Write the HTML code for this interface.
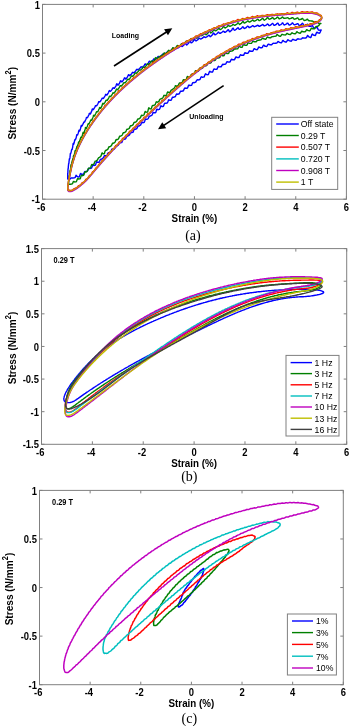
<!DOCTYPE html>
<html><head><meta charset="utf-8"><style>
html,body{margin:0;padding:0;background:#fff;width:350px;height:726px;overflow:hidden}
svg{display:block;filter:blur(0.35px)}
text{font-family:"Liberation Sans", sans-serif;fill:#000}
.tk{font-size:9.4px;font-weight:bold}
.lb{font-size:9.8px;font-weight:bold}
.lg{font-size:8.7px}
.an{font-size:7px;font-weight:bold}
.an2{font-size:7.4px;font-weight:bold}
.cap{font-family:"Liberation Serif", serif;font-size:14px}
</style></head><body>
<svg width="350" height="726" viewBox="0 0 350 726">
<rect width="350" height="726" fill="#fff"/>
<g stroke="#808080" stroke-width="1" fill="none">
<line x1="42.50" y1="199.20" x2="42.50" y2="196.20" />
<line x1="42.50" y1="4.40" x2="42.50" y2="7.40" />
<line x1="93.15" y1="199.20" x2="93.15" y2="196.20" />
<line x1="93.15" y1="4.40" x2="93.15" y2="7.40" />
<line x1="143.80" y1="199.20" x2="143.80" y2="196.20" />
<line x1="143.80" y1="4.40" x2="143.80" y2="7.40" />
<line x1="194.45" y1="199.20" x2="194.45" y2="196.20" />
<line x1="194.45" y1="4.40" x2="194.45" y2="7.40" />
<line x1="245.10" y1="199.20" x2="245.10" y2="196.20" />
<line x1="245.10" y1="4.40" x2="245.10" y2="7.40" />
<line x1="295.75" y1="199.20" x2="295.75" y2="196.20" />
<line x1="295.75" y1="4.40" x2="295.75" y2="7.40" />
<line x1="346.40" y1="199.20" x2="346.40" y2="196.20" />
<line x1="346.40" y1="4.40" x2="346.40" y2="7.40" />
<line x1="42.50" y1="199.20" x2="45.50" y2="199.20" />
<line x1="346.40" y1="199.20" x2="343.40" y2="199.20" />
<line x1="42.50" y1="150.50" x2="45.50" y2="150.50" />
<line x1="346.40" y1="150.50" x2="343.40" y2="150.50" />
<line x1="42.50" y1="101.80" x2="45.50" y2="101.80" />
<line x1="346.40" y1="101.80" x2="343.40" y2="101.80" />
<line x1="42.50" y1="53.10" x2="45.50" y2="53.10" />
<line x1="346.40" y1="53.10" x2="343.40" y2="53.10" />
<line x1="42.50" y1="4.40" x2="45.50" y2="4.40" />
<line x1="346.40" y1="4.40" x2="343.40" y2="4.40" />
<rect x="42.50" y="4.40" width="303.90" height="194.80" fill="none" />
<line x1="41.50" y1="444.30" x2="41.50" y2="441.30" />
<line x1="41.50" y1="248.60" x2="41.50" y2="251.60" />
<line x1="92.37" y1="444.30" x2="92.37" y2="441.30" />
<line x1="92.37" y1="248.60" x2="92.37" y2="251.60" />
<line x1="143.23" y1="444.30" x2="143.23" y2="441.30" />
<line x1="143.23" y1="248.60" x2="143.23" y2="251.60" />
<line x1="194.10" y1="444.30" x2="194.10" y2="441.30" />
<line x1="194.10" y1="248.60" x2="194.10" y2="251.60" />
<line x1="244.97" y1="444.30" x2="244.97" y2="441.30" />
<line x1="244.97" y1="248.60" x2="244.97" y2="251.60" />
<line x1="295.83" y1="444.30" x2="295.83" y2="441.30" />
<line x1="295.83" y1="248.60" x2="295.83" y2="251.60" />
<line x1="346.70" y1="444.30" x2="346.70" y2="441.30" />
<line x1="346.70" y1="248.60" x2="346.70" y2="251.60" />
<line x1="41.50" y1="444.30" x2="44.50" y2="444.30" />
<line x1="346.70" y1="444.30" x2="343.70" y2="444.30" />
<line x1="41.50" y1="411.68" x2="44.50" y2="411.68" />
<line x1="346.70" y1="411.68" x2="343.70" y2="411.68" />
<line x1="41.50" y1="379.07" x2="44.50" y2="379.07" />
<line x1="346.70" y1="379.07" x2="343.70" y2="379.07" />
<line x1="41.50" y1="346.45" x2="44.50" y2="346.45" />
<line x1="346.70" y1="346.45" x2="343.70" y2="346.45" />
<line x1="41.50" y1="313.83" x2="44.50" y2="313.83" />
<line x1="346.70" y1="313.83" x2="343.70" y2="313.83" />
<line x1="41.50" y1="281.22" x2="44.50" y2="281.22" />
<line x1="346.70" y1="281.22" x2="343.70" y2="281.22" />
<line x1="41.50" y1="248.60" x2="44.50" y2="248.60" />
<line x1="346.70" y1="248.60" x2="343.70" y2="248.60" />
<rect x="41.50" y="248.60" width="305.20" height="195.70" fill="none" />
<line x1="39.50" y1="684.70" x2="39.50" y2="681.70" />
<line x1="39.50" y1="490.40" x2="39.50" y2="493.40" />
<line x1="90.13" y1="684.70" x2="90.13" y2="681.70" />
<line x1="90.13" y1="490.40" x2="90.13" y2="493.40" />
<line x1="140.77" y1="684.70" x2="140.77" y2="681.70" />
<line x1="140.77" y1="490.40" x2="140.77" y2="493.40" />
<line x1="191.40" y1="684.70" x2="191.40" y2="681.70" />
<line x1="191.40" y1="490.40" x2="191.40" y2="493.40" />
<line x1="242.03" y1="684.70" x2="242.03" y2="681.70" />
<line x1="242.03" y1="490.40" x2="242.03" y2="493.40" />
<line x1="292.67" y1="684.70" x2="292.67" y2="681.70" />
<line x1="292.67" y1="490.40" x2="292.67" y2="493.40" />
<line x1="343.30" y1="684.70" x2="343.30" y2="681.70" />
<line x1="343.30" y1="490.40" x2="343.30" y2="493.40" />
<line x1="39.50" y1="684.70" x2="42.50" y2="684.70" />
<line x1="343.30" y1="684.70" x2="340.30" y2="684.70" />
<line x1="39.50" y1="636.12" x2="42.50" y2="636.12" />
<line x1="343.30" y1="636.12" x2="340.30" y2="636.12" />
<line x1="39.50" y1="587.55" x2="42.50" y2="587.55" />
<line x1="343.30" y1="587.55" x2="340.30" y2="587.55" />
<line x1="39.50" y1="538.98" x2="42.50" y2="538.98" />
<line x1="343.30" y1="538.98" x2="340.30" y2="538.98" />
<line x1="39.50" y1="490.40" x2="42.50" y2="490.40" />
<line x1="343.30" y1="490.40" x2="340.30" y2="490.40" />
<rect x="39.50" y="490.40" width="303.80" height="194.30" fill="none" />
</g>
<polyline points="67.7,178.8 67.7,179.1 67.7,178.4 67.7,177.4 67.7,176.5 67.7,175.5 67.7,173.9 67.8,172.9 67.8,173.2 67.8,173.7 67.8,173.4 67.9,172.6 67.9,171.9 67.9,171.2 68.0,170.3 68.0,169.2 68.1,168.6 68.1,168.6 68.2,168.7 68.2,168.3 68.3,167.5 68.3,166.8 68.4,166.1 68.5,165.2 68.6,164.1 68.6,163.6 68.7,163.6 68.8,163.6 68.9,163.1 69.0,162.4 69.0,161.7 69.1,161.1 69.2,160.3 69.3,159.4 69.4,158.8 69.5,158.7 69.6,159.1 69.7,158.8 69.9,157.9 70.0,157.1 70.1,156.3 70.2,155.2 70.3,154.0 70.5,153.3 70.6,153.6 70.7,153.6 70.8,153.1 71.0,152.5 71.1,152.0 71.3,151.4 71.4,150.8 71.5,150.2 71.7,149.6 71.9,149.2 72.0,149.4 72.2,149.5 72.3,148.7 72.5,147.8 72.7,147.0 72.8,146.0 73.0,144.6 73.2,143.5 73.3,143.7 73.5,144.3 73.7,144.2 73.9,143.6 74.1,142.9 74.3,142.3 74.4,141.6 74.6,140.7 74.8,139.9 75.0,139.5 75.2,139.6 75.4,139.8 75.6,139.4 75.8,138.6 76.1,137.9 76.3,137.2 76.5,136.2 76.7,135.1 76.9,134.6 77.1,134.9 77.4,135.1 77.6,134.9 77.8,134.2 78.1,133.5 78.3,132.9 78.5,132.0 78.8,131.0 79.0,130.3 79.2,130.3 79.5,130.8 79.7,131.0 80.0,130.3 80.2,129.4 80.5,128.7 80.7,127.8 81.0,126.5 81.3,125.5 81.5,125.4 81.8,126.2 82.1,125.8 82.3,125.3 82.6,124.8 82.9,124.2 83.2,123.7 83.4,123.1 83.7,122.5 84.0,122.1 84.3,121.8 84.6,122.0 84.8,121.6 85.1,120.9 85.4,120.3 85.7,119.7 86.0,118.9 86.3,117.9 86.6,117.4 86.9,117.5 87.2,117.7 87.5,117.6 87.8,117.0 88.1,116.3 88.5,115.7 88.8,115.0 89.1,114.1 89.4,113.4 89.7,113.3 90.0,113.8 90.4,114.0 90.7,113.4 91.0,112.6 91.3,111.9 91.7,111.1 92.0,109.9 92.3,108.9 92.7,108.9 93.0,109.7 93.4,109.5 93.7,109.1 94.0,108.5 94.4,107.9 94.7,107.4 95.1,106.6 95.4,105.9 95.8,105.6 96.1,105.7 96.5,105.9 96.8,105.6 97.2,104.9 97.6,104.3 97.9,103.7 98.3,102.8 98.6,101.9 99.0,101.6 99.4,101.9 99.7,102.0 100.1,101.7 100.5,101.1 100.9,100.5 101.2,100.0 101.6,99.3 102.0,98.5 102.4,98.1 102.7,98.2 103.1,98.5 103.5,98.4 103.9,97.7 104.3,97.1 104.7,96.5 105.1,95.7 105.5,94.7 105.8,94.3 106.2,94.6 106.6,95.1 107.0,95.0 107.4,94.3 107.8,93.6 108.2,93.1 108.6,92.2 109.0,91.1 109.4,90.6 109.8,91.0 110.3,91.3 110.7,91.1 111.1,90.6 111.5,90.1 111.9,89.6 112.3,89.0 112.7,88.2 113.1,87.8 113.6,87.9 114.0,88.4 114.4,88.4 114.8,87.7 115.2,87.0 115.7,86.4 116.1,85.4 116.5,84.3 116.9,83.8 117.4,84.4 117.8,85.1 118.2,85.1 118.7,84.4 119.1,83.7 119.5,83.2 119.9,82.2 120.4,81.1 120.8,80.7 121.3,81.3 121.7,81.9 122.1,81.8 122.6,81.1 123.0,80.5 123.5,80.0 123.9,79.1 124.3,78.1 124.8,77.8 125.2,78.3 125.7,79.0 126.1,78.8 126.6,78.1 127.0,77.5 127.5,76.9 127.9,76.0 128.4,74.9 128.8,74.7 129.3,75.4 129.7,75.7 130.2,75.4 130.6,74.8 131.1,74.4 131.6,73.9 132.0,73.2 132.5,72.5 132.9,72.3 133.4,72.6 133.9,72.9 134.3,72.6 134.8,72.0 135.2,71.5 135.7,71.0 136.2,70.2 136.6,69.4 137.1,69.3 137.6,69.8 138.0,69.9 138.5,69.6 139.0,69.1 139.4,68.7 139.9,68.2 140.4,67.5 140.9,66.9 141.3,66.8 141.8,67.1 142.3,67.4 142.7,67.0 143.2,66.4 143.7,66.0 144.2,65.5 144.6,64.7 145.1,64.0 145.6,64.0 146.1,64.5 146.5,64.9 147.0,64.6 147.5,63.9 148.0,63.4 148.5,62.8 148.9,61.9 149.4,61.1 149.9,61.3 150.4,61.9 150.9,62.0 151.3,61.7 151.8,61.2 152.3,60.8 152.8,60.3 153.3,59.6 153.7,59.0 154.2,59.0 154.7,59.4 155.2,59.6 155.7,59.3 156.2,58.8 156.6,58.4 157.1,57.9 157.6,57.1 158.1,56.5 158.6,56.5 159.1,57.0 159.5,57.2 160.0,56.8 160.5,56.4 161.0,56.0 161.5,55.5 162.0,54.9 162.5,54.3 163.0,54.2 163.4,54.6 163.9,54.8 164.4,54.5 164.9,54.1 165.4,53.7 165.9,53.3 166.4,52.7 166.9,52.1 167.4,52.0 167.8,52.3 168.3,52.6 168.8,52.4 169.3,51.9 169.8,51.5 170.3,51.1 170.8,50.5 171.3,49.9 171.8,49.7 172.3,50.0 172.8,50.5 173.3,50.4 173.8,49.9 174.3,49.5 174.8,49.1 175.2,48.4 175.7,47.6 176.2,47.4 176.7,47.8 177.2,48.2 177.7,48.1 178.2,47.7 178.7,47.4 179.2,47.0 179.7,46.6 180.2,46.0 180.7,45.7 181.2,45.8 181.7,46.3 182.2,46.5 182.7,46.1 183.2,45.6 183.7,45.2 184.2,44.7 184.7,43.8 185.2,43.3 185.7,43.6 186.2,44.5 186.7,45.0 187.2,44.6 187.8,43.9 188.3,43.5 188.8,42.9 189.3,41.8 189.8,41.0 190.3,41.3 190.8,42.4 191.3,42.9 191.8,42.7 192.3,42.1 192.8,41.7 193.3,41.2 193.8,40.4 194.3,39.6 194.9,39.6 195.4,40.4 195.9,40.9 196.4,40.8 196.9,40.3 197.4,40.0 197.9,39.6 198.4,39.0 198.9,38.3 199.5,38.1 200.0,38.6 200.5,39.0 201.0,39.0 201.5,38.6 202.0,38.3 202.6,38.0 203.1,37.6 203.6,37.0 204.1,36.8 204.6,37.0 205.1,37.4 205.7,37.5 206.2,37.2 206.7,36.8 207.2,36.6 207.7,36.2 208.3,35.6 208.8,35.2 209.3,35.4 209.8,36.2 210.3,36.7 210.9,36.4 211.4,35.7 211.9,35.4 212.4,34.8 213.0,33.7 213.5,33.0 214.0,33.4 214.5,34.5 215.1,34.9 215.6,34.7 216.1,34.2 216.6,33.9 217.2,33.5 217.7,32.9 218.2,32.2 218.7,32.3 219.3,33.0 219.8,33.4 220.3,33.3 220.9,32.9 221.4,32.6 221.9,32.3 222.5,31.8 223.0,31.3 223.5,31.3 224.1,31.7 224.6,32.4 225.1,32.3 225.7,31.9 226.2,31.6 226.7,31.2 227.3,30.6 227.8,29.9 228.3,29.8 228.9,30.5 229.4,31.6 229.9,31.8 230.5,31.2 231.0,30.7 231.6,30.3 232.1,29.4 232.6,28.3 233.2,28.1 233.7,29.3 234.3,30.1 234.8,30.2 235.4,29.8 235.9,29.5 236.4,29.2 237.0,28.6 237.5,28.0 238.1,27.8 238.6,28.4 239.2,29.3 239.7,29.4 240.3,29.0 240.8,28.6 241.4,28.3 241.9,27.7 242.5,26.9 243.0,26.8 243.5,27.5 244.1,28.4 244.6,28.5 245.2,28.1 245.7,27.8 246.3,27.5 246.8,26.9 247.4,26.2 247.9,26.1 248.5,26.8 249.1,27.5 249.6,27.6 250.2,27.2 250.7,27.0 251.3,26.7 251.8,26.3 252.4,25.7 252.9,25.6 253.5,26.2 254.0,26.6 254.6,26.7 255.1,26.4 255.7,26.2 256.2,26.1 256.8,25.7 257.4,25.3 257.9,25.3 258.5,25.7 259.0,26.2 259.6,26.3 260.1,26.0 260.7,25.7 261.2,25.5 261.8,25.1 262.4,24.5 262.9,24.5 263.5,25.2 264.0,25.8 264.6,25.8 265.1,25.5 265.7,25.3 266.2,25.1 266.8,24.6 267.4,24.0 267.9,24.1 268.5,24.8 269.0,25.6 269.6,25.6 270.1,25.3 270.7,25.0 271.2,24.7 271.8,24.1 272.4,23.4 272.9,23.5 273.5,24.5 274.0,25.4 274.6,25.4 275.1,25.0 275.7,24.7 276.2,24.5 276.8,23.8 277.4,23.1 277.9,23.2 278.5,24.2 279.0,25.2 279.6,25.2 280.1,24.8 280.7,24.6 281.2,24.3 281.8,23.6 282.3,22.9 282.9,23.0 283.4,24.1 284.0,24.9 284.5,25.0 285.1,24.6 285.6,24.4 286.2,24.2 286.7,23.7 287.3,23.1 287.8,23.1 288.4,24.0 288.9,24.9 289.5,25.1 290.0,24.8 290.6,24.5 291.1,24.3 291.7,23.7 292.2,23.0 292.8,23.0 293.3,23.9 293.9,24.6 294.4,24.8 295.0,24.6 295.5,24.5 296.1,24.4 296.6,24.1 297.2,23.7 297.7,23.6 298.2,24.1 298.8,25.0 299.3,25.6 299.9,25.3 300.4,25.0 300.9,24.8 301.5,24.4 302.0,23.6 302.5,23.2 303.1,23.9 303.6,25.1 304.1,25.7 304.7,25.7 305.2,25.5 305.7,25.4 306.2,25.2 306.8,24.7 307.3,24.2 307.8,24.4 308.3,25.3 308.8,26.2 309.3,26.4 309.8,26.3 310.3,26.3 310.8,26.3 311.3,26.1 311.8,25.8 312.3,25.6 312.8,26.1 313.3,27.1 313.8,27.9 314.3,28.1 314.8,27.9 315.3,27.9 315.7,27.9 316.2,27.6 316.7,27.2 317.2,27.4 317.6,28.3 318.1,29.4 318.5,30.0 319.0,30.1 319.4,30.1 319.9,30.3 320.3,30.3 320.8,30.0 321.2,30.0 320.8,30.6 320.4,31.7 319.9,32.8 319.5,33.2 319.1,33.0 318.6,33.0 318.2,33.1 317.8,32.8 317.3,32.3 316.9,32.1 316.4,32.8 316.0,34.1 315.5,35.3 315.1,35.6 314.6,35.4 314.2,35.3 313.7,35.3 313.3,35.0 312.8,34.3 312.4,34.0 311.9,34.6 311.4,35.9 311.0,37.2 310.5,37.6 310.0,37.3 309.6,37.1 309.1,37.0 308.6,36.7 308.1,35.9 307.7,35.4 307.2,35.9 306.7,37.3 306.2,37.8 305.7,38.0 305.3,38.0 304.8,38.0 304.3,38.1 303.8,38.1 303.3,37.9 302.8,37.8 302.3,38.0 301.9,38.5 301.4,38.9 300.9,39.1 300.4,39.1 299.9,39.1 299.4,39.1 298.9,39.1 298.4,38.9 297.9,38.8 297.4,39.0 296.9,39.4 296.4,40.1 295.9,40.3 295.4,40.2 294.9,40.1 294.4,40.0 293.9,39.9 293.4,39.5 292.9,39.3 292.4,39.6 291.9,40.3 291.4,41.1 290.9,41.2 290.4,41.0 289.9,40.9 289.4,40.8 288.9,40.5 288.4,40.0 287.9,39.8 287.4,40.3 286.9,41.2 286.4,42.0 285.9,42.2 285.4,41.9 284.9,41.7 284.4,41.6 283.9,41.2 283.4,40.6 282.9,40.4 282.4,41.0 281.9,42.1 281.4,42.8 280.9,42.8 280.4,42.6 279.9,42.5 279.5,42.4 279.0,42.1 278.5,41.6 278.0,41.5 277.5,42.1 277.0,42.9 276.5,43.1 276.0,43.2 275.5,43.3 275.0,43.3 274.6,43.4 274.1,43.4 273.6,43.3 273.1,43.4 272.6,43.7 272.1,44.2 271.6,44.8 271.2,44.8 270.7,44.7 270.2,44.7 269.7,44.7 269.2,44.5 268.8,44.1 268.3,44.1 267.8,44.7 267.3,45.6 266.8,46.4 266.4,46.5 265.9,46.3 265.4,46.2 264.9,46.2 264.5,45.8 264.0,45.3 263.5,45.2 263.0,45.9 262.6,47.0 262.1,47.7 261.6,47.9 261.2,47.8 260.7,47.7 260.2,47.7 259.8,47.5 259.3,47.1 258.8,47.0 258.4,47.6 257.9,48.7 257.4,49.5 257.0,49.7 256.5,49.6 256.0,49.5 255.6,49.5 255.1,49.2 254.6,48.7 254.2,48.6 253.7,49.2 253.3,50.4 252.8,51.1 252.3,51.3 251.9,51.2 251.4,51.2 251.0,51.3 250.5,51.2 250.0,50.9 249.6,50.8 249.1,51.3 248.7,52.2 248.2,53.0 247.8,53.2 247.3,53.2 246.8,53.2 246.4,53.3 245.9,53.2 245.5,52.9 245.0,52.8 244.6,53.3 244.1,54.2 243.7,55.1 243.2,55.4 242.8,55.3 242.3,55.3 241.9,55.4 241.4,55.3 241.0,54.9 240.5,54.8 240.1,55.2 239.6,56.2 239.2,57.2 238.7,57.6 238.3,57.5 237.8,57.5 237.4,57.6 236.9,57.5 236.5,57.1 236.1,56.9 235.6,57.3 235.2,58.4 234.7,59.3 234.3,59.8 233.8,59.7 233.4,59.7 232.9,59.8 232.5,59.7 232.1,59.4 231.6,59.2 231.2,59.6 230.7,60.6 230.3,61.6 229.9,62.0 229.4,62.0 229.0,62.0 228.5,62.1 228.1,62.1 227.7,61.8 227.2,61.6 226.8,62.0 226.3,62.9 225.9,63.7 225.5,64.1 225.0,64.2 224.6,64.3 224.2,64.4 223.7,64.5 223.3,64.3 222.8,64.2 222.4,64.6 222.0,65.3 221.5,66.3 221.1,66.8 220.7,66.9 220.2,66.8 219.8,66.9 219.4,66.9 218.9,66.6 218.5,66.3 218.1,66.7 217.6,67.7 217.2,68.7 216.8,69.2 216.3,69.3 215.9,69.3 215.5,69.4 215.1,69.4 214.6,69.2 214.2,68.9 213.8,69.2 213.3,70.2 212.9,71.4 212.5,72.0 212.1,72.1 211.6,72.0 211.2,72.0 210.8,72.0 210.3,71.6 209.9,71.2 209.5,71.5 209.1,72.6 208.6,74.0 208.2,74.6 207.8,74.7 207.4,74.6 206.9,74.6 206.5,74.6 206.1,74.2 205.7,73.8 205.3,74.1 204.8,75.2 204.4,76.4 204.0,77.0 203.6,77.1 203.1,77.1 202.7,77.2 202.3,77.3 201.9,77.0 201.5,76.8 201.0,77.1 200.6,78.0 200.2,79.0 199.8,79.5 199.4,79.7 198.9,79.7 198.5,79.9 198.1,80.0 197.7,79.8 197.3,79.7 196.9,80.0 196.4,80.8 196.0,81.7 195.6,82.2 195.2,82.4 194.8,82.4 194.4,82.6 194.0,82.7 193.5,82.6 193.1,82.5 192.7,82.8 192.3,83.6 191.9,84.6 191.5,85.3 191.1,85.4 190.6,85.4 190.2,85.5 189.8,85.6 189.4,85.3 189.0,85.0 188.6,85.3 188.2,86.3 187.8,87.4 187.4,88.0 187.0,88.2 186.5,88.2 186.1,88.3 185.7,88.4 185.3,88.2 184.9,88.0 184.5,88.3 184.1,89.2 183.7,90.2 183.3,90.8 182.9,91.0 182.5,91.0 182.1,91.2 181.7,91.3 181.3,91.2 180.8,91.1 180.4,91.4 180.0,92.2 179.6,93.2 179.2,93.9 178.8,94.0 178.4,94.0 178.0,94.2 177.6,94.3 177.2,94.1 176.8,93.9 176.4,94.2 176.0,95.1 175.6,96.1 175.2,96.7 174.8,96.8 174.4,96.9 174.0,97.1 173.6,97.3 173.2,97.2 172.8,97.1 172.4,97.4 172.0,98.2 171.6,99.3 171.2,100.1 170.8,100.2 170.4,100.2 170.0,100.3 169.6,100.3 169.2,100.0 168.8,99.8 168.5,100.1 168.1,101.2 167.7,102.2 167.3,102.8 166.9,103.0 166.5,103.1 166.1,103.3 165.7,103.4 165.3,103.3 164.9,103.2 164.5,103.6 164.1,104.4 163.7,105.7 163.3,106.4 162.9,106.5 162.6,106.4 162.2,106.5 161.8,106.5 161.4,106.1 161.0,105.8 160.6,106.2 160.2,107.5 159.8,108.7 159.4,109.3 159.1,109.4 158.7,109.5 158.3,109.6 157.9,109.7 157.5,109.4 157.1,109.2 156.7,109.6 156.3,110.7 156.0,111.9 155.6,112.6 155.2,112.7 154.8,112.7 154.4,112.8 154.0,112.9 153.7,112.6 153.3,112.4 152.9,112.8 152.5,114.0 152.1,114.9 151.7,115.3 151.4,115.5 151.0,115.7 150.6,115.9 150.2,116.1 149.8,116.1 149.4,116.2 149.1,116.6 148.7,117.4 148.3,118.4 147.9,118.9 147.5,119.1 147.2,119.1 146.8,119.3 146.4,119.4 146.0,119.2 145.7,119.0 145.3,119.5 144.9,120.6 144.5,121.8 144.1,122.4 143.8,122.5 143.4,122.5 143.0,122.7 142.6,122.7 142.3,122.3 141.9,122.2 141.5,122.7 141.1,123.9 140.8,124.8 140.4,125.2 140.0,125.4 139.6,125.6 139.3,125.9 138.9,126.0 138.5,126.0 138.1,126.1 137.8,126.5 137.4,127.4 137.0,128.3 136.6,128.8 136.3,128.9 135.9,129.0 135.5,129.2 135.1,129.3 134.8,129.2 134.4,129.2 134.0,129.7 133.6,130.7 133.3,131.7 132.9,132.2 132.5,132.3 132.2,132.4 131.8,132.6 131.4,132.7 131.0,132.5 130.7,132.4 130.3,133.0 129.9,134.1 129.6,134.8 129.2,135.2 128.8,135.4 128.4,135.6 128.1,135.9 127.7,136.0 127.3,136.1 127.0,136.2 126.6,136.7 126.2,137.4 125.8,138.5 125.5,139.0 125.1,139.0 124.7,139.1 124.3,139.3 124.0,139.3 123.6,139.1 123.2,139.0 122.9,139.6 122.5,140.8 122.1,141.9 121.7,142.5 121.4,142.5 121.0,142.5 120.6,142.7 120.3,142.7 119.9,142.3 119.5,142.2 119.1,142.8 118.8,144.1 118.4,144.9 118.0,145.3 117.7,145.5 117.3,145.7 116.9,145.9 116.5,146.0 116.2,146.0 115.8,146.1 115.4,146.5 115.1,147.4 114.7,148.4 114.3,149.0 113.9,149.0 113.6,149.1 113.2,149.3 112.8,149.3 112.4,149.1 112.1,149.0 111.7,149.5 111.3,150.6 111.0,151.4 110.6,151.8 110.2,152.0 109.8,152.2 109.5,152.5 109.1,152.6 108.7,152.7 108.3,152.8 108.0,153.2 107.6,153.9 107.2,154.8 106.8,155.4 106.5,155.5 106.1,155.6 105.7,155.8 105.3,155.9 105.0,155.7 104.6,155.6 104.2,156.0 103.8,156.9 103.4,157.7 103.1,158.2 102.7,158.4 102.3,158.6 101.9,158.9 101.6,159.1 101.2,159.2 100.8,159.3 100.4,159.6 100.0,160.2 99.7,161.2 99.3,162.1 98.9,162.2 98.5,162.2 98.1,162.3 97.8,162.4 97.4,162.1 97.0,161.7 96.6,161.8 96.2,162.8 95.8,164.1 95.5,165.0 95.1,165.2 94.7,165.2 94.3,165.3 93.9,165.5 93.5,165.4 93.2,165.1 92.8,165.1 92.4,165.9 92.0,167.0 91.6,167.9 91.2,168.2 90.9,168.2 90.5,168.4 90.1,168.5 89.7,168.5 89.3,168.3 88.9,168.3 88.5,168.8 88.1,169.8 87.7,170.6 87.4,171.0 87.0,171.1 86.6,171.3 86.2,171.5 85.8,171.6 85.4,171.5 85.0,171.4 84.6,171.8 84.2,172.6 83.8,173.7 83.4,174.4 83.0,174.4 82.6,174.3 82.2,174.4 81.8,174.4 81.3,174.0 80.9,173.5 80.5,173.6 80.1,174.5 79.7,175.9 79.2,176.9 78.8,177.1 78.4,176.9 77.9,176.8 77.5,176.7 77.0,176.4 76.6,175.7 76.1,175.3 75.7,176.0 75.2,177.4 74.7,177.7 74.3,177.9 73.8,177.9 73.3,178.0 72.8,178.0 72.3,178.0 71.8,178.0 71.4,177.9 70.8,178.1 70.3,178.4 69.8,179.4 69.3,179.6 68.8,179.2 68.2,178.9 67.7,178.7" fill="none" stroke="#0000ff" stroke-width="1.4" stroke-linejoin="round" />
<polyline points="68.4,185.1 68.4,185.0 68.5,184.4 68.5,183.6 68.5,182.9 68.6,182.1 68.6,181.0 68.7,180.2 68.7,180.0 68.8,180.2 68.9,180.0 68.9,179.3 69.0,178.5 69.0,177.8 69.1,176.9 69.2,175.7 69.3,175.0 69.3,175.0 69.4,174.9 69.5,174.4 69.6,173.8 69.7,173.2 69.8,172.6 69.9,171.9 69.9,171.3 70.0,170.7 70.1,170.3 70.2,170.7 70.4,170.4 70.5,169.5 70.6,168.6 70.7,167.8 70.8,166.6 70.9,165.2 71.0,164.6 71.2,165.2 71.3,165.1 71.4,164.6 71.5,164.0 71.7,163.4 71.8,162.8 71.9,162.1 72.1,161.3 72.2,160.8 72.4,160.5 72.5,160.4 72.6,160.0 72.8,159.3 72.9,158.6 73.1,158.0 73.3,157.2 73.4,156.3 73.6,155.7 73.7,155.6 73.9,155.9 74.1,155.6 74.2,154.8 74.4,154.1 74.6,153.4 74.8,152.4 75.0,151.2 75.1,150.6 75.3,150.8 75.5,150.9 75.7,150.5 75.9,149.9 76.1,149.2 76.3,148.6 76.5,147.9 76.7,147.1 76.9,146.5 77.1,146.3 77.3,146.2 77.5,146.0 77.7,145.3 77.9,144.7 78.1,144.1 78.3,143.4 78.5,142.5 78.8,141.9 79.0,141.6 79.2,141.7 79.4,141.5 79.7,140.9 79.9,140.2 80.1,139.6 80.4,138.9 80.6,138.1 80.8,137.3 81.1,137.1 81.3,137.3 81.6,137.4 81.8,136.8 82.1,136.0 82.3,135.3 82.6,134.5 82.8,133.4 83.1,132.5 83.3,132.3 83.6,132.8 83.8,133.4 84.1,132.9 84.4,131.9 84.6,131.1 84.9,130.3 85.2,128.9 85.4,127.6 85.7,127.5 86.0,128.4 86.3,128.5 86.5,128.1 86.8,127.3 87.1,126.7 87.4,126.0 87.7,125.1 88.0,124.1 88.3,123.7 88.6,124.0 88.8,124.0 89.1,123.6 89.4,123.0 89.7,122.4 90.0,121.8 90.3,121.1 90.6,120.3 90.9,119.9 91.2,119.9 91.6,120.2 91.9,119.9 92.2,119.1 92.5,118.4 92.8,117.8 93.1,116.9 93.4,115.8 93.8,115.3 94.1,115.6 94.4,115.9 94.7,115.6 95.1,114.9 95.4,114.3 95.7,113.7 96.0,113.0 96.4,112.1 96.7,111.6 97.0,111.7 97.4,111.9 97.7,111.7 98.1,111.1 98.4,110.4 98.7,109.8 99.1,109.0 99.4,108.0 99.8,107.5 100.1,107.7 100.5,108.2 100.8,108.2 101.2,107.4 101.5,106.6 101.9,106.0 102.2,105.0 102.6,103.8 103.0,103.3 103.3,103.7 103.7,104.1 104.0,103.8 104.4,103.2 104.8,102.6 105.1,102.1 105.5,101.4 105.9,100.6 106.2,100.1 106.6,100.2 107.0,100.4 107.4,100.3 107.7,99.6 108.1,99.0 108.5,98.4 108.9,97.6 109.3,96.6 109.6,96.2 110.0,96.4 110.4,96.6 110.8,96.4 111.2,95.8 111.6,95.2 112.0,94.7 112.4,94.0 112.7,93.3 113.1,92.8 113.5,92.9 113.9,93.2 114.3,92.9 114.7,92.3 115.1,91.7 115.5,91.2 115.9,90.4 116.3,89.5 116.7,89.1 117.1,89.4 117.5,89.8 117.9,89.5 118.3,88.8 118.7,88.2 119.2,87.7 119.6,86.8 120.0,85.8 120.4,85.6 120.8,86.0 121.2,86.1 121.6,85.8 122.0,85.2 122.5,84.7 122.9,84.2 123.3,83.5 123.7,82.8 124.1,82.6 124.6,82.7 125.0,82.9 125.4,82.5 125.8,81.9 126.3,81.4 126.7,80.8 127.1,80.0 127.5,79.3 128.0,79.1 128.4,79.5 128.8,79.6 129.3,79.2 129.7,78.6 130.1,78.1 130.5,77.5 131.0,76.7 131.4,76.0 131.8,75.9 132.3,76.3 132.7,76.3 133.2,75.9 133.6,75.3 134.0,74.9 134.5,74.3 134.9,73.5 135.4,72.9 135.8,72.9 136.2,73.2 136.7,73.1 137.1,72.6 137.6,72.1 138.0,71.7 138.5,71.2 138.9,70.5 139.4,70.0 139.8,70.0 140.3,70.1 140.7,70.0 141.2,69.5 141.6,69.1 142.1,68.7 142.5,68.2 143.0,67.5 143.4,67.1 143.9,67.1 144.3,67.3 144.8,67.3 145.2,66.8 145.7,66.2 146.1,65.8 146.6,65.1 147.1,64.2 147.5,63.8 148.0,64.0 148.4,64.4 148.9,64.4 149.4,63.8 149.8,63.3 150.3,62.9 150.7,62.2 151.2,61.4 151.7,61.0 152.1,61.2 152.6,62.1 153.1,62.2 153.5,61.4 154.0,60.7 154.5,60.2 154.9,59.1 155.4,57.8 155.9,57.5 156.4,58.4 156.8,58.5 157.3,58.2 157.8,57.9 158.2,57.6 158.7,57.2 159.2,56.9 159.7,56.5 160.1,56.2 160.6,56.0 161.1,56.4 161.6,56.2 162.0,55.6 162.5,55.1 163.0,54.7 163.5,53.9 164.0,53.1 164.4,52.9 164.9,53.3 165.4,53.8 165.9,53.7 166.4,53.1 166.9,52.6 167.3,52.1 167.8,51.3 168.3,50.5 168.8,50.3 169.3,50.9 169.8,51.6 170.3,51.4 170.7,50.7 171.2,50.2 171.7,49.6 172.2,48.7 172.7,47.7 173.2,47.6 173.7,48.5 174.2,49.0 174.7,48.8 175.2,48.2 175.6,47.7 176.1,47.2 176.6,46.4 177.1,45.6 177.6,45.5 178.1,46.2 178.6,46.3 179.1,46.1 179.6,45.6 180.1,45.3 180.6,44.9 181.1,44.3 181.6,43.7 182.1,43.6 182.6,43.9 183.1,44.3 183.6,44.1 184.1,43.5 184.6,43.1 185.1,42.7 185.6,41.9 186.1,41.2 186.6,41.2 187.1,41.8 187.6,42.3 188.1,42.0 188.6,41.4 189.2,41.0 189.7,40.5 190.2,39.7 190.7,38.9 191.2,39.0 191.7,39.8 192.2,40.0 192.7,39.7 193.2,39.2 193.7,38.9 194.2,38.5 194.8,37.8 195.3,37.2 195.8,37.2 196.3,37.8 196.8,38.3 197.3,38.0 197.8,37.4 198.3,37.0 198.9,36.5 199.4,35.6 199.9,34.9 200.4,35.1 200.9,35.7 201.4,35.7 202.0,35.5 202.5,35.2 203.0,34.9 203.5,34.6 204.0,34.2 204.6,33.9 205.1,33.8 205.6,34.2 206.1,34.8 206.6,34.5 207.2,33.8 207.7,33.4 208.2,32.8 208.7,31.7 209.2,31.0 209.8,31.3 210.3,32.4 210.8,33.0 211.3,32.7 211.9,32.1 212.4,31.7 212.9,31.1 213.4,30.1 214.0,29.4 214.5,29.8 215.0,30.7 215.6,30.9 216.1,30.6 216.6,30.2 217.1,29.9 217.7,29.5 218.2,28.9 218.7,28.4 219.3,28.6 219.8,29.2 220.3,29.6 220.9,29.3 221.4,28.8 221.9,28.5 222.5,28.0 223.0,27.1 223.5,26.6 224.1,26.9 224.6,27.7 225.1,28.0 225.7,27.7 226.2,27.3 226.7,27.0 227.3,26.6 227.8,25.8 228.3,25.4 228.9,25.7 229.4,26.2 229.9,26.4 230.5,26.2 231.0,25.8 231.6,25.6 232.1,25.2 232.6,24.7 233.2,24.4 233.7,24.5 234.2,25.1 234.8,25.4 235.3,25.1 235.9,24.7 236.4,24.4 237.0,24.0 237.5,23.3 238.0,22.8 238.6,23.2 239.1,24.0 239.7,24.5 240.2,24.1 240.7,23.6 241.3,23.3 241.8,22.8 242.4,21.9 242.9,21.4 243.5,21.9 244.0,22.8 244.6,23.0 245.1,22.8 245.6,22.4 246.2,22.2 246.7,21.8 247.3,21.2 247.8,20.9 248.4,21.2 248.9,21.8 249.5,22.0 250.0,21.8 250.6,21.5 251.1,21.2 251.7,20.9 252.2,20.3 252.8,20.0 253.3,20.3 253.8,21.0 254.4,21.2 254.9,21.0 255.5,20.6 256.0,20.4 256.6,20.0 257.1,19.4 257.7,19.1 258.2,19.5 258.8,20.3 259.3,20.6 259.9,20.3 260.4,20.0 261.0,19.7 261.5,19.3 262.1,18.6 262.6,18.2 263.2,18.7 263.7,19.7 264.3,20.2 264.8,19.9 265.4,19.5 265.9,19.2 266.5,18.7 267.0,17.9 267.6,17.4 268.1,18.0 268.7,18.9 269.2,19.2 269.8,19.1 270.3,18.8 270.9,18.7 271.4,18.4 272.0,17.9 272.5,17.6 273.1,17.9 273.6,18.7 274.2,19.2 274.7,19.0 275.3,18.6 275.8,18.4 276.4,18.1 276.9,17.4 277.5,17.0 278.0,17.4 278.6,18.3 279.1,18.9 279.7,18.8 280.2,18.4 280.8,18.3 281.3,18.0 281.9,17.4 282.4,17.0 283.0,17.3 283.5,18.1 284.1,18.3 284.6,18.3 285.2,18.2 285.7,18.1 286.3,18.1 286.8,17.9 287.4,17.8 287.9,17.9 288.5,18.2 289.0,18.7 289.6,18.8 290.1,18.6 290.7,18.4 291.2,18.3 291.8,17.9 292.3,17.6 292.9,17.7 293.4,18.4 294.0,19.1 294.5,19.2 295.0,19.0 295.6,18.8 296.1,18.7 296.7,18.3 297.2,17.9 297.8,18.0 298.3,18.7 298.9,19.5 299.4,19.7 300.0,19.5 300.5,19.4 301.0,19.3 301.6,19.0 302.1,18.5 302.7,18.5 303.2,19.3 303.8,20.2 304.3,20.5 304.8,20.3 305.4,20.2 305.9,20.1 306.5,19.8 307.0,19.3 307.5,19.2 308.1,20.0 308.6,20.6 309.2,20.8 309.7,20.8 310.2,20.9 310.8,20.9 311.3,21.0 311.8,20.9 312.4,21.0 312.9,21.3 313.4,21.9 314.0,22.4 314.5,22.3 315.1,22.2 315.6,22.2 316.1,22.0 316.7,21.6 317.2,21.5 317.7,22.2 318.3,23.0 318.8,23.5 319.3,23.5 319.8,23.5 320.4,23.6 320.9,23.5 320.6,23.5 320.2,23.5 319.8,23.9 319.4,24.7 319.1,25.3 318.7,25.7 318.3,25.9 317.9,26.1 317.5,26.3 317.1,26.4 316.7,26.5 316.3,26.5 315.9,26.7 315.5,27.1 315.1,27.7 314.7,28.6 314.2,28.9 313.8,28.8 313.4,28.8 312.9,28.8 312.5,28.7 312.1,28.4 311.6,28.1 311.2,28.4 310.7,29.3 310.3,30.3 309.8,30.8 309.4,30.8 308.9,30.6 308.4,30.6 308.0,30.5 307.5,30.1 307.0,29.7 306.6,29.7 306.1,30.5 305.6,31.4 305.1,31.8 304.6,31.9 304.1,31.8 303.7,31.8 303.2,31.8 302.7,31.6 302.2,31.3 301.7,31.3 301.2,31.9 300.7,32.8 300.2,33.3 299.7,33.2 299.2,33.0 298.7,32.9 298.2,32.7 297.6,32.2 297.1,31.7 296.6,31.9 296.1,32.9 295.6,33.6 295.1,33.8 294.6,33.7 294.0,33.6 293.5,33.6 293.0,33.4 292.5,33.0 292.0,32.8 291.4,33.3 290.9,34.1 290.4,34.6 289.9,34.6 289.3,34.4 288.8,34.3 288.3,34.2 287.8,33.8 287.2,33.4 286.7,33.5 286.2,34.3 285.7,34.9 285.1,35.0 284.6,34.9 284.1,34.9 283.6,34.9 283.1,34.7 282.5,34.5 282.0,34.4 281.5,34.8 281.0,35.7 280.4,36.4 279.9,36.3 279.4,36.0 278.9,35.9 278.4,35.6 277.8,34.9 277.3,34.4 276.8,34.7 276.3,35.9 275.8,36.1 275.3,36.2 274.8,36.3 274.2,36.4 273.7,36.5 273.2,36.6 272.7,36.6 272.2,36.7 271.7,36.9 271.2,37.2 270.7,37.8 270.2,37.9 269.7,37.7 269.2,37.7 268.7,37.6 268.2,37.3 267.7,37.0 267.2,37.1 266.7,37.8 266.2,38.8 265.7,39.3 265.2,39.2 264.7,39.0 264.2,39.0 263.7,38.8 263.2,38.3 262.7,38.0 262.2,38.3 261.7,39.3 261.2,39.7 260.7,39.9 260.2,40.0 259.7,40.0 259.2,40.2 258.7,40.2 258.2,40.2 257.8,40.3 257.3,40.5 256.8,40.9 256.3,41.7 255.8,41.8 255.3,41.7 254.8,41.7 254.4,41.8 253.9,41.6 253.4,41.3 252.9,41.3 252.4,41.9 251.9,42.7 251.5,43.3 251.0,43.4 250.5,43.4 250.0,43.4 249.5,43.4 249.1,43.2 248.6,42.9 248.1,43.0 247.6,43.7 247.2,44.7 246.7,45.4 246.2,45.4 245.7,45.2 245.3,45.2 244.8,45.2 244.3,44.8 243.8,44.4 243.4,44.6 242.9,45.6 242.4,46.8 242.0,47.4 241.5,47.3 241.0,47.1 240.6,47.2 240.1,47.0 239.6,46.5 239.2,46.1 238.7,46.5 238.2,47.7 237.8,48.6 237.3,48.9 236.8,48.9 236.4,48.9 235.9,49.0 235.4,49.0 235.0,48.8 234.5,48.7 234.1,49.1 233.6,50.0 233.1,50.5 232.7,50.8 232.2,50.8 231.8,51.0 231.3,51.1 230.8,51.2 230.4,51.1 229.9,51.2 229.5,51.6 229.0,52.4 228.6,53.4 228.1,53.6 227.6,53.5 227.2,53.4 226.7,53.5 226.3,53.2 225.8,52.6 225.4,52.6 224.9,53.5 224.5,54.8 224.0,55.7 223.6,55.9 223.1,55.7 222.7,55.7 222.2,55.7 221.8,55.4 221.3,54.9 220.9,55.1 220.4,56.1 220.0,57.2 219.5,57.7 219.1,57.9 218.6,57.9 218.2,58.0 217.7,58.1 217.3,58.0 216.9,57.8 216.4,58.1 216.0,58.9 215.5,59.9 215.1,60.4 214.6,60.5 214.2,60.5 213.8,60.6 213.3,60.6 212.9,60.3 212.4,60.1 212.0,60.6 211.6,61.7 211.1,62.6 210.7,63.0 210.2,63.0 209.8,63.1 209.4,63.2 208.9,63.1 208.5,62.8 208.1,62.7 207.6,63.4 207.2,64.5 206.8,65.4 206.3,65.7 205.9,65.7 205.5,65.8 205.0,65.9 204.6,65.7 204.2,65.3 203.7,65.4 203.3,66.3 202.9,67.5 202.4,68.2 202.0,68.3 201.6,68.3 201.2,68.5 200.7,68.6 200.3,68.4 199.9,68.1 199.4,68.4 199.0,69.4 198.6,70.7 198.2,71.3 197.7,71.4 197.3,71.3 196.9,71.4 196.5,71.3 196.0,70.8 195.6,70.6 195.2,71.2 194.8,72.6 194.3,73.1 193.9,73.4 193.5,73.6 193.1,73.8 192.7,74.1 192.2,74.2 191.8,74.3 191.4,74.5 191.0,75.0 190.6,75.8 190.1,76.8 189.7,77.0 189.3,77.0 188.9,77.1 188.5,77.1 188.0,76.9 187.6,76.5 187.2,76.7 186.8,77.8 186.4,79.1 186.0,79.7 185.5,79.8 185.1,79.9 184.7,80.0 184.3,80.1 183.9,79.8 183.5,79.7 183.1,80.2 182.7,81.3 182.2,82.2 181.8,82.7 181.4,82.7 181.0,82.9 180.6,83.1 180.2,83.1 179.8,82.9 179.4,83.0 179.0,83.7 178.5,84.8 178.1,85.8 177.7,86.1 177.3,86.0 176.9,86.1 176.5,86.2 176.1,85.9 175.7,85.6 175.3,85.8 174.9,87.0 174.5,87.8 174.1,88.2 173.7,88.5 173.3,88.7 172.9,89.1 172.5,89.3 172.1,89.6 171.6,89.8 171.2,90.2 170.8,90.7 170.4,91.9 170.0,92.3 169.6,92.3 169.2,92.4 168.8,92.5 168.4,92.3 168.0,91.9 167.6,92.0 167.2,92.9 166.8,94.3 166.4,95.1 166.0,95.4 165.6,95.4 165.2,95.6 164.8,95.7 164.4,95.5 164.1,95.3 163.7,95.7 163.3,96.7 162.9,97.6 162.5,98.1 162.1,98.3 161.7,98.5 161.3,98.8 160.9,98.9 160.5,99.0 160.1,99.1 159.7,99.6 159.3,100.4 158.9,101.5 158.5,101.8 158.1,101.9 157.7,102.0 157.4,102.2 157.0,102.1 156.6,101.8 156.2,102.0 155.8,103.0 155.4,104.1 155.0,104.8 154.6,105.0 154.2,105.1 153.8,105.3 153.5,105.5 153.1,105.4 152.7,105.4 152.3,105.8 151.9,106.8 151.5,108.3 151.1,109.0 150.7,108.9 150.4,108.8 150.0,108.9 149.6,108.7 149.2,108.0 148.8,107.8 148.4,108.9 148.0,110.6 147.7,111.8 147.3,112.1 146.9,112.1 146.5,112.1 146.1,112.2 145.7,111.9 145.4,111.4 145.0,111.7 144.6,113.0 144.2,114.3 143.8,115.0 143.4,115.2 143.1,115.3 142.7,115.5 142.3,115.5 141.9,115.3 141.5,115.2 141.2,115.8 140.8,116.9 140.4,117.8 140.0,118.2 139.6,118.4 139.3,118.6 138.9,118.9 138.5,119.0 138.1,118.9 137.7,119.1 137.4,119.7 137.0,120.7 136.6,121.4 136.2,121.7 135.9,121.9 135.5,122.1 135.1,122.3 134.7,122.4 134.4,122.3 134.0,122.6 133.6,123.4 133.2,124.4 132.9,125.0 132.5,125.3 132.1,125.4 131.7,125.6 131.4,125.8 131.0,125.7 130.6,125.7 130.2,126.2 129.9,127.1 129.5,128.0 129.1,128.5 128.8,128.7 128.4,128.9 128.0,129.1 127.6,129.2 127.3,129.2 126.9,129.3 126.5,129.9 126.2,130.8 125.8,131.6 125.4,131.9 125.1,132.1 124.7,132.4 124.3,132.6 123.9,132.7 123.6,132.7 123.2,132.9 122.8,133.6 122.5,134.5 122.1,135.2 121.7,135.5 121.4,135.7 121.0,135.9 120.6,136.1 120.3,136.2 119.9,136.1 119.5,136.4 119.2,137.2 118.8,138.2 118.4,138.9 118.1,139.1 117.7,139.3 117.3,139.5 117.0,139.7 116.6,139.6 116.3,139.5 115.9,140.0 115.5,140.9 115.2,141.9 114.8,142.4 114.4,142.6 114.1,142.8 113.7,143.0 113.4,143.2 113.0,143.1 112.6,143.2 112.3,143.7 111.9,144.6 111.5,145.5 111.2,145.9 110.8,146.1 110.5,146.3 110.1,146.6 109.7,146.7 109.4,146.7 109.0,146.8 108.7,147.4 108.3,148.3 108.0,149.1 107.6,149.5 107.2,149.7 106.9,149.9 106.5,150.2 106.2,150.3 105.8,150.3 105.5,150.5 105.1,151.2 104.7,152.3 104.4,153.6 104.0,153.9 103.7,153.8 103.3,153.8 103.0,153.9 102.6,153.5 102.3,152.9 101.9,153.1 101.5,154.4 101.2,155.7 100.8,156.3 100.5,156.6 100.1,156.8 99.8,157.1 99.4,157.4 99.1,157.6 98.7,157.7 98.4,158.1 98.0,158.7 97.7,159.5 97.3,160.1 97.0,160.3 96.6,160.6 96.3,160.9 95.9,161.1 95.6,161.1 95.2,161.2 94.9,161.7 94.5,162.5 94.2,163.6 93.8,164.2 93.5,164.3 93.1,164.4 92.8,164.7 92.4,164.7 92.1,164.5 91.7,164.5 91.4,165.2 91.0,166.4 90.7,167.3 90.4,167.7 90.0,167.9 89.7,168.1 89.3,168.3 89.0,168.4 88.6,168.3 88.3,168.5 87.9,169.3 87.6,170.4 87.2,171.3 86.9,171.6 86.6,171.7 86.2,171.9 85.9,172.1 85.5,172.0 85.2,171.8 84.8,172.1 84.5,173.2 84.1,174.4 83.7,175.2 83.4,175.4 83.0,175.4 82.7,175.6 82.3,175.7 81.9,175.4 81.6,175.2 81.2,175.7 80.8,176.9 80.5,178.2 80.1,178.9 79.7,178.9 79.3,178.9 78.9,179.0 78.5,179.0 78.1,178.6 77.8,178.4 77.4,178.9 76.9,180.2 76.5,181.4 76.1,181.9 75.7,181.9 75.3,181.9 74.9,182.0 74.4,181.9 74.0,181.5 73.6,181.4 73.1,182.0 72.7,183.2 72.2,183.8 71.8,184.0 71.3,184.1 70.8,184.2 70.4,184.3 69.9,184.3 69.4,184.1 68.9,184.2 68.4,184.7" fill="none" stroke="#008000" stroke-width="1.4" stroke-linejoin="round" />
<polyline points="68.4,190.8 68.2,190.6 68.1,190.3 67.9,189.9 67.9,189.6 67.8,189.2 67.8,188.7 67.7,188.2 67.8,187.7 67.8,187.2 67.8,186.6 67.9,186.0 68.0,185.5 68.1,184.9 68.2,184.2 68.3,183.6 68.4,183.0 68.5,182.4 68.6,181.7 68.7,181.1 68.9,180.5 69.0,179.9 69.1,179.3 69.2,178.7 69.3,178.1 69.4,177.5 69.6,176.9 69.7,176.3 69.8,175.7 69.9,175.2 70.0,174.6 70.1,174.0 70.2,173.5 70.3,172.9 70.5,172.3 70.6,171.8 70.7,171.2 70.8,170.7 70.9,170.1 71.1,169.6 71.2,169.1 71.3,168.5 71.4,168.0 71.5,167.5 71.7,166.9 71.8,166.4 71.9,165.9 72.1,165.4 72.2,164.8 72.3,164.3 72.5,163.8 72.6,163.3 72.8,162.8 72.9,162.2 73.1,161.7 73.2,161.2 73.4,160.7 73.5,160.2 73.7,159.7 73.8,159.2 74.0,158.7 74.2,158.2 74.3,157.6 74.5,157.1 74.7,156.6 74.9,156.1 75.0,155.6 75.2,155.1 75.4,154.6 75.6,154.1 75.8,153.6 76.0,153.1 76.2,152.6 76.4,152.1 76.6,151.6 76.8,151.1 77.0,150.6 77.2,150.1 77.4,149.6 77.6,149.1 77.8,148.6 78.1,148.1 78.3,147.6 78.5,147.1 78.7,146.6 79.0,146.1 79.2,145.6 79.4,145.1 79.7,144.6 79.9,144.1 80.1,143.7 80.4,143.2 80.6,142.7 80.9,142.2 81.1,141.7 81.4,141.2 81.6,140.7 81.9,140.2 82.1,139.8 82.4,139.3 82.6,138.8 82.9,138.3 83.2,137.8 83.4,137.4 83.7,136.9 84.0,136.4 84.2,135.9 84.5,135.4 84.8,135.0 85.1,134.5 85.3,134.0 85.6,133.5 85.9,133.1 86.2,132.6 86.5,132.1 86.8,131.7 87.1,131.2 87.3,130.7 87.6,130.3 87.9,129.8 88.2,129.3 88.5,128.9 88.8,128.4 89.1,127.9 89.4,127.5 89.7,127.0 90.0,126.6 90.3,126.1 90.6,125.6 90.9,125.2 91.2,124.7 91.6,124.3 91.9,123.8 92.2,123.4 92.5,122.9 92.8,122.5 93.1,122.0 93.4,121.6 93.8,121.1 94.1,120.7 94.4,120.2 94.7,119.8 95.0,119.4 95.4,118.9 95.7,118.5 96.0,118.0 96.3,117.6 96.7,117.2 97.0,116.7 97.3,116.3 97.7,115.9 98.0,115.4 98.3,115.0 98.7,114.6 99.0,114.1 99.3,113.7 99.7,113.3 100.0,112.8 100.3,112.4 100.7,112.0 101.0,111.6 101.4,111.1 101.7,110.7 102.1,110.3 102.4,109.9 102.7,109.5 103.1,109.0 103.4,108.6 103.8,108.2 104.1,107.8 104.5,107.4 104.8,107.0 105.2,106.6 105.6,106.1 105.9,105.7 106.3,105.3 106.6,104.9 107.0,104.5 107.3,104.1 107.7,103.7 108.1,103.3 108.4,102.9 108.8,102.5 109.2,102.1 109.5,101.7 109.9,101.3 110.3,100.9 110.6,100.5 111.0,100.1 111.4,99.7 111.7,99.3 112.1,98.9 112.5,98.5 112.9,98.1 113.2,97.7 113.6,97.3 114.0,97.0 114.4,96.6 114.7,96.2 115.1,95.8 115.5,95.4 115.9,95.0 116.3,94.6 116.6,94.2 117.0,93.9 117.4,93.5 117.8,93.1 118.2,92.7 118.6,92.3 119.0,92.0 119.3,91.6 119.7,91.2 120.1,90.8 120.5,90.5 120.9,90.1 121.3,89.7 121.7,89.3 122.1,89.0 122.5,88.6 122.9,88.2 123.3,87.9 123.7,87.5 124.1,87.1 124.5,86.7 124.9,86.4 125.3,86.0 125.7,85.7 126.1,85.3 126.5,84.9 126.9,84.6 127.3,84.2 127.7,83.8 128.1,83.5 128.5,83.1 128.9,82.8 129.3,82.4 129.8,82.0 130.2,81.7 130.6,81.3 131.0,81.0 131.4,80.6 131.8,80.3 132.2,79.9 132.6,79.6 133.1,79.2 133.5,78.9 133.9,78.5 134.3,78.2 134.7,77.8 135.2,77.5 135.6,77.1 136.0,76.8 136.4,76.4 136.8,76.1 137.3,75.8 137.7,75.4 138.1,75.1 138.5,74.7 139.0,74.4 139.4,74.1 139.8,73.7 140.2,73.4 140.7,73.0 141.1,72.7 141.5,72.4 142.0,72.0 142.4,71.7 142.8,71.4 143.3,71.0 143.7,70.7 144.1,70.4 144.6,70.0 145.0,69.7 145.4,69.4 145.9,69.0 146.3,68.7 146.7,68.4 147.2,68.0 147.6,67.7 148.1,67.4 148.5,67.1 148.9,66.7 149.4,66.4 149.8,66.1 150.3,65.8 150.7,65.5 151.1,65.1 151.6,64.8 152.0,64.5 152.5,64.2 152.9,63.8 153.4,63.5 153.8,63.2 154.3,62.9 154.7,62.6 155.2,62.3 155.6,61.9 156.1,61.6 156.5,61.3 157.0,61.0 157.4,60.7 157.9,60.4 158.3,60.1 158.8,59.7 159.2,59.4 159.7,59.1 160.1,58.8 160.6,58.5 161.0,58.2 161.5,57.9 162.0,57.6 162.4,57.3 162.9,57.0 163.3,56.7 163.8,56.4 164.2,56.0 164.7,55.7 165.2,55.4 165.6,55.1 166.1,54.8 166.5,54.5 167.0,54.2 167.5,53.9 167.9,53.6 168.4,53.3 168.9,53.0 169.3,52.7 169.8,52.4 170.2,52.1 170.7,51.8 171.2,51.5 171.6,51.2 172.1,50.9 172.6,50.7 173.0,50.4 173.5,50.1 174.0,49.8 174.4,49.5 174.9,49.2 175.4,48.9 175.9,48.6 176.3,48.3 176.8,48.0 177.3,47.8 177.7,47.5 178.2,47.2 178.7,46.9 179.2,46.6 179.6,46.3 180.1,46.0 180.6,45.8 181.0,45.5 181.5,45.2 182.0,44.9 182.5,44.6 182.9,44.4 183.4,44.1 183.9,43.8 184.4,43.5 184.9,43.3 185.3,43.0 185.8,42.7 186.3,42.5 186.8,42.2 187.3,41.9 187.7,41.6 188.2,41.4 188.7,41.1 189.2,40.8 189.7,40.6 190.1,40.3 190.6,40.1 191.1,39.8 191.6,39.5 192.1,39.3 192.6,39.0 193.0,38.8 193.5,38.5 194.0,38.2 194.5,38.0 195.0,37.7 195.5,37.5 196.0,37.2 196.4,37.0 196.9,36.7 197.4,36.5 197.9,36.2 198.4,36.0 198.9,35.8 199.4,35.5 199.9,35.3 200.3,35.0 200.8,34.8 201.3,34.5 201.8,34.3 202.3,34.1 202.8,33.8 203.3,33.6 203.8,33.4 204.3,33.1 204.8,32.9 205.3,32.7 205.8,32.5 206.3,32.2 206.7,32.0 207.2,31.8 207.7,31.6 208.2,31.3 208.7,31.1 209.2,30.9 209.7,30.7 210.2,30.5 210.7,30.2 211.2,30.0 211.7,29.8 212.2,29.6 212.7,29.4 213.2,29.2 213.7,29.0 214.2,28.8 214.7,28.6 215.2,28.4 215.7,28.2 216.2,28.0 216.7,27.8 217.2,27.6 217.7,27.4 218.2,27.2 218.7,27.0 219.2,26.8 219.7,26.6 220.2,26.4 220.7,26.2 221.2,26.1 221.7,25.9 222.2,25.7 222.7,25.5 223.2,25.3 223.7,25.2 224.2,25.0 224.8,24.8 225.3,24.6 225.8,24.5 226.3,24.3 226.8,24.1 227.3,24.0 227.8,23.8 228.3,23.6 228.8,23.5 229.3,23.3 229.8,23.2 230.3,23.0 230.8,22.8 231.3,22.7 231.9,22.5 232.4,22.4 232.9,22.2 233.4,22.1 233.9,21.9 234.4,21.8 234.9,21.7 235.4,21.5 235.9,21.4 236.5,21.3 237.0,21.1 237.5,21.0 238.0,20.9 238.5,20.7 239.0,20.6 239.5,20.5 240.0,20.3 240.6,20.2 241.1,20.1 241.6,20.0 242.1,19.9 242.6,19.8 243.1,19.6 243.6,19.5 244.2,19.4 244.7,19.3 245.2,19.2 245.7,19.1 246.2,19.0 246.7,18.9 247.3,18.8 247.8,18.7 248.3,18.6 248.8,18.5 249.3,18.4 249.9,18.3 250.4,18.2 250.9,18.1 251.4,18.0 251.9,18.0 252.5,17.9 253.0,17.8 253.5,17.7 254.0,17.6 254.6,17.5 255.1,17.5 255.6,17.4 256.2,17.3 256.7,17.2 257.2,17.1 257.7,17.1 258.3,17.0 258.8,16.9 259.3,16.9 259.9,16.8 260.4,16.7 260.9,16.6 261.5,16.6 262.0,16.5 262.5,16.4 263.1,16.4 263.6,16.3 264.2,16.3 264.7,16.2 265.2,16.1 265.8,16.1 266.3,16.0 266.9,15.9 267.4,15.9 268.0,15.8 268.5,15.8 269.1,15.7 269.6,15.7 270.2,15.6 270.7,15.6 271.3,15.5 271.8,15.4 272.4,15.4 272.9,15.3 273.5,15.3 274.1,15.2 274.6,15.2 275.2,15.1 275.7,15.1 276.3,15.0 276.9,15.0 277.4,14.9 278.0,14.9 278.6,14.8 279.1,14.8 279.7,14.7 280.3,14.7 280.9,14.6 281.4,14.6 282.0,14.6 282.6,14.5 283.2,14.5 283.8,14.4 284.3,14.4 284.9,14.3 285.5,14.3 286.1,14.2 286.7,14.2 287.3,14.1 287.9,14.1 288.5,14.0 289.0,14.0 289.6,13.9 290.2,13.9 290.8,13.9 291.4,13.8 292.0,13.8 292.6,13.7 293.3,13.7 293.9,13.6 294.5,13.6 295.1,13.5 295.7,13.5 296.3,13.4 296.9,13.4 297.5,13.3 298.2,13.3 298.8,13.2 299.4,13.2 300.0,13.1 300.6,13.1 301.2,13.1 301.8,13.0 302.4,13.0 303.1,13.0 303.7,12.9 304.3,12.9 304.9,12.9 305.5,12.9 306.1,12.9 306.6,12.9 307.2,12.9 307.8,12.9 308.4,12.9 309.0,12.9 309.5,12.9 310.1,12.9 310.6,13.0 311.2,13.0 311.7,13.1 312.3,13.1 312.8,13.2 313.3,13.3 313.8,13.4 314.3,13.5 314.8,13.6 315.3,13.7 315.8,13.8 316.2,13.9 316.7,14.1 317.1,14.2 317.6,14.4 318.0,14.6 318.4,14.7 318.8,14.9 319.2,15.1 319.6,15.4 320.0,15.6 320.3,15.8 320.6,16.1 320.9,16.4 321.2,16.6 321.4,16.9 321.5,17.2 321.6,17.5 321.7,17.8 321.7,18.1 321.6,18.4 321.5,18.7 321.3,19.0 321.1,19.4 320.9,19.7 320.6,20.0 320.3,20.3 320.0,20.6 319.6,20.9 319.2,21.2 318.8,21.5 318.3,21.7 317.9,22.0 317.4,22.3 316.9,22.5 316.3,22.8 315.8,23.0 315.2,23.2 314.6,23.5 314.0,23.7 313.4,23.9 312.8,24.1 312.2,24.3 311.5,24.5 310.9,24.7 310.2,24.8 309.5,25.0 308.9,25.2 308.2,25.4 307.5,25.5 306.8,25.7 306.2,25.9 305.5,26.0 304.8,26.2 304.1,26.3 303.4,26.4 302.8,26.6 302.1,26.7 301.5,26.9 300.8,27.0 300.2,27.1 299.6,27.3 298.9,27.4 298.3,27.5 297.7,27.6 297.1,27.8 296.5,27.9 296.0,28.0 295.4,28.1 294.8,28.2 294.2,28.4 293.7,28.5 293.1,28.6 292.6,28.7 292.0,28.8 291.5,28.9 290.9,29.0 290.4,29.2 289.9,29.3 289.3,29.4 288.8,29.5 288.3,29.6 287.8,29.7 287.3,29.8 286.7,29.9 286.2,30.0 285.7,30.1 285.2,30.3 284.7,30.4 284.2,30.5 283.7,30.6 283.2,30.7 282.7,30.8 282.2,30.9 281.7,31.0 281.2,31.2 280.7,31.3 280.2,31.4 279.7,31.5 279.2,31.6 278.7,31.8 278.2,31.9 277.7,32.0 277.2,32.1 276.7,32.3 276.2,32.4 275.7,32.5 275.2,32.7 274.7,32.8 274.2,32.9 273.6,33.1 273.1,33.2 272.6,33.3 272.1,33.5 271.6,33.6 271.1,33.8 270.6,33.9 270.1,34.0 269.6,34.2 269.0,34.3 268.5,34.5 268.0,34.6 267.5,34.8 267.0,34.9 266.5,35.1 266.0,35.2 265.4,35.4 264.9,35.6 264.4,35.7 263.9,35.9 263.4,36.1 262.9,36.2 262.3,36.4 261.8,36.5 261.3,36.7 260.8,36.9 260.3,37.1 259.8,37.2 259.2,37.4 258.7,37.6 258.2,37.8 257.7,37.9 257.2,38.1 256.7,38.3 256.1,38.5 255.6,38.7 255.1,38.8 254.6,39.0 254.1,39.2 253.6,39.4 253.1,39.6 252.5,39.8 252.0,40.0 251.5,40.2 251.0,40.4 250.5,40.6 250.0,40.8 249.5,41.0 248.9,41.2 248.4,41.4 247.9,41.6 247.4,41.8 246.9,42.0 246.4,42.2 245.9,42.4 245.4,42.6 244.9,42.8 244.4,43.0 243.8,43.3 243.3,43.5 242.8,43.7 242.3,43.9 241.8,44.1 241.3,44.4 240.8,44.6 240.3,44.8 239.8,45.0 239.3,45.3 238.8,45.5 238.3,45.7 237.8,46.0 237.3,46.2 236.8,46.4 236.3,46.7 235.8,46.9 235.3,47.1 234.8,47.4 234.4,47.6 233.9,47.9 233.4,48.1 232.9,48.4 232.4,48.6 231.9,48.9 231.4,49.1 230.9,49.4 230.5,49.6 230.0,49.9 229.5,50.1 229.0,50.4 228.5,50.6 228.1,50.9 227.6,51.2 227.1,51.4 226.6,51.7 226.2,52.0 225.7,52.2 225.2,52.5 224.7,52.8 224.3,53.0 223.8,53.3 223.3,53.6 222.9,53.9 222.4,54.1 221.9,54.4 221.5,54.7 221.0,55.0 220.5,55.2 220.1,55.5 219.6,55.8 219.1,56.1 218.7,56.4 218.2,56.7 217.8,57.0 217.3,57.2 216.8,57.5 216.4,57.8 215.9,58.1 215.5,58.4 215.0,58.7 214.6,59.0 214.1,59.3 213.7,59.6 213.2,59.9 212.8,60.2 212.3,60.5 211.9,60.8 211.4,61.1 211.0,61.4 210.5,61.7 210.1,62.0 209.6,62.3 209.2,62.6 208.7,62.9 208.3,63.3 207.8,63.6 207.4,63.9 207.0,64.2 206.5,64.5 206.1,64.8 205.6,65.1 205.2,65.4 204.8,65.8 204.3,66.1 203.9,66.4 203.4,66.7 203.0,67.0 202.6,67.4 202.1,67.7 201.7,68.0 201.3,68.3 200.8,68.7 200.4,69.0 200.0,69.3 199.5,69.6 199.1,70.0 198.7,70.3 198.2,70.6 197.8,71.0 197.4,71.3 197.0,71.6 196.5,72.0 196.1,72.3 195.7,72.6 195.3,73.0 194.8,73.3 194.4,73.6 194.0,74.0 193.6,74.3 193.1,74.7 192.7,75.0 192.3,75.3 191.9,75.7 191.4,76.0 191.0,76.4 190.6,76.7 190.2,77.1 189.8,77.4 189.3,77.8 188.9,78.1 188.5,78.4 188.1,78.8 187.7,79.1 187.2,79.5 186.8,79.8 186.4,80.2 186.0,80.5 185.6,80.9 185.2,81.2 184.7,81.6 184.3,82.0 183.9,82.3 183.5,82.7 183.1,83.0 182.7,83.4 182.3,83.7 181.8,84.1 181.4,84.4 181.0,84.8 180.6,85.2 180.2,85.5 179.8,85.9 179.4,86.2 179.0,86.6 178.6,86.9 178.1,87.3 177.7,87.7 177.3,88.0 176.9,88.4 176.5,88.8 176.1,89.1 175.7,89.5 175.3,89.8 174.9,90.2 174.5,90.6 174.0,90.9 173.6,91.3 173.2,91.7 172.8,92.0 172.4,92.4 172.0,92.8 171.6,93.1 171.2,93.5 170.8,93.9 170.4,94.2 170.0,94.6 169.6,95.0 169.2,95.3 168.8,95.7 168.3,96.1 167.9,96.4 167.5,96.8 167.1,97.2 166.7,97.5 166.3,97.9 165.9,98.3 165.5,98.6 165.1,99.0 164.7,99.4 164.3,99.8 163.9,100.1 163.5,100.5 163.1,100.9 162.7,101.2 162.3,101.6 161.9,102.0 161.4,102.4 161.0,102.7 160.6,103.1 160.2,103.5 159.8,103.8 159.4,104.2 159.0,104.6 158.6,105.0 158.2,105.3 157.8,105.7 157.4,106.1 157.0,106.5 156.6,106.8 156.2,107.2 155.8,107.6 155.4,108.0 155.0,108.3 154.6,108.7 154.2,109.1 153.8,109.5 153.4,109.8 153.0,110.2 152.6,110.6 152.2,111.0 151.8,111.3 151.4,111.7 151.0,112.1 150.6,112.5 150.2,112.8 149.8,113.2 149.4,113.6 149.0,114.0 148.6,114.3 148.2,114.7 147.8,115.1 147.4,115.5 147.0,115.9 146.6,116.2 146.2,116.6 145.8,117.0 145.4,117.4 145.0,117.7 144.6,118.1 144.2,118.5 143.8,118.9 143.4,119.3 143.0,119.6 142.6,120.0 142.2,120.4 141.8,120.8 141.4,121.2 141.0,121.5 140.6,121.9 140.2,122.3 139.8,122.7 139.4,123.1 139.0,123.5 138.6,123.8 138.2,124.2 137.8,124.6 137.4,125.0 137.0,125.4 136.7,125.8 136.3,126.1 135.9,126.5 135.5,126.9 135.1,127.3 134.7,127.7 134.3,128.1 133.9,128.4 133.5,128.8 133.1,129.2 132.7,129.6 132.4,130.0 132.0,130.4 131.6,130.7 131.2,131.1 130.8,131.5 130.4,131.9 130.0,132.3 129.6,132.7 129.2,133.1 128.9,133.4 128.5,133.8 128.1,134.2 127.7,134.6 127.3,135.0 126.9,135.4 126.5,135.8 126.2,136.2 125.8,136.5 125.4,136.9 125.0,137.3 124.6,137.7 124.3,138.1 123.9,138.5 123.5,138.9 123.1,139.3 122.7,139.7 122.3,140.0 122.0,140.4 121.6,140.8 121.2,141.2 120.8,141.6 120.5,142.0 120.1,142.4 119.7,142.8 119.3,143.2 119.0,143.6 118.6,144.0 118.2,144.3 117.8,144.7 117.5,145.1 117.1,145.5 116.7,145.9 116.3,146.3 116.0,146.7 115.6,147.1 115.2,147.5 114.8,147.9 114.5,148.3 114.1,148.7 113.7,149.1 113.4,149.4 113.0,149.8 112.6,150.2 112.3,150.6 111.9,151.0 111.5,151.4 111.2,151.8 110.8,152.2 110.4,152.6 110.1,153.0 109.7,153.4 109.3,153.8 109.0,154.2 108.6,154.6 108.3,155.0 107.9,155.4 107.5,155.8 107.2,156.2 106.8,156.6 106.5,157.0 106.1,157.4 105.7,157.8 105.4,158.2 105.0,158.6 104.7,159.0 104.3,159.4 104.0,159.8 103.6,160.2 103.3,160.6 102.9,161.0 102.5,161.4 102.2,161.8 101.8,162.2 101.5,162.6 101.1,163.0 100.8,163.4 100.4,163.8 100.1,164.2 99.7,164.6 99.4,165.0 99.1,165.4 98.7,165.8 98.4,166.2 98.0,166.6 97.7,167.0 97.3,167.4 97.0,167.8 96.6,168.2 96.3,168.6 96.0,169.0 95.6,169.4 95.3,169.8 94.9,170.2 94.6,170.6 94.3,171.0 93.9,171.4 93.6,171.8 93.3,172.2 92.9,172.6 92.6,173.0 92.3,173.4 91.9,173.8 91.6,174.2 91.2,174.6 90.9,175.0 90.5,175.4 90.2,175.9 89.8,176.3 89.5,176.7 89.1,177.1 88.8,177.5 88.4,177.9 88.0,178.3 87.6,178.7 87.3,179.1 86.9,179.5 86.5,180.0 86.1,180.4 85.7,180.8 85.2,181.2 84.8,181.6 84.4,182.0 83.9,182.4 83.5,182.9 83.0,183.3 82.5,183.7 82.0,184.1 81.5,184.5 81.0,185.0 80.5,185.4 80.0,185.8 79.4,186.2 78.9,186.7 78.3,187.1 77.8,187.5 77.2,187.9 76.6,188.3 76.1,188.6 75.5,189.0 75.0,189.3 74.4,189.6 73.9,189.9 73.4,190.2 72.9,190.5 72.4,190.7 71.9,190.9 71.4,191.0 71.0,191.2 70.6,191.3 70.2,191.3 69.8,191.3 69.5,191.3 69.1,191.3 68.9,191.2 68.6,191.0 68.4,190.8" fill="none" stroke="#00bfbf" stroke-width="1.4" stroke-linejoin="round" />
<polyline points="68.4,191.1 68.2,190.9 68.1,190.6 67.9,190.2 67.9,189.9 67.8,189.5 67.8,189.0 67.7,188.5 67.8,188.0 67.8,187.5 67.8,186.9 67.9,186.3 68.0,185.8 68.1,185.2 68.2,184.5 68.3,183.9 68.4,183.3 68.5,182.7 68.6,182.0 68.7,181.4 68.9,180.8 69.0,180.2 69.1,179.6 69.2,179.0 69.3,178.4 69.4,177.8 69.6,177.2 69.7,176.6 69.8,176.0 69.9,175.5 70.0,174.9 70.1,174.3 70.2,173.8 70.3,173.2 70.5,172.6 70.6,172.1 70.7,171.5 70.8,171.0 70.9,170.4 71.1,169.9 71.2,169.4 71.3,168.8 71.4,168.3 71.5,167.8 71.7,167.2 71.8,166.7 71.9,166.2 72.1,165.7 72.2,165.1 72.3,164.6 72.5,164.1 72.6,163.6 72.8,163.1 72.9,162.5 73.1,162.0 73.2,161.5 73.4,161.0 73.5,160.5 73.7,160.0 73.8,159.5 74.0,159.0 74.2,158.5 74.3,157.9 74.5,157.4 74.7,156.9 74.9,156.4 75.0,155.9 75.2,155.4 75.4,154.9 75.6,154.4 75.8,153.9 76.0,153.4 76.2,152.9 76.4,152.4 76.6,151.9 76.8,151.4 77.0,150.9 77.2,150.4 77.4,149.9 77.6,149.4 77.8,148.9 78.1,148.4 78.3,147.9 78.5,147.4 78.7,146.9 79.0,146.4 79.2,145.9 79.4,145.4 79.7,144.9 79.9,144.4 80.1,144.0 80.4,143.5 80.6,143.0 80.9,142.5 81.1,142.0 81.4,141.5 81.6,141.0 81.9,140.5 82.1,140.1 82.4,139.6 82.6,139.1 82.9,138.6 83.2,138.1 83.4,137.7 83.7,137.2 84.0,136.7 84.2,136.2 84.5,135.7 84.8,135.3 85.1,134.8 85.3,134.3 85.6,133.8 85.9,133.4 86.2,132.9 86.5,132.4 86.8,132.0 87.1,131.5 87.3,131.0 87.6,130.6 87.9,130.1 88.2,129.6 88.5,129.2 88.8,128.7 89.1,128.2 89.4,127.8 89.7,127.3 90.0,126.9 90.3,126.4 90.6,125.9 90.9,125.5 91.2,125.0 91.6,124.6 91.9,124.1 92.2,123.7 92.5,123.2 92.8,122.8 93.1,122.3 93.4,121.9 93.8,121.4 94.1,121.0 94.4,120.5 94.7,120.1 95.0,119.7 95.4,119.2 95.7,118.8 96.0,118.3 96.3,117.9 96.7,117.5 97.0,117.0 97.3,116.6 97.7,116.2 98.0,115.7 98.3,115.3 98.7,114.9 99.0,114.4 99.3,114.0 99.7,113.6 100.0,113.1 100.3,112.7 100.7,112.3 101.0,111.9 101.4,111.4 101.7,111.0 102.1,110.6 102.4,110.2 102.7,109.8 103.1,109.3 103.4,108.9 103.8,108.5 104.1,108.1 104.5,107.7 104.8,107.3 105.2,106.9 105.6,106.4 105.9,106.0 106.3,105.6 106.6,105.2 107.0,104.8 107.3,104.4 107.7,104.0 108.1,103.6 108.4,103.2 108.8,102.8 109.2,102.4 109.5,102.0 109.9,101.6 110.3,101.2 110.6,100.8 111.0,100.4 111.4,100.0 111.7,99.6 112.1,99.2 112.5,98.8 112.9,98.4 113.2,98.0 113.6,97.6 114.0,97.3 114.4,96.9 114.7,96.5 115.1,96.1 115.5,95.7 115.9,95.3 116.3,94.9 116.6,94.5 117.0,94.2 117.4,93.8 117.8,93.4 118.2,93.0 118.6,92.6 119.0,92.3 119.3,91.9 119.7,91.5 120.1,91.1 120.5,90.8 120.9,90.4 121.3,90.0 121.7,89.6 122.1,89.3 122.5,88.9 122.9,88.5 123.3,88.2 123.7,87.8 124.1,87.4 124.5,87.0 124.9,86.7 125.3,86.3 125.7,86.0 126.1,85.6 126.5,85.2 126.9,84.9 127.3,84.5 127.7,84.1 128.1,83.8 128.5,83.4 128.9,83.1 129.3,82.7 129.8,82.3 130.2,82.0 130.6,81.6 131.0,81.3 131.4,80.9 131.8,80.6 132.2,80.2 132.6,79.9 133.1,79.5 133.5,79.2 133.9,78.8 134.3,78.5 134.7,78.1 135.2,77.8 135.6,77.4 136.0,77.1 136.4,76.7 136.8,76.4 137.3,76.1 137.7,75.7 138.1,75.4 138.5,75.0 139.0,74.7 139.4,74.4 139.8,74.0 140.2,73.7 140.7,73.3 141.1,73.0 141.5,72.7 142.0,72.3 142.4,72.0 142.8,71.7 143.3,71.3 143.7,71.0 144.1,70.7 144.6,70.3 145.0,70.0 145.4,69.7 145.9,69.3 146.3,69.0 146.7,68.7 147.2,68.3 147.6,68.0 148.1,67.7 148.5,67.4 148.9,67.0 149.4,66.7 149.8,66.4 150.3,66.1 150.7,65.8 151.1,65.4 151.6,65.1 152.0,64.8 152.5,64.5 152.9,64.1 153.4,63.8 153.8,63.5 154.3,63.2 154.7,62.9 155.2,62.6 155.6,62.2 156.1,61.9 156.5,61.6 157.0,61.3 157.4,61.0 157.9,60.7 158.3,60.4 158.8,60.0 159.2,59.7 159.7,59.4 160.1,59.1 160.6,58.8 161.0,58.5 161.5,58.2 162.0,57.9 162.4,57.6 162.9,57.3 163.3,57.0 163.8,56.7 164.2,56.3 164.7,56.0 165.2,55.7 165.6,55.4 166.1,55.1 166.5,54.8 167.0,54.5 167.5,54.2 167.9,53.9 168.4,53.6 168.9,53.3 169.3,53.0 169.8,52.7 170.2,52.4 170.7,52.1 171.2,51.8 171.6,51.5 172.1,51.2 172.6,51.0 173.0,50.7 173.5,50.4 174.0,50.1 174.4,49.8 174.9,49.5 175.4,49.2 175.9,48.9 176.3,48.6 176.8,48.3 177.3,48.1 177.7,47.8 178.2,47.5 178.7,47.2 179.2,46.9 179.6,46.6 180.1,46.3 180.6,46.1 181.0,45.8 181.5,45.5 182.0,45.2 182.5,44.9 182.9,44.7 183.4,44.4 183.9,44.1 184.4,43.8 184.9,43.6 185.3,43.3 185.8,43.0 186.3,42.8 186.8,42.5 187.3,42.2 187.7,41.9 188.2,41.7 188.7,41.4 189.2,41.1 189.7,40.9 190.1,40.6 190.6,40.4 191.1,40.1 191.6,39.8 192.1,39.6 192.6,39.3 193.0,39.1 193.5,38.8 194.0,38.5 194.5,38.3 195.0,38.0 195.5,37.8 196.0,37.5 196.4,37.3 196.9,37.0 197.4,36.8 197.9,36.5 198.4,36.3 198.9,36.1 199.4,35.8 199.9,35.6 200.3,35.3 200.8,35.1 201.3,34.8 201.8,34.6 202.3,34.4 202.8,34.1 203.3,33.9 203.8,33.7 204.3,33.4 204.8,33.2 205.3,33.0 205.8,32.8 206.3,32.5 206.7,32.3 207.2,32.1 207.7,31.9 208.2,31.6 208.7,31.4 209.2,31.2 209.7,31.0 210.2,30.8 210.7,30.5 211.2,30.3 211.7,30.1 212.2,29.9 212.7,29.7 213.2,29.5 213.7,29.3 214.2,29.1 214.7,28.9 215.2,28.7 215.7,28.5 216.2,28.3 216.7,28.1 217.2,27.9 217.7,27.7 218.2,27.5 218.7,27.3 219.2,27.1 219.7,26.9 220.2,26.7 220.7,26.5 221.2,26.4 221.7,26.2 222.2,26.0 222.7,25.8 223.2,25.6 223.7,25.5 224.2,25.3 224.8,25.1 225.3,24.9 225.8,24.8 226.3,24.6 226.8,24.4 227.3,24.3 227.8,24.1 228.3,23.9 228.8,23.8 229.3,23.6 229.8,23.5 230.3,23.3 230.8,23.1 231.3,23.0 231.9,22.8 232.4,22.7 232.9,22.5 233.4,22.4 233.9,22.2 234.4,22.1 234.9,22.0 235.4,21.8 235.9,21.7 236.5,21.6 237.0,21.4 237.5,21.3 238.0,21.2 238.5,21.0 239.0,20.9 239.5,20.8 240.0,20.6 240.6,20.5 241.1,20.4 241.6,20.3 242.1,20.2 242.6,20.1 243.1,19.9 243.6,19.8 244.2,19.7 244.7,19.6 245.2,19.5 245.7,19.4 246.2,19.3 246.7,19.2 247.3,19.1 247.8,19.0 248.3,18.9 248.8,18.8 249.3,18.7 249.9,18.6 250.4,18.5 250.9,18.4 251.4,18.3 251.9,18.3 252.5,18.2 253.0,18.1 253.5,18.0 254.0,17.9 254.6,17.8 255.1,17.8 255.6,17.7 256.2,17.6 256.7,17.5 257.2,17.4 257.7,17.4 258.3,17.3 258.8,17.2 259.3,17.2 259.9,17.1 260.4,17.0 260.9,16.9 261.5,16.9 262.0,16.8 262.5,16.7 263.1,16.7 263.6,16.6 264.2,16.6 264.7,16.5 265.2,16.4 265.8,16.4 266.3,16.3 266.9,16.2 267.4,16.2 268.0,16.1 268.5,16.1 269.1,16.0 269.6,16.0 270.2,15.9 270.7,15.9 271.3,15.8 271.8,15.7 272.4,15.7 272.9,15.6 273.5,15.6 274.1,15.5 274.6,15.5 275.2,15.4 275.7,15.4 276.3,15.3 276.9,15.3 277.4,15.2 278.0,15.2 278.6,15.1 279.1,15.1 279.7,15.0 280.3,15.0 280.9,14.9 281.4,14.9 282.0,14.9 282.6,14.8 283.2,14.8 283.8,14.7 284.3,14.7 284.9,14.6 285.5,14.6 286.1,14.5 286.7,14.5 287.3,14.4 287.9,14.4 288.5,14.3 289.0,14.3 289.6,14.2 290.2,14.2 290.8,14.2 291.4,14.1 292.0,14.1 292.6,14.0 293.3,14.0 293.9,13.9 294.5,13.9 295.1,13.8 295.7,13.8 296.3,13.7 296.9,13.7 297.5,13.6 298.2,13.6 298.8,13.5 299.4,13.5 300.0,13.4 300.6,13.4 301.2,13.4 301.8,13.3 302.4,13.3 303.1,13.3 303.7,13.2 304.3,13.2 304.9,13.2 305.5,13.2 306.1,13.2 306.6,13.2 307.2,13.2 307.8,13.2 308.4,13.2 309.0,13.2 309.5,13.2 310.1,13.2 310.6,13.3 311.2,13.3 311.7,13.4 312.3,13.4 312.8,13.5 313.3,13.6 313.8,13.7 314.3,13.8 314.8,13.9 315.3,14.0 315.8,14.1 316.2,14.2 316.7,14.4 317.1,14.5 317.6,14.7 318.0,14.9 318.4,15.0 318.8,15.2 319.2,15.4 319.6,15.7 320.0,15.9 320.3,16.1 320.6,16.4 320.9,16.7 321.2,16.9 321.4,17.2 321.5,17.5 321.6,17.8 321.7,18.1 321.7,18.4 321.6,18.7 321.5,19.0 321.3,19.3 321.1,19.7 320.9,20.0 320.6,20.3 320.3,20.6 320.0,20.9 319.6,21.2 319.2,21.5 318.8,21.8 318.3,22.0 317.9,22.3 317.4,22.6 316.9,22.8 316.3,23.1 315.8,23.3 315.2,23.5 314.6,23.8 314.0,24.0 313.4,24.2 312.8,24.4 312.2,24.6 311.5,24.8 310.9,25.0 310.2,25.1 309.5,25.3 308.9,25.5 308.2,25.7 307.5,25.8 306.8,26.0 306.2,26.2 305.5,26.3 304.8,26.5 304.1,26.6 303.4,26.7 302.8,26.9 302.1,27.0 301.5,27.2 300.8,27.3 300.2,27.4 299.6,27.6 298.9,27.7 298.3,27.8 297.7,27.9 297.1,28.1 296.5,28.2 296.0,28.3 295.4,28.4 294.8,28.5 294.2,28.7 293.7,28.8 293.1,28.9 292.6,29.0 292.0,29.1 291.5,29.2 290.9,29.3 290.4,29.5 289.9,29.6 289.3,29.7 288.8,29.8 288.3,29.9 287.8,30.0 287.3,30.1 286.7,30.2 286.2,30.3 285.7,30.4 285.2,30.6 284.7,30.7 284.2,30.8 283.7,30.9 283.2,31.0 282.7,31.1 282.2,31.2 281.7,31.3 281.2,31.5 280.7,31.6 280.2,31.7 279.7,31.8 279.2,31.9 278.7,32.1 278.2,32.2 277.7,32.3 277.2,32.4 276.7,32.6 276.2,32.7 275.7,32.8 275.2,33.0 274.7,33.1 274.2,33.2 273.6,33.4 273.1,33.5 272.6,33.6 272.1,33.8 271.6,33.9 271.1,34.1 270.6,34.2 270.1,34.3 269.6,34.5 269.0,34.6 268.5,34.8 268.0,34.9 267.5,35.1 267.0,35.2 266.5,35.4 266.0,35.5 265.4,35.7 264.9,35.9 264.4,36.0 263.9,36.2 263.4,36.4 262.9,36.5 262.3,36.7 261.8,36.8 261.3,37.0 260.8,37.2 260.3,37.4 259.8,37.5 259.2,37.7 258.7,37.9 258.2,38.1 257.7,38.2 257.2,38.4 256.7,38.6 256.1,38.8 255.6,39.0 255.1,39.1 254.6,39.3 254.1,39.5 253.6,39.7 253.1,39.9 252.5,40.1 252.0,40.3 251.5,40.5 251.0,40.7 250.5,40.9 250.0,41.1 249.5,41.3 248.9,41.5 248.4,41.7 247.9,41.9 247.4,42.1 246.9,42.3 246.4,42.5 245.9,42.7 245.4,42.9 244.9,43.1 244.4,43.3 243.8,43.6 243.3,43.8 242.8,44.0 242.3,44.2 241.8,44.4 241.3,44.7 240.8,44.9 240.3,45.1 239.8,45.3 239.3,45.6 238.8,45.8 238.3,46.0 237.8,46.3 237.3,46.5 236.8,46.7 236.3,47.0 235.8,47.2 235.3,47.4 234.8,47.7 234.4,47.9 233.9,48.2 233.4,48.4 232.9,48.7 232.4,48.9 231.9,49.2 231.4,49.4 230.9,49.7 230.5,49.9 230.0,50.2 229.5,50.4 229.0,50.7 228.5,50.9 228.1,51.2 227.6,51.5 227.1,51.7 226.6,52.0 226.2,52.3 225.7,52.5 225.2,52.8 224.7,53.1 224.3,53.3 223.8,53.6 223.3,53.9 222.9,54.2 222.4,54.4 221.9,54.7 221.5,55.0 221.0,55.3 220.5,55.5 220.1,55.8 219.6,56.1 219.1,56.4 218.7,56.7 218.2,57.0 217.8,57.3 217.3,57.5 216.8,57.8 216.4,58.1 215.9,58.4 215.5,58.7 215.0,59.0 214.6,59.3 214.1,59.6 213.7,59.9 213.2,60.2 212.8,60.5 212.3,60.8 211.9,61.1 211.4,61.4 211.0,61.7 210.5,62.0 210.1,62.3 209.6,62.6 209.2,62.9 208.7,63.2 208.3,63.6 207.8,63.9 207.4,64.2 207.0,64.5 206.5,64.8 206.1,65.1 205.6,65.4 205.2,65.7 204.8,66.1 204.3,66.4 203.9,66.7 203.4,67.0 203.0,67.3 202.6,67.7 202.1,68.0 201.7,68.3 201.3,68.6 200.8,69.0 200.4,69.3 200.0,69.6 199.5,69.9 199.1,70.3 198.7,70.6 198.2,70.9 197.8,71.3 197.4,71.6 197.0,71.9 196.5,72.3 196.1,72.6 195.7,72.9 195.3,73.3 194.8,73.6 194.4,73.9 194.0,74.3 193.6,74.6 193.1,75.0 192.7,75.3 192.3,75.6 191.9,76.0 191.4,76.3 191.0,76.7 190.6,77.0 190.2,77.4 189.8,77.7 189.3,78.1 188.9,78.4 188.5,78.7 188.1,79.1 187.7,79.4 187.2,79.8 186.8,80.1 186.4,80.5 186.0,80.8 185.6,81.2 185.2,81.5 184.7,81.9 184.3,82.3 183.9,82.6 183.5,83.0 183.1,83.3 182.7,83.7 182.3,84.0 181.8,84.4 181.4,84.7 181.0,85.1 180.6,85.5 180.2,85.8 179.8,86.2 179.4,86.5 179.0,86.9 178.6,87.2 178.1,87.6 177.7,88.0 177.3,88.3 176.9,88.7 176.5,89.1 176.1,89.4 175.7,89.8 175.3,90.1 174.9,90.5 174.5,90.9 174.0,91.2 173.6,91.6 173.2,92.0 172.8,92.3 172.4,92.7 172.0,93.1 171.6,93.4 171.2,93.8 170.8,94.2 170.4,94.5 170.0,94.9 169.6,95.3 169.2,95.6 168.8,96.0 168.3,96.4 167.9,96.7 167.5,97.1 167.1,97.5 166.7,97.8 166.3,98.2 165.9,98.6 165.5,98.9 165.1,99.3 164.7,99.7 164.3,100.1 163.9,100.4 163.5,100.8 163.1,101.2 162.7,101.5 162.3,101.9 161.9,102.3 161.4,102.7 161.0,103.0 160.6,103.4 160.2,103.8 159.8,104.1 159.4,104.5 159.0,104.9 158.6,105.3 158.2,105.6 157.8,106.0 157.4,106.4 157.0,106.8 156.6,107.1 156.2,107.5 155.8,107.9 155.4,108.3 155.0,108.6 154.6,109.0 154.2,109.4 153.8,109.8 153.4,110.1 153.0,110.5 152.6,110.9 152.2,111.3 151.8,111.6 151.4,112.0 151.0,112.4 150.6,112.8 150.2,113.1 149.8,113.5 149.4,113.9 149.0,114.3 148.6,114.6 148.2,115.0 147.8,115.4 147.4,115.8 147.0,116.2 146.6,116.5 146.2,116.9 145.8,117.3 145.4,117.7 145.0,118.0 144.6,118.4 144.2,118.8 143.8,119.2 143.4,119.6 143.0,119.9 142.6,120.3 142.2,120.7 141.8,121.1 141.4,121.5 141.0,121.8 140.6,122.2 140.2,122.6 139.8,123.0 139.4,123.4 139.0,123.8 138.6,124.1 138.2,124.5 137.8,124.9 137.4,125.3 137.0,125.7 136.7,126.1 136.3,126.4 135.9,126.8 135.5,127.2 135.1,127.6 134.7,128.0 134.3,128.4 133.9,128.7 133.5,129.1 133.1,129.5 132.7,129.9 132.4,130.3 132.0,130.7 131.6,131.0 131.2,131.4 130.8,131.8 130.4,132.2 130.0,132.6 129.6,133.0 129.2,133.4 128.9,133.7 128.5,134.1 128.1,134.5 127.7,134.9 127.3,135.3 126.9,135.7 126.5,136.1 126.2,136.5 125.8,136.8 125.4,137.2 125.0,137.6 124.6,138.0 124.3,138.4 123.9,138.8 123.5,139.2 123.1,139.6 122.7,140.0 122.3,140.3 122.0,140.7 121.6,141.1 121.2,141.5 120.8,141.9 120.5,142.3 120.1,142.7 119.7,143.1 119.3,143.5 119.0,143.9 118.6,144.3 118.2,144.6 117.8,145.0 117.5,145.4 117.1,145.8 116.7,146.2 116.3,146.6 116.0,147.0 115.6,147.4 115.2,147.8 114.8,148.2 114.5,148.6 114.1,149.0 113.7,149.4 113.4,149.7 113.0,150.1 112.6,150.5 112.3,150.9 111.9,151.3 111.5,151.7 111.2,152.1 110.8,152.5 110.4,152.9 110.1,153.3 109.7,153.7 109.3,154.1 109.0,154.5 108.6,154.9 108.3,155.3 107.9,155.7 107.5,156.1 107.2,156.5 106.8,156.9 106.5,157.3 106.1,157.7 105.7,158.1 105.4,158.5 105.0,158.9 104.7,159.3 104.3,159.7 104.0,160.1 103.6,160.5 103.3,160.9 102.9,161.3 102.5,161.7 102.2,162.1 101.8,162.5 101.5,162.9 101.1,163.3 100.8,163.7 100.4,164.1 100.1,164.5 99.7,164.9 99.4,165.3 99.1,165.7 98.7,166.1 98.4,166.5 98.0,166.9 97.7,167.3 97.3,167.7 97.0,168.1 96.6,168.5 96.3,168.9 96.0,169.3 95.6,169.7 95.3,170.1 94.9,170.5 94.6,170.9 94.3,171.3 93.9,171.7 93.6,172.1 93.3,172.5 92.9,172.9 92.6,173.3 92.3,173.7 91.9,174.1 91.6,174.5 91.2,174.9 90.9,175.3 90.5,175.7 90.2,176.2 89.8,176.6 89.5,177.0 89.1,177.4 88.8,177.8 88.4,178.2 88.0,178.6 87.6,179.0 87.3,179.4 86.9,179.8 86.5,180.3 86.1,180.7 85.7,181.1 85.2,181.5 84.8,181.9 84.4,182.3 83.9,182.7 83.5,183.2 83.0,183.6 82.5,184.0 82.0,184.4 81.5,184.8 81.0,185.3 80.5,185.7 80.0,186.1 79.4,186.5 78.9,187.0 78.3,187.4 77.8,187.8 77.2,188.2 76.6,188.6 76.1,188.9 75.5,189.3 75.0,189.6 74.4,189.9 73.9,190.2 73.4,190.5 72.9,190.8 72.4,191.0 71.9,191.2 71.4,191.3 71.0,191.5 70.6,191.6 70.2,191.6 69.8,191.6 69.5,191.6 69.1,191.6 68.9,191.5 68.6,191.3 68.4,191.1" fill="none" stroke="#bf00bf" stroke-width="1.4" stroke-linejoin="round" />
<polyline points="68.4,190.1 68.2,190.1 68.1,190.0 67.9,189.6 67.9,189.1 67.8,188.6 67.8,188.1 67.7,187.4 67.8,186.6 67.8,185.8 67.8,185.3 67.9,185.3 68.0,185.0 68.1,184.4 68.2,183.6 68.3,182.9 68.4,182.1 68.5,181.2 68.6,180.5 68.7,180.3 68.9,180.0 69.0,179.4 69.1,178.6 69.2,178.0 69.3,177.2 69.4,176.4 69.6,175.7 69.7,175.5 69.8,175.0 69.9,174.5 70.0,173.9 70.1,173.3 70.2,172.7 70.3,172.0 70.5,171.4 70.6,170.9 70.7,170.5 70.8,170.2 70.9,169.6 71.1,168.9 71.2,168.4 71.3,167.7 71.4,167.0 71.5,166.3 71.7,165.9 71.8,165.6 71.9,165.3 72.1,164.8 72.2,164.2 72.3,163.6 72.5,163.0 72.6,162.4 72.8,161.7 72.9,161.1 73.1,160.9 73.2,160.6 73.4,160.2 73.5,159.6 73.7,159.0 73.8,158.4 74.0,157.8 74.2,157.1 74.3,156.5 74.5,156.2 74.7,155.9 74.9,155.6 75.0,155.0 75.2,154.4 75.4,153.9 75.6,153.3 75.8,152.6 76.0,152.0 76.2,151.6 76.4,151.3 76.6,151.1 76.8,150.6 77.0,150.0 77.2,149.4 77.4,148.8 77.6,148.1 77.8,147.4 78.1,147.0 78.3,146.8 78.5,146.5 78.7,146.1 79.0,145.5 79.2,144.9 79.4,144.4 79.7,143.7 79.9,143.1 80.1,142.6 80.4,142.3 80.6,142.0 80.9,141.6 81.1,141.0 81.4,140.5 81.6,140.0 81.9,139.4 82.1,138.8 82.4,138.3 82.6,137.9 82.9,137.8 83.2,137.4 83.4,136.8 83.7,136.2 84.0,135.7 84.2,135.0 84.5,134.2 84.8,133.7 85.1,133.5 85.3,133.4 85.6,133.1 85.9,132.6 86.2,132.0 86.5,131.4 86.8,130.8 87.1,130.0 87.3,129.4 87.6,129.2 87.9,129.2 88.2,129.0 88.5,128.5 88.8,127.8 89.1,127.3 89.4,126.6 89.7,125.8 90.0,125.1 90.3,124.9 90.6,125.0 90.9,124.7 91.2,124.2 91.6,123.6 91.9,123.1 92.2,122.6 92.5,121.9 92.8,121.3 93.1,121.0 93.4,120.8 93.8,120.6 94.1,120.1 94.4,119.6 94.7,119.1 95.0,118.6 95.4,117.9 95.7,117.3 96.0,117.0 96.3,116.8 96.7,116.6 97.0,116.2 97.3,115.6 97.7,115.1 98.0,114.6 98.3,114.1 98.7,113.5 99.0,113.1 99.3,112.9 99.7,112.6 100.0,112.2 100.3,111.7 100.7,111.2 101.0,110.8 101.4,110.3 101.7,109.8 102.1,109.3 102.4,109.0 102.7,109.0 103.1,108.7 103.4,108.1 103.8,107.6 104.1,107.1 104.5,106.5 104.8,105.8 105.2,105.2 105.6,105.1 105.9,105.0 106.3,104.7 106.6,104.3 107.0,103.8 107.3,103.4 107.7,102.9 108.1,102.3 108.4,101.9 108.8,101.6 109.2,101.4 109.5,101.1 109.9,100.6 110.3,100.2 110.6,99.7 111.0,99.3 111.4,98.8 111.7,98.3 112.1,97.9 112.5,97.7 112.9,97.6 113.2,97.2 113.6,96.7 114.0,96.2 114.4,95.8 114.7,95.2 115.1,94.6 115.5,94.3 115.9,94.2 116.3,94.2 116.6,93.9 117.0,93.4 117.4,92.9 117.8,92.4 118.2,91.7 118.6,91.0 119.0,90.6 119.3,90.6 119.7,90.6 120.1,90.4 120.5,89.9 120.9,89.4 121.3,89.0 121.7,88.5 122.1,87.8 122.5,87.4 122.9,87.2 123.3,87.1 123.7,86.9 124.1,86.5 124.5,86.0 124.9,85.6 125.3,85.2 125.7,84.7 126.1,84.2 126.5,84.0 126.9,83.8 127.3,83.6 127.7,83.2 128.1,82.8 128.5,82.4 128.9,82.0 129.3,81.5 129.8,81.0 130.2,80.7 130.6,80.5 131.0,80.5 131.4,80.2 131.8,79.7 132.2,79.3 132.6,78.8 133.1,78.2 133.5,77.6 133.9,77.3 134.3,77.3 134.7,77.3 135.2,77.0 135.6,76.5 136.0,76.1 136.4,75.7 136.8,75.2 137.3,74.6 137.7,74.3 138.1,74.2 138.5,74.1 139.0,73.8 139.4,73.4 139.8,73.0 140.2,72.6 140.7,72.2 141.1,71.7 141.5,71.3 142.0,71.1 142.4,71.0 142.8,70.8 143.3,70.4 143.7,70.0 144.1,69.6 144.6,69.2 145.0,68.6 145.4,68.2 145.9,68.0 146.3,68.0 146.7,68.0 147.2,67.6 147.6,67.1 148.1,66.7 148.5,66.3 148.9,65.6 149.4,65.1 149.8,65.0 150.3,65.1 150.7,65.1 151.1,64.8 151.6,64.3 152.0,63.8 152.5,63.4 152.9,62.7 153.4,62.1 153.8,61.9 154.3,62.1 154.7,61.9 155.2,61.6 155.6,61.2 156.1,60.9 156.5,60.5 157.0,60.1 157.4,59.7 157.9,59.4 158.3,59.3 158.8,59.2 159.2,58.9 159.7,58.5 160.1,58.1 160.6,57.7 161.0,57.3 161.5,56.8 162.0,56.5 162.4,56.4 162.9,56.3 163.3,56.1 163.8,55.7 164.2,55.3 164.7,55.0 165.2,54.5 165.6,54.1 166.1,53.8 166.5,53.7 167.0,53.5 167.5,53.2 167.9,52.9 168.4,52.5 168.9,52.2 169.3,51.9 169.8,51.6 170.2,51.3 170.7,51.0 171.2,50.9 171.6,50.7 172.1,50.3 172.6,49.9 173.0,49.6 173.5,49.2 174.0,48.8 174.4,48.4 174.9,48.3 175.4,48.2 175.9,48.0 176.3,47.7 176.8,47.3 177.3,47.0 177.7,46.6 178.2,46.2 178.7,45.9 179.2,45.7 179.6,45.8 180.1,45.7 180.6,45.3 181.0,44.9 181.5,44.5 182.0,44.0 182.5,43.4 182.9,43.0 183.4,43.1 183.9,43.2 184.4,43.0 184.9,42.7 185.3,42.3 185.8,42.0 186.3,41.6 186.8,41.1 187.3,40.7 187.7,40.7 188.2,40.6 188.7,40.4 189.2,40.2 189.7,39.8 190.1,39.6 190.6,39.2 191.1,38.9 191.6,38.6 192.1,38.4 192.6,38.4 193.0,38.3 193.5,38.0 194.0,37.6 194.5,37.3 195.0,36.9 195.5,36.4 196.0,36.0 196.4,35.9 196.9,36.0 197.4,35.9 197.9,35.7 198.4,35.3 198.9,35.0 199.4,34.7 199.9,34.3 200.3,33.9 200.8,33.7 201.3,33.8 201.8,33.6 202.3,33.4 202.8,33.1 203.3,32.8 203.8,32.6 204.3,32.3 204.8,32.0 205.3,31.8 205.8,31.6 206.3,31.6 206.7,31.4 207.2,31.1 207.7,30.8 208.2,30.6 208.7,30.2 209.2,29.8 209.7,29.6 210.2,29.6 210.7,29.6 211.2,29.5 211.7,29.2 212.2,28.9 212.7,28.7 213.2,28.3 213.7,28.0 214.2,27.7 214.7,27.6 215.2,27.7 215.7,27.6 216.2,27.4 216.7,27.1 217.2,26.8 217.7,26.6 218.2,26.2 218.7,25.9 219.2,25.8 219.7,25.9 220.2,25.9 220.7,25.7 221.2,25.4 221.7,25.2 222.2,24.9 222.7,24.6 223.2,24.2 223.7,24.0 224.2,24.1 224.8,24.1 225.3,23.9 225.8,23.7 226.3,23.5 226.8,23.3 227.3,23.1 227.8,22.9 228.3,22.8 228.8,22.6 229.3,22.6 229.8,22.6 230.3,22.4 230.8,22.2 231.3,22.0 231.9,21.7 232.4,21.4 232.9,21.1 233.4,21.0 233.9,21.2 234.4,21.4 234.9,21.3 235.4,21.0 235.9,20.7 236.5,20.5 237.0,20.2 237.5,19.7 238.0,19.5 238.5,19.7 239.0,20.0 239.5,20.1 240.0,19.9 240.6,19.6 241.1,19.4 241.6,19.2 242.1,18.8 242.6,18.5 243.1,18.5 243.6,18.8 244.2,19.0 244.7,18.9 245.2,18.7 245.7,18.4 246.2,18.3 246.7,17.9 247.3,17.5 247.8,17.4 248.3,17.6 248.8,18.0 249.3,18.0 249.9,17.8 250.4,17.6 250.9,17.4 251.4,17.2 251.9,16.8 252.5,16.5 253.0,16.6 253.5,17.0 254.0,17.3 254.6,17.2 255.1,16.9 255.6,16.7 256.2,16.5 256.7,16.2 257.2,15.8 257.7,15.8 258.3,16.1 258.8,16.3 259.3,16.2 259.9,16.1 260.4,16.0 260.9,15.9 261.5,15.7 262.0,15.5 262.5,15.4 263.1,15.5 263.6,15.7 264.2,15.9 264.7,15.7 265.2,15.5 265.8,15.4 266.3,15.1 266.9,14.8 267.4,14.6 268.0,14.8 268.5,15.0 269.1,15.0 269.6,14.9 270.2,14.9 270.7,14.8 271.3,14.7 271.8,14.5 272.4,14.5 272.9,14.5 273.5,14.6 274.1,14.7 274.6,14.6 275.2,14.4 275.7,14.3 276.3,14.2 276.9,14.0 277.4,13.8 278.0,14.0 278.6,14.1 279.1,14.1 279.7,14.0 280.3,13.9 280.9,13.9 281.4,13.8 282.0,13.6 282.6,13.6 283.2,13.6 283.8,14.0 284.3,14.0 284.9,13.7 285.5,13.6 286.1,13.4 286.7,13.1 287.3,12.8 287.9,13.0 288.5,13.4 289.0,13.6 289.6,13.5 290.2,13.3 290.8,13.1 291.4,12.8 292.0,12.4 292.6,12.4 293.3,12.9 293.9,13.1 294.5,13.0 295.1,12.8 295.7,12.7 296.3,12.5 296.9,12.3 297.5,12.2 298.2,12.5 298.8,12.9 299.4,12.8 300.0,12.6 300.6,12.4 301.2,12.2 301.8,11.7 302.4,11.6 303.1,12.0 303.7,12.3 304.3,12.3 304.9,12.2 305.5,12.2 306.1,12.1 306.6,11.9 307.2,11.8 307.8,11.9 308.4,12.2 309.0,12.4 309.5,12.4 310.1,12.3 310.6,12.3 311.2,12.2 311.7,12.0 312.3,11.9 312.8,12.2 313.3,12.6 313.8,12.9 314.3,13.0 314.8,12.9 315.3,13.0 315.8,13.0 316.2,13.0 316.7,13.0 317.1,13.0 317.6,13.3 318.0,13.8 318.4,14.1 318.8,14.3 319.2,14.5 319.6,14.7 320.0,14.9 320.3,15.1 320.6,15.3 320.9,15.4 321.2,15.6 321.4,15.9 321.5,16.2 321.6,16.6 321.7,17.1 321.7,17.6 321.6,18.0 321.5,18.3 321.3,18.5 321.1,18.7 320.9,19.0 320.6,19.2 320.3,19.4 320.0,19.5 319.6,19.6 319.2,20.0 318.8,20.6 318.3,21.4 317.9,21.7 317.4,21.8 316.9,21.9 316.3,22.0 315.8,21.9 315.2,21.8 314.6,22.2 314.0,23.0 313.4,23.3 312.8,23.4 312.2,23.6 311.5,23.7 310.9,23.7 310.2,23.8 309.5,24.2 308.9,24.8 308.2,24.9 307.5,24.9 306.8,24.9 306.2,24.8 305.5,24.7 304.8,25.2 304.1,25.7 303.4,25.9 302.8,25.9 302.1,26.0 301.5,26.0 300.8,25.8 300.2,26.1 299.6,26.6 298.9,27.1 298.3,27.1 297.7,27.0 297.1,27.1 296.5,26.9 296.0,26.6 295.4,26.8 294.8,27.5 294.2,27.9 293.7,28.0 293.1,28.0 292.6,28.0 292.0,28.0 291.5,27.9 290.9,27.8 290.4,28.0 289.9,28.5 289.3,28.9 288.8,29.0 288.3,29.0 287.8,29.0 287.3,29.1 286.7,29.0 286.2,28.8 285.7,28.9 285.2,29.3 284.7,29.8 284.2,30.1 283.7,30.1 283.2,30.1 282.7,30.1 282.2,30.1 281.7,30.0 281.2,29.9 280.7,30.1 280.2,30.5 279.7,31.0 279.2,31.2 278.7,31.2 278.2,31.2 277.7,31.3 277.2,31.3 276.7,31.2 276.2,31.2 275.7,31.5 275.2,31.9 274.7,32.1 274.2,32.3 273.6,32.3 273.1,32.4 272.6,32.5 272.1,32.6 271.6,32.6 271.1,32.8 270.6,33.1 270.1,33.6 269.6,33.8 269.0,33.9 268.5,33.9 268.0,33.9 267.5,33.9 267.0,33.7 266.5,33.7 266.0,34.2 265.4,34.7 264.9,34.9 264.4,35.1 263.9,35.2 263.4,35.3 262.9,35.4 262.3,35.5 261.8,35.5 261.3,35.8 260.8,36.2 260.3,36.6 259.8,36.7 259.2,36.8 258.7,36.9 258.2,37.0 257.7,36.9 257.2,36.9 256.7,37.2 256.1,37.7 255.6,38.2 255.1,38.4 254.6,38.4 254.1,38.5 253.6,38.6 253.1,38.6 252.5,38.5 252.0,38.8 251.5,39.4 251.0,39.8 250.5,40.0 250.0,40.1 249.5,40.2 248.9,40.4 248.4,40.5 247.9,40.5 247.4,40.7 246.9,41.2 246.4,41.7 245.9,41.9 245.4,42.0 244.9,42.1 244.4,42.3 243.8,42.3 243.3,42.3 242.8,42.5 242.3,43.0 241.8,43.7 241.3,44.0 240.8,44.1 240.3,44.2 239.8,44.3 239.3,44.3 238.8,44.2 238.3,44.4 237.8,45.0 237.3,45.6 236.8,45.9 236.3,46.1 235.8,46.2 235.3,46.4 234.8,46.5 234.4,46.5 233.9,46.7 233.4,47.2 232.9,47.7 232.4,48.0 231.9,48.2 231.4,48.4 230.9,48.6 230.5,48.8 230.0,48.9 229.5,49.1 229.0,49.5 228.5,49.8 228.1,50.1 227.6,50.4 227.1,50.6 226.6,50.9 226.2,51.2 225.7,51.4 225.2,51.7 224.7,52.0 224.3,52.3 223.8,52.7 223.3,53.0 222.9,53.2 222.4,53.4 221.9,53.6 221.5,53.8 221.0,53.9 220.5,54.3 220.1,54.7 219.6,55.2 219.1,55.5 218.7,55.7 218.2,56.0 217.8,56.2 217.3,56.3 216.8,56.5 216.4,56.8 215.9,57.3 215.5,57.8 215.0,58.2 214.6,58.4 214.1,58.6 213.7,58.8 213.2,59.0 212.8,59.1 212.3,59.4 211.9,59.9 211.4,60.4 211.0,60.8 210.5,61.1 210.1,61.3 209.6,61.6 209.2,61.8 208.7,62.0 208.3,62.2 207.8,62.6 207.4,63.2 207.0,63.7 206.5,64.0 206.1,64.2 205.6,64.4 205.2,64.6 204.8,64.7 204.3,64.8 203.9,65.3 203.4,66.0 203.0,66.5 202.6,66.8 202.1,67.0 201.7,67.3 201.3,67.6 200.8,67.7 200.4,67.9 200.0,68.3 199.5,68.8 199.1,69.4 198.7,69.8 198.2,70.0 197.8,70.3 197.4,70.6 197.0,70.7 196.5,70.8 196.1,71.2 195.7,71.7 195.3,72.4 194.8,72.9 194.4,73.1 194.0,73.3 193.6,73.6 193.1,73.8 192.7,73.8 192.3,74.1 191.9,74.7 191.4,75.3 191.0,75.8 190.6,76.1 190.2,76.4 189.8,76.7 189.3,76.9 188.9,77.1 188.5,77.4 188.1,77.8 187.7,78.4 187.2,79.0 186.8,79.3 186.4,79.5 186.0,79.8 185.6,80.1 185.2,80.3 184.7,80.5 184.3,80.9 183.9,81.5 183.5,82.4 183.1,82.7 182.7,82.9 182.3,83.1 181.8,83.3 181.4,83.3 181.0,83.3 180.6,83.8 180.2,84.7 179.8,85.4 179.4,85.8 179.0,86.0 178.6,86.3 178.1,86.6 177.7,86.7 177.3,86.8 176.9,87.1 176.5,87.8 176.1,88.4 175.7,88.8 175.3,89.2 174.9,89.5 174.5,89.8 174.0,90.1 173.6,90.3 173.2,90.7 172.8,91.2 172.4,91.8 172.0,92.3 171.6,92.5 171.2,92.8 170.8,93.1 170.4,93.4 170.0,93.5 169.6,93.8 169.2,94.4 168.8,95.1 168.3,95.6 167.9,95.9 167.5,96.2 167.1,96.5 166.7,96.7 166.3,96.8 165.9,97.0 165.5,97.6 165.1,98.4 164.7,99.0 164.3,99.3 163.9,99.5 163.5,99.8 163.1,100.0 162.7,100.1 162.3,100.3 161.9,100.8 161.4,101.7 161.0,102.2 160.6,102.6 160.2,102.8 159.8,103.1 159.4,103.4 159.0,103.5 158.6,103.8 158.2,104.3 157.8,105.0 157.4,105.5 157.0,105.9 156.6,106.2 156.2,106.5 155.8,106.8 155.4,107.0 155.0,107.2 154.6,107.7 154.2,108.3 153.8,108.9 153.4,109.2 153.0,109.5 152.6,109.9 152.2,110.2 151.8,110.4 151.4,110.6 151.0,111.1 150.6,111.7 150.2,112.4 149.8,112.8 149.4,113.0 149.0,113.3 148.6,113.6 148.2,113.7 147.8,113.8 147.4,114.3 147.0,115.0 146.6,115.7 146.2,116.1 145.8,116.4 145.4,116.7 145.0,117.0 144.6,117.2 144.2,117.3 143.8,117.7 143.4,118.4 143.0,119.0 142.6,119.5 142.2,119.8 141.8,120.1 141.4,120.4 141.0,120.6 140.6,120.8 140.2,121.2 139.8,121.8 139.4,122.5 139.0,122.9 138.6,123.2 138.2,123.5 137.8,123.9 137.4,124.1 137.0,124.3 136.7,124.6 136.3,125.2 135.9,125.9 135.5,126.4 135.1,126.7 134.7,127.0 134.3,127.3 133.9,127.6 133.5,127.8 133.1,128.1 132.7,128.6 132.4,129.4 132.0,129.9 131.6,130.2 131.2,130.5 130.8,130.8 130.4,131.0 130.0,131.1 129.6,131.4 129.2,132.0 128.9,132.7 128.5,133.3 128.1,133.6 127.7,133.9 127.3,134.3 126.9,134.6 126.5,134.8 126.2,135.1 125.8,135.6 125.4,136.2 125.0,136.9 124.6,137.2 124.3,137.5 123.9,137.8 123.5,138.1 123.1,138.2 122.7,138.4 122.3,138.9 122.0,139.6 121.6,140.4 121.2,140.8 120.8,141.0 120.5,141.3 120.1,141.6 119.7,141.8 119.3,141.9 119.0,142.3 118.6,143.1 118.2,143.8 117.8,144.3 117.5,144.6 117.1,144.9 116.7,145.2 116.3,145.4 116.0,145.5 115.6,145.8 115.2,146.5 114.8,147.2 114.5,147.7 114.1,148.0 113.7,148.3 113.4,148.7 113.0,149.0 112.6,149.2 112.3,149.6 111.9,150.1 111.5,150.8 111.2,151.5 110.8,151.8 110.4,152.0 110.1,152.3 109.7,152.6 109.3,152.7 109.0,152.8 108.6,153.3 108.3,154.2 107.9,154.8 107.5,155.2 107.2,155.5 106.8,155.9 106.5,156.2 106.1,156.5 105.7,156.7 105.4,157.1 105.0,157.7 104.7,158.4 104.3,158.9 104.0,159.2 103.6,159.5 103.3,159.8 102.9,160.1 102.5,160.2 102.2,160.5 101.8,161.1 101.5,161.8 101.1,162.4 100.8,162.7 100.4,163.1 100.1,163.4 99.7,163.8 99.4,164.0 99.1,164.3 98.7,164.7 98.4,165.3 98.0,165.9 97.7,166.3 97.3,166.6 97.0,167.0 96.6,167.4 96.3,167.7 96.0,168.1 95.6,168.4 95.3,168.9 94.9,169.5 94.6,170.1 94.3,170.5 93.9,170.8 93.6,171.1 93.3,171.4 92.9,171.6 92.6,171.8 92.3,172.3 91.9,173.0 91.6,173.7 91.2,174.2 90.9,174.5 90.5,174.8 90.2,175.1 89.8,175.4 89.5,175.5 89.1,175.9 88.8,176.5 88.4,177.3 88.0,177.8 87.6,178.1 87.3,178.5 86.9,178.8 86.5,179.1 86.1,179.2 85.7,179.6 85.2,180.3 84.8,181.1 84.4,181.5 83.9,181.8 83.5,182.2 83.0,182.4 82.5,182.6 82.0,182.9 81.5,183.7 81.0,184.4 80.5,184.8 80.0,185.1 79.4,185.5 78.9,185.7 78.3,186.0 77.8,186.5 77.2,187.2 76.6,187.7 76.1,187.9 75.5,188.2 75.0,188.5 74.4,188.6 73.9,188.9 73.4,189.3 72.9,189.9 72.4,190.2 71.9,190.3 71.4,190.4 71.0,190.4 70.6,190.5 70.2,190.4 69.8,190.3 69.5,190.2 69.1,190.1 68.9,190.1 68.6,190.2 68.4,190.2" fill="none" stroke="#ff0000" stroke-width="1.4" stroke-linejoin="round" />
<polyline points="68.4,190.3 68.2,190.1 68.1,189.8 67.9,189.4 67.9,189.1 67.8,188.7 67.8,188.2 67.7,187.7 67.8,187.2 67.8,186.7 67.8,186.1 67.9,185.5 68.0,185.0 68.1,184.4 68.2,183.7 68.3,183.1 68.4,182.5 68.5,181.9 68.6,181.2 68.7,180.6 68.9,180.0 69.0,179.4 69.1,178.8 69.2,178.2 69.3,177.6 69.4,177.0 69.6,176.4 69.7,175.8 69.8,175.2 69.9,174.7 70.0,174.1 70.1,173.5 70.2,173.0 70.3,172.4 70.5,171.8 70.6,171.3 70.7,170.7 70.8,170.2 70.9,169.6 71.1,169.1 71.2,168.6 71.3,168.0 71.4,167.5 71.5,167.0 71.7,166.4 71.8,165.9 71.9,165.4 72.1,164.9 72.2,164.3 72.3,163.8 72.5,163.3 72.6,162.8 72.8,162.3 72.9,161.7 73.1,161.2 73.2,160.7 73.4,160.2 73.5,159.7 73.7,159.2 73.8,158.7 74.0,158.2 74.2,157.7 74.3,157.1 74.5,156.6 74.7,156.1 74.9,155.6 75.0,155.1 75.2,154.6 75.4,154.1 75.6,153.6 75.8,153.1 76.0,152.6 76.2,152.1 76.4,151.6 76.6,151.1 76.8,150.6 77.0,150.1 77.2,149.6 77.4,149.1 77.6,148.6 77.8,148.1 78.1,147.6 78.3,147.1 78.5,146.6 78.7,146.1 79.0,145.6 79.2,145.1 79.4,144.6 79.7,144.1 79.9,143.6 80.1,143.2 80.4,142.7 80.6,142.2 80.9,141.7 81.1,141.2 81.4,140.7 81.6,140.2 81.9,139.7 82.1,139.3 82.4,138.8 82.6,138.3 82.9,137.8 83.2,137.3 83.4,136.9 83.7,136.4 84.0,135.9 84.2,135.4 84.5,134.9 84.8,134.5 85.1,134.0 85.3,133.5 85.6,133.0 85.9,132.6 86.2,132.1 86.5,131.6 86.8,131.2 87.1,130.7 87.3,130.2 87.6,129.8 87.9,129.3 88.2,128.8 88.5,128.4 88.8,127.9 89.1,127.4 89.4,127.0 89.7,126.5 90.0,126.1 90.3,125.6 90.6,125.1 90.9,124.7 91.2,124.2 91.6,123.8 91.9,123.3 92.2,122.9 92.5,122.4 92.8,122.0 93.1,121.5 93.4,121.1 93.8,120.6 94.1,120.2 94.4,119.7 94.7,119.3 95.0,118.9 95.4,118.4 95.7,118.0 96.0,117.5 96.3,117.1 96.7,116.7 97.0,116.2 97.3,115.8 97.7,115.4 98.0,114.9 98.3,114.5 98.7,114.1 99.0,113.6 99.3,113.2 99.7,112.8 100.0,112.3 100.3,111.9 100.7,111.5 101.0,111.1 101.4,110.6 101.7,110.2 102.1,109.8 102.4,109.4 102.7,109.0 103.1,108.5 103.4,108.1 103.8,107.7 104.1,107.3 104.5,106.9 104.8,106.5 105.2,106.1 105.6,105.6 105.9,105.2 106.3,104.8 106.6,104.4 107.0,104.0 107.3,103.6 107.7,103.2 108.1,102.8 108.4,102.4 108.8,102.0 109.2,101.6 109.5,101.2 109.9,100.8 110.3,100.4 110.6,100.0 111.0,99.6 111.4,99.2 111.7,98.8 112.1,98.4 112.5,98.0 112.9,97.6 113.2,97.2 113.6,96.8 114.0,96.5 114.4,96.1 114.7,95.7 115.1,95.3 115.5,94.9 115.9,94.5 116.3,94.1 116.6,93.7 117.0,93.4 117.4,93.0 117.8,92.6 118.2,92.2 118.6,91.8 119.0,91.5 119.3,91.1 119.7,90.7 120.1,90.3 120.5,90.0 120.9,89.6 121.3,89.2 121.7,88.8 122.1,88.5 122.5,88.1 122.9,87.7 123.3,87.4 123.7,87.0 124.1,86.6 124.5,86.2 124.9,85.9 125.3,85.5 125.7,85.2 126.1,84.8 126.5,84.4 126.9,84.1 127.3,83.7 127.7,83.3 128.1,83.0 128.5,82.6 128.9,82.3 129.3,81.9 129.8,81.5 130.2,81.2 130.6,80.8 131.0,80.5 131.4,80.1 131.8,79.8 132.2,79.4 132.6,79.1 133.1,78.7 133.5,78.4 133.9,78.0 134.3,77.7 134.7,77.3 135.2,77.0 135.6,76.6 136.0,76.3 136.4,75.9 136.8,75.6 137.3,75.3 137.7,74.9 138.1,74.6 138.5,74.2 139.0,73.9 139.4,73.6 139.8,73.2 140.2,72.9 140.7,72.5 141.1,72.2 141.5,71.9 142.0,71.5 142.4,71.2 142.8,70.9 143.3,70.5 143.7,70.2 144.1,69.9 144.6,69.5 145.0,69.2 145.4,68.9 145.9,68.5 146.3,68.2 146.7,67.9 147.2,67.5 147.6,67.2 148.1,66.9 148.5,66.6 148.9,66.2 149.4,65.9 149.8,65.6 150.3,65.3 150.7,65.0 151.1,64.6 151.6,64.3 152.0,64.0 152.5,63.7 152.9,63.3 153.4,63.0 153.8,62.7 154.3,62.4 154.7,62.1 155.2,61.8 155.6,61.4 156.1,61.1 156.5,60.8 157.0,60.5 157.4,60.2 157.9,59.9 158.3,59.6 158.8,59.2 159.2,58.9 159.7,58.6 160.1,58.3 160.6,58.0 161.0,57.7 161.5,57.4 162.0,57.1 162.4,56.8 162.9,56.5 163.3,56.2 163.8,55.9 164.2,55.5 164.7,55.2 165.2,54.9 165.6,54.6 166.1,54.3 166.5,54.0 167.0,53.7 167.5,53.4 167.9,53.1 168.4,52.8 168.9,52.5 169.3,52.2 169.8,51.9 170.2,51.6 170.7,51.3 171.2,51.0 171.6,50.7 172.1,50.4 172.6,50.2 173.0,49.9 173.5,49.6 174.0,49.3 174.4,49.0 174.9,48.7 175.4,48.4 175.9,48.1 176.3,47.8 176.8,47.5 177.3,47.3 177.7,47.0 178.2,46.7 178.7,46.4 179.2,46.1 179.6,45.8 180.1,45.5 180.6,45.3 181.0,45.0 181.5,44.7 182.0,44.4 182.5,44.1 182.9,43.9 183.4,43.6 183.9,43.3 184.4,43.0 184.9,42.8 185.3,42.5 185.8,42.2 186.3,42.0 186.8,41.7 187.3,41.4 187.7,41.1 188.2,40.9 188.7,40.6 189.2,40.3 189.7,40.1 190.1,39.8 190.6,39.6 191.1,39.3 191.6,39.0 192.1,38.8 192.6,38.5 193.0,38.3 193.5,38.0 194.0,37.7 194.5,37.5 195.0,37.2 195.5,37.0 196.0,36.7 196.4,36.5 196.9,36.2 197.4,36.0 197.9,35.7 198.4,35.5 198.9,35.3 199.4,35.0 199.9,34.8 200.3,34.5 200.8,34.3 201.3,34.0 201.8,33.8 202.3,33.6 202.8,33.3 203.3,33.1 203.8,32.9 204.3,32.6 204.8,32.4 205.3,32.2 205.8,32.0 206.3,31.7 206.7,31.5 207.2,31.3 207.7,31.1 208.2,30.8 208.7,30.6 209.2,30.4 209.7,30.2 210.2,30.0 210.7,29.7 211.2,29.5 211.7,29.3 212.2,29.1 212.7,28.9 213.2,28.7 213.7,28.5 214.2,28.3 214.7,28.1 215.2,27.9 215.7,27.7 216.2,27.5 216.7,27.3 217.2,27.1 217.7,26.9 218.2,26.7 218.7,26.5 219.2,26.3 219.7,26.1 220.2,25.9 220.7,25.7 221.2,25.6 221.7,25.4 222.2,25.2 222.7,25.0 223.2,24.8 223.7,24.7 224.2,24.5 224.8,24.3 225.3,24.1 225.8,24.0 226.3,23.8 226.8,23.6 227.3,23.5 227.8,23.3 228.3,23.1 228.8,23.0 229.3,22.8 229.8,22.7 230.3,22.5 230.8,22.3 231.3,22.2 231.9,22.0 232.4,21.9 232.9,21.7 233.4,21.6 233.9,21.4 234.4,21.3 234.9,21.2 235.4,21.0 235.9,20.9 236.5,20.8 237.0,20.6 237.5,20.5 238.0,20.4 238.5,20.2 239.0,20.1 239.5,20.0 240.0,19.8 240.6,19.7 241.1,19.6 241.6,19.5 242.1,19.4 242.6,19.3 243.1,19.1 243.6,19.0 244.2,18.9 244.7,18.8 245.2,18.7 245.7,18.6 246.2,18.5 246.7,18.4 247.3,18.3 247.8,18.2 248.3,18.1 248.8,18.0 249.3,17.9 249.9,17.8 250.4,17.7 250.9,17.6 251.4,17.5 251.9,17.5 252.5,17.4 253.0,17.3 253.5,17.2 254.0,17.1 254.6,17.0 255.1,17.0 255.6,16.9 256.2,16.8 256.7,16.7 257.2,16.6 257.7,16.6 258.3,16.5 258.8,16.4 259.3,16.4 259.9,16.3 260.4,16.2 260.9,16.1 261.5,16.1 262.0,16.0 262.5,15.9 263.1,15.9 263.6,15.8 264.2,15.8 264.7,15.7 265.2,15.6 265.8,15.6 266.3,15.5 266.9,15.4 267.4,15.4 268.0,15.3 268.5,15.3 269.1,15.2 269.6,15.2 270.2,15.1 270.7,15.1 271.3,15.0 271.8,14.9 272.4,14.9 272.9,14.8 273.5,14.8 274.1,14.7 274.6,14.7 275.2,14.6 275.7,14.6 276.3,14.5 276.9,14.5 277.4,14.4 278.0,14.4 278.6,14.3 279.1,14.3 279.7,14.2 280.3,14.2 280.9,14.1 281.4,14.1 282.0,14.1 282.6,14.0 283.2,14.0 283.8,13.9 284.3,13.9 284.9,13.8 285.5,13.8 286.1,13.7 286.7,13.7 287.3,13.6 287.9,13.6 288.5,13.5 289.0,13.5 289.6,13.4 290.2,13.4 290.8,13.4 291.4,13.3 292.0,13.3 292.6,13.2 293.3,13.2 293.9,13.1 294.5,13.1 295.1,13.0 295.7,13.0 296.3,12.9 296.9,12.9 297.5,12.8 298.2,12.8 298.8,12.7 299.4,12.7 300.0,12.6 300.6,12.6 301.2,12.6 301.8,12.5 302.4,12.5 303.1,12.5 303.7,12.4 304.3,12.4 304.9,12.4 305.5,12.4 306.1,12.4 306.6,12.4 307.2,12.4 307.8,12.4 308.4,12.4 309.0,12.4 309.5,12.4 310.1,12.4 310.6,12.5 311.2,12.5 311.7,12.6 312.3,12.6 312.8,12.7 313.3,12.8 313.8,12.9 314.3,13.0 314.8,13.1 315.3,13.2 315.8,13.3 316.2,13.4 316.7,13.6 317.1,13.7 317.6,13.9 318.0,14.1 318.4,14.2 318.8,14.4 319.2,14.6 319.6,14.9 320.0,15.1 320.3,15.3 320.6,15.6 320.9,15.9 321.2,16.1 321.4,16.4 321.5,16.7 321.6,17.0 321.7,17.3 321.7,17.6 321.6,17.9 321.5,18.2 321.3,18.5 321.1,18.9 320.9,19.2 320.6,19.5 320.3,19.8 320.0,20.1 319.6,20.4 319.2,20.7 318.8,21.0 318.3,21.2 317.9,21.5 317.4,21.8 316.9,22.0 316.3,22.3 315.8,22.5 315.2,22.7 314.6,23.0 314.0,23.2 313.4,23.4 312.8,23.6 312.2,23.8 311.5,24.0 310.9,24.2 310.2,24.3 309.5,24.5 308.9,24.7 308.2,24.9 307.5,25.0 306.8,25.2 306.2,25.4 305.5,25.5 304.8,25.7 304.1,25.8 303.4,25.9 302.8,26.1 302.1,26.2 301.5,26.4 300.8,26.5 300.2,26.6 299.6,26.8 298.9,26.9 298.3,27.0 297.7,27.1 297.1,27.3 296.5,27.4 296.0,27.5 295.4,27.6 294.8,27.7 294.2,27.9 293.7,28.0 293.1,28.1 292.6,28.2 292.0,28.3 291.5,28.4 290.9,28.5 290.4,28.7 289.9,28.8 289.3,28.9 288.8,29.0 288.3,29.1 287.8,29.2 287.3,29.3 286.7,29.4 286.2,29.5 285.7,29.6 285.2,29.8 284.7,29.9 284.2,30.0 283.7,30.1 283.2,30.2 282.7,30.3 282.2,30.4 281.7,30.5 281.2,30.7 280.7,30.8 280.2,30.9 279.7,31.0 279.2,31.1 278.7,31.3 278.2,31.4 277.7,31.5 277.2,31.6 276.7,31.8 276.2,31.9 275.7,32.0 275.2,32.2 274.7,32.3 274.2,32.4 273.6,32.6 273.1,32.7 272.6,32.8 272.1,33.0 271.6,33.1 271.1,33.3 270.6,33.4 270.1,33.5 269.6,33.7 269.0,33.8 268.5,34.0 268.0,34.1 267.5,34.3 267.0,34.4 266.5,34.6 266.0,34.7 265.4,34.9 264.9,35.1 264.4,35.2 263.9,35.4 263.4,35.6 262.9,35.7 262.3,35.9 261.8,36.0 261.3,36.2 260.8,36.4 260.3,36.6 259.8,36.7 259.2,36.9 258.7,37.1 258.2,37.3 257.7,37.4 257.2,37.6 256.7,37.8 256.1,38.0 255.6,38.2 255.1,38.3 254.6,38.5 254.1,38.7 253.6,38.9 253.1,39.1 252.5,39.3 252.0,39.5 251.5,39.7 251.0,39.9 250.5,40.1 250.0,40.3 249.5,40.5 248.9,40.7 248.4,40.9 247.9,41.1 247.4,41.3 246.9,41.5 246.4,41.7 245.9,41.9 245.4,42.1 244.9,42.3 244.4,42.5 243.8,42.8 243.3,43.0 242.8,43.2 242.3,43.4 241.8,43.6 241.3,43.9 240.8,44.1 240.3,44.3 239.8,44.5 239.3,44.8 238.8,45.0 238.3,45.2 237.8,45.5 237.3,45.7 236.8,45.9 236.3,46.2 235.8,46.4 235.3,46.6 234.8,46.9 234.4,47.1 233.9,47.4 233.4,47.6 232.9,47.9 232.4,48.1 231.9,48.4 231.4,48.6 230.9,48.9 230.5,49.1 230.0,49.4 229.5,49.6 229.0,49.9 228.5,50.1 228.1,50.4 227.6,50.7 227.1,50.9 226.6,51.2 226.2,51.5 225.7,51.7 225.2,52.0 224.7,52.3 224.3,52.5 223.8,52.8 223.3,53.1 222.9,53.4 222.4,53.6 221.9,53.9 221.5,54.2 221.0,54.5 220.5,54.7 220.1,55.0 219.6,55.3 219.1,55.6 218.7,55.9 218.2,56.2 217.8,56.5 217.3,56.7 216.8,57.0 216.4,57.3 215.9,57.6 215.5,57.9 215.0,58.2 214.6,58.5 214.1,58.8 213.7,59.1 213.2,59.4 212.8,59.7 212.3,60.0 211.9,60.3 211.4,60.6 211.0,60.9 210.5,61.2 210.1,61.5 209.6,61.8 209.2,62.1 208.7,62.4 208.3,62.8 207.8,63.1 207.4,63.4 207.0,63.7 206.5,64.0 206.1,64.3 205.6,64.6 205.2,64.9 204.8,65.3 204.3,65.6 203.9,65.9 203.4,66.2 203.0,66.5 202.6,66.9 202.1,67.2 201.7,67.5 201.3,67.8 200.8,68.2 200.4,68.5 200.0,68.8 199.5,69.1 199.1,69.5 198.7,69.8 198.2,70.1 197.8,70.5 197.4,70.8 197.0,71.1 196.5,71.5 196.1,71.8 195.7,72.1 195.3,72.5 194.8,72.8 194.4,73.1 194.0,73.5 193.6,73.8 193.1,74.2 192.7,74.5 192.3,74.8 191.9,75.2 191.4,75.5 191.0,75.9 190.6,76.2 190.2,76.6 189.8,76.9 189.3,77.3 188.9,77.6 188.5,77.9 188.1,78.3 187.7,78.6 187.2,79.0 186.8,79.3 186.4,79.7 186.0,80.0 185.6,80.4 185.2,80.7 184.7,81.1 184.3,81.5 183.9,81.8 183.5,82.2 183.1,82.5 182.7,82.9 182.3,83.2 181.8,83.6 181.4,83.9 181.0,84.3 180.6,84.7 180.2,85.0 179.8,85.4 179.4,85.7 179.0,86.1 178.6,86.4 178.1,86.8 177.7,87.2 177.3,87.5 176.9,87.9 176.5,88.3 176.1,88.6 175.7,89.0 175.3,89.3 174.9,89.7 174.5,90.1 174.0,90.4 173.6,90.8 173.2,91.2 172.8,91.5 172.4,91.9 172.0,92.3 171.6,92.6 171.2,93.0 170.8,93.4 170.4,93.7 170.0,94.1 169.6,94.5 169.2,94.8 168.8,95.2 168.3,95.6 167.9,95.9 167.5,96.3 167.1,96.7 166.7,97.0 166.3,97.4 165.9,97.8 165.5,98.1 165.1,98.5 164.7,98.9 164.3,99.3 163.9,99.6 163.5,100.0 163.1,100.4 162.7,100.7 162.3,101.1 161.9,101.5 161.4,101.9 161.0,102.2 160.6,102.6 160.2,103.0 159.8,103.3 159.4,103.7 159.0,104.1 158.6,104.5 158.2,104.8 157.8,105.2 157.4,105.6 157.0,106.0 156.6,106.3 156.2,106.7 155.8,107.1 155.4,107.5 155.0,107.8 154.6,108.2 154.2,108.6 153.8,109.0 153.4,109.3 153.0,109.7 152.6,110.1 152.2,110.5 151.8,110.8 151.4,111.2 151.0,111.6 150.6,112.0 150.2,112.3 149.8,112.7 149.4,113.1 149.0,113.5 148.6,113.8 148.2,114.2 147.8,114.6 147.4,115.0 147.0,115.4 146.6,115.7 146.2,116.1 145.8,116.5 145.4,116.9 145.0,117.2 144.6,117.6 144.2,118.0 143.8,118.4 143.4,118.8 143.0,119.1 142.6,119.5 142.2,119.9 141.8,120.3 141.4,120.7 141.0,121.0 140.6,121.4 140.2,121.8 139.8,122.2 139.4,122.6 139.0,123.0 138.6,123.3 138.2,123.7 137.8,124.1 137.4,124.5 137.0,124.9 136.7,125.3 136.3,125.6 135.9,126.0 135.5,126.4 135.1,126.8 134.7,127.2 134.3,127.6 133.9,127.9 133.5,128.3 133.1,128.7 132.7,129.1 132.4,129.5 132.0,129.9 131.6,130.2 131.2,130.6 130.8,131.0 130.4,131.4 130.0,131.8 129.6,132.2 129.2,132.6 128.9,132.9 128.5,133.3 128.1,133.7 127.7,134.1 127.3,134.5 126.9,134.9 126.5,135.3 126.2,135.7 125.8,136.0 125.4,136.4 125.0,136.8 124.6,137.2 124.3,137.6 123.9,138.0 123.5,138.4 123.1,138.8 122.7,139.2 122.3,139.5 122.0,139.9 121.6,140.3 121.2,140.7 120.8,141.1 120.5,141.5 120.1,141.9 119.7,142.3 119.3,142.7 119.0,143.1 118.6,143.5 118.2,143.8 117.8,144.2 117.5,144.6 117.1,145.0 116.7,145.4 116.3,145.8 116.0,146.2 115.6,146.6 115.2,147.0 114.8,147.4 114.5,147.8 114.1,148.2 113.7,148.6 113.4,148.9 113.0,149.3 112.6,149.7 112.3,150.1 111.9,150.5 111.5,150.9 111.2,151.3 110.8,151.7 110.4,152.1 110.1,152.5 109.7,152.9 109.3,153.3 109.0,153.7 108.6,154.1 108.3,154.5 107.9,154.9 107.5,155.3 107.2,155.7 106.8,156.1 106.5,156.5 106.1,156.9 105.7,157.3 105.4,157.7 105.0,158.1 104.7,158.5 104.3,158.9 104.0,159.3 103.6,159.7 103.3,160.1 102.9,160.5 102.5,160.9 102.2,161.3 101.8,161.7 101.5,162.1 101.1,162.5 100.8,162.9 100.4,163.3 100.1,163.7 99.7,164.1 99.4,164.5 99.1,164.9 98.7,165.3 98.4,165.7 98.0,166.1 97.7,166.5 97.3,166.9 97.0,167.3 96.6,167.7 96.3,168.1 96.0,168.5 95.6,168.9 95.3,169.3 94.9,169.7 94.6,170.1 94.3,170.5 93.9,170.9 93.6,171.3 93.3,171.7 92.9,172.1 92.6,172.5 92.3,172.9 91.9,173.3 91.6,173.7 91.2,174.1 90.9,174.5 90.5,174.9 90.2,175.4 89.8,175.8 89.5,176.2 89.1,176.6 88.8,177.0 88.4,177.4 88.0,177.8 87.6,178.2 87.3,178.6 86.9,179.0 86.5,179.5 86.1,179.9 85.7,180.3 85.2,180.7 84.8,181.1 84.4,181.5 83.9,181.9 83.5,182.4 83.0,182.8 82.5,183.2 82.0,183.6 81.5,184.0 81.0,184.5 80.5,184.9 80.0,185.3 79.4,185.7 78.9,186.2 78.3,186.6 77.8,187.0 77.2,187.4 76.6,187.8 76.1,188.1 75.5,188.5 75.0,188.8 74.4,189.1 73.9,189.4 73.4,189.7 72.9,190.0 72.4,190.2 71.9,190.4 71.4,190.5 71.0,190.7 70.6,190.8 70.2,190.8 69.8,190.8 69.5,190.8 69.1,190.8 68.9,190.7 68.6,190.5 68.4,190.3" fill="none" stroke="#bfbf00" stroke-width="1.3" stroke-linejoin="round" stroke-opacity="0.8"/>
<polyline points="64.6,401.2 64.2,400.7 64.0,400.1 63.9,399.4 63.8,398.7 63.9,398.0 64.1,397.2 64.3,396.3 64.6,395.5 64.9,394.6 65.3,393.7 65.7,392.8 66.1,392.0 66.6,391.1 67.1,390.3 67.5,389.4 68.0,388.6 68.5,387.9 69.0,387.1 69.5,386.3 69.9,385.6 70.4,384.9 70.9,384.2 71.4,383.5 71.9,382.8 72.5,382.1 73.0,381.4 73.5,380.7 74.0,380.1 74.5,379.4 75.0,378.7 75.6,378.1 76.1,377.4 76.6,376.8 77.1,376.1 77.7,375.5 78.2,374.8 78.7,374.2 79.2,373.5 79.8,372.9 80.3,372.3 80.9,371.6 81.4,371.0 81.9,370.4 82.5,369.8 83.0,369.1 83.6,368.5 84.1,367.9 84.7,367.3 85.3,366.7 85.8,366.1 86.4,365.5 87.0,364.9 87.5,364.3 88.1,363.7 88.7,363.1 89.3,362.6 89.8,362.0 90.4,361.4 91.0,360.8 91.6,360.2 92.2,359.7 92.8,359.1 93.4,358.5 94.0,358.0 94.6,357.4 95.2,356.9 95.8,356.3 96.4,355.8 97.0,355.2 97.7,354.7 98.3,354.2 98.9,353.6 99.5,353.1 100.2,352.6 100.8,352.0 101.5,351.5 102.1,351.0 102.7,350.5 103.4,350.0 104.1,349.4 104.7,348.9 105.4,348.4 106.0,347.9 106.7,347.4 107.4,346.9 108.1,346.4 108.7,345.9 109.4,345.5 110.1,345.0 110.8,344.5 111.5,344.0 112.2,343.5 112.9,343.1 113.5,342.6 114.2,342.1 115.0,341.7 115.7,341.2 116.4,340.7 117.1,340.3 117.8,339.8 118.5,339.4 119.2,338.9 119.9,338.5 120.7,338.0 121.4,337.6 122.1,337.2 122.8,336.7 123.6,336.3 124.3,335.9 125.0,335.4 125.8,335.0 126.5,334.6 127.2,334.2 128.0,333.8 128.7,333.3 129.5,332.9 130.2,332.5 131.0,332.1 131.7,331.7 132.5,331.3 133.2,330.9 134.0,330.5 134.7,330.1 135.5,329.7 136.2,329.3 137.0,328.9 137.7,328.6 138.5,328.2 139.3,327.8 140.0,327.4 140.8,327.0 141.6,326.7 142.3,326.3 143.1,325.9 143.9,325.5 144.6,325.2 145.4,324.8 146.2,324.4 146.9,324.1 147.7,323.7 148.5,323.4 149.2,323.0 150.0,322.7 150.8,322.3 151.6,322.0 152.3,321.6 153.1,321.3 153.9,320.9 154.6,320.6 155.4,320.3 156.2,319.9 157.0,319.6 157.7,319.3 158.5,318.9 159.3,318.6 160.1,318.3 160.8,317.9 161.6,317.6 162.4,317.3 163.2,317.0 163.9,316.7 164.7,316.3 165.5,316.0 166.2,315.7 167.0,315.4 167.8,315.1 168.6,314.8 169.3,314.5 170.1,314.2 170.9,313.9 171.6,313.6 172.4,313.3 173.2,313.0 174.0,312.7 174.7,312.4 175.5,312.1 176.3,311.8 177.0,311.5 177.8,311.2 178.6,311.0 179.4,310.7 180.1,310.4 180.9,310.1 181.7,309.8 182.5,309.6 183.2,309.3 184.0,309.0 184.8,308.8 185.5,308.5 186.3,308.2 187.1,308.0 187.9,307.7 188.6,307.4 189.4,307.2 190.2,306.9 191.0,306.7 191.7,306.4 192.5,306.2 193.3,305.9 194.1,305.7 194.8,305.4 195.6,305.2 196.4,304.9 197.2,304.7 197.9,304.5 198.7,304.2 199.5,304.0 200.3,303.8 201.1,303.5 201.8,303.3 202.6,303.1 203.4,302.8 204.2,302.6 205.0,302.4 205.7,302.2 206.5,302.0 207.3,301.7 208.1,301.5 208.9,301.3 209.7,301.1 210.4,300.9 211.2,300.7 212.0,300.5 212.8,300.3 213.6,300.1 214.4,299.9 215.2,299.7 216.0,299.5 216.8,299.3 217.5,299.1 218.3,298.9 219.1,298.7 219.9,298.5 220.7,298.3 221.5,298.2 222.3,298.0 223.1,297.8 223.9,297.6 224.7,297.5 225.5,297.3 226.3,297.1 227.1,296.9 227.9,296.8 228.7,296.6 229.5,296.4 230.3,296.3 231.1,296.1 231.9,296.0 232.7,295.8 233.5,295.6 234.3,295.5 235.2,295.3 236.0,295.2 236.8,295.0 237.6,294.9 238.4,294.7 239.2,294.6 240.0,294.5 240.9,294.3 241.7,294.2 242.5,294.1 243.3,293.9 244.1,293.8 245.0,293.7 245.8,293.5 246.6,293.4 247.4,293.3 248.3,293.2 249.1,293.0 249.9,292.9 250.8,292.8 251.6,292.7 252.4,292.6 253.3,292.5 254.1,292.4 254.9,292.3 255.8,292.2 256.6,292.0 257.5,291.9 258.3,291.8 259.1,291.8 260.0,291.7 260.8,291.6 261.7,291.5 262.5,291.4 263.4,291.3 264.2,291.2 265.1,291.1 265.9,291.0 266.8,291.0 267.7,290.9 268.5,290.8 269.4,290.7 270.3,290.7 271.1,290.6 272.0,290.5 272.8,290.4 273.7,290.4 274.6,290.3 275.5,290.3 276.3,290.2 277.2,290.1 278.1,290.1 279.0,290.0 279.9,290.0 280.7,289.9 281.6,289.9 282.5,289.8 283.4,289.8 284.3,289.7 285.2,289.7 286.1,289.7 287.0,289.6 287.9,289.6 288.8,289.6 289.7,289.5 290.6,289.5 291.5,289.5 292.4,289.4 293.3,289.4 294.2,289.4 295.1,289.4 296.0,289.4 296.9,289.3 297.8,289.3 298.8,289.3 299.7,289.3 300.6,289.3 301.5,289.3 302.5,289.3 303.4,289.3 304.3,289.3 305.2,289.3 306.2,289.3 307.1,289.3 308.0,289.3 308.9,289.3 309.8,289.4 310.7,289.4 311.6,289.4 312.4,289.5 313.3,289.6 314.1,289.6 314.9,289.7 315.7,289.8 316.5,289.9 317.3,290.0 318.0,290.1 318.8,290.2 319.5,290.4 320.2,290.5 320.8,290.7 321.4,290.9 322.0,291.1 322.5,291.3 322.9,291.5 323.2,291.7 323.5,291.9 323.6,292.2 323.6,292.4 323.6,292.7 323.3,292.9 323.0,293.2 322.4,293.5 321.8,293.7 320.9,294.0 319.9,294.3 318.9,294.6 317.7,294.8 316.5,295.1 315.2,295.3 313.9,295.5 312.6,295.7 311.4,295.9 310.2,296.1 309.1,296.2 308.0,296.3 307.0,296.4 306.0,296.5 305.0,296.6 304.1,296.6 303.2,296.7 302.3,296.7 301.4,296.8 300.6,296.8 299.7,296.8 298.9,296.9 298.0,296.9 297.2,297.0 296.4,297.0 295.5,297.1 294.7,297.2 293.9,297.3 293.0,297.3 292.2,297.4 291.4,297.5 290.5,297.6 289.7,297.7 288.9,297.8 288.1,297.9 287.2,298.0 286.4,298.1 285.6,298.3 284.8,298.4 283.9,298.5 283.1,298.6 282.3,298.8 281.5,298.9 280.7,299.1 279.8,299.2 279.0,299.4 278.2,299.5 277.4,299.7 276.6,299.9 275.8,300.1 275.0,300.2 274.1,300.4 273.3,300.6 272.5,300.8 271.7,301.0 270.9,301.2 270.1,301.4 269.3,301.6 268.5,301.8 267.7,302.0 266.9,302.2 266.1,302.4 265.3,302.6 264.5,302.9 263.7,303.1 262.9,303.3 262.1,303.6 261.3,303.8 260.5,304.0 259.7,304.3 258.9,304.5 258.1,304.8 257.3,305.0 256.6,305.3 255.8,305.5 255.0,305.8 254.2,306.1 253.4,306.3 252.6,306.6 251.8,306.9 251.0,307.2 250.3,307.4 249.5,307.7 248.7,308.0 247.9,308.3 247.1,308.6 246.3,308.9 245.6,309.2 244.8,309.5 244.0,309.8 243.2,310.1 242.4,310.4 241.7,310.7 240.9,311.0 240.1,311.3 239.3,311.6 238.6,311.9 237.8,312.2 237.0,312.6 236.2,312.9 235.5,313.2 234.7,313.5 233.9,313.9 233.2,314.2 232.4,314.5 231.6,314.9 230.9,315.2 230.1,315.5 229.3,315.9 228.6,316.2 227.8,316.5 227.0,316.9 226.3,317.2 225.5,317.6 224.7,317.9 224.0,318.2 223.2,318.6 222.4,318.9 221.7,319.3 220.9,319.6 220.2,320.0 219.4,320.4 218.6,320.7 217.9,321.1 217.1,321.4 216.4,321.8 215.6,322.1 214.8,322.5 214.1,322.8 213.3,323.2 212.6,323.6 211.8,323.9 211.1,324.3 210.3,324.7 209.6,325.0 208.8,325.4 208.0,325.7 207.3,326.1 206.5,326.5 205.8,326.8 205.0,327.2 204.3,327.6 203.5,327.9 202.8,328.3 202.0,328.7 201.3,329.0 200.5,329.4 199.8,329.8 199.0,330.1 198.3,330.5 197.5,330.9 196.8,331.2 196.0,331.6 195.3,331.9 194.5,332.3 193.8,332.7 193.0,333.0 192.3,333.4 191.5,333.8 190.8,334.1 190.0,334.5 189.3,334.9 188.6,335.2 187.8,335.6 187.1,336.0 186.3,336.3 185.6,336.7 184.8,337.1 184.1,337.4 183.3,337.8 182.6,338.2 181.9,338.5 181.1,338.9 180.4,339.3 179.6,339.6 178.9,340.0 178.1,340.4 177.4,340.7 176.7,341.1 175.9,341.5 175.2,341.8 174.4,342.2 173.7,342.6 173.0,342.9 172.2,343.3 171.5,343.7 170.7,344.1 170.0,344.4 169.3,344.8 168.5,345.2 167.8,345.5 167.0,345.9 166.3,346.3 165.6,346.7 164.8,347.0 164.1,347.4 163.4,347.8 162.6,348.2 161.9,348.5 161.1,348.9 160.4,349.3 159.7,349.7 158.9,350.1 158.2,350.4 157.5,350.8 156.7,351.2 156.0,351.6 155.3,351.9 154.5,352.3 153.8,352.7 153.1,353.1 152.3,353.5 151.6,353.9 150.9,354.2 150.1,354.6 149.4,355.0 148.7,355.4 147.9,355.8 147.2,356.2 146.5,356.6 145.8,357.0 145.0,357.3 144.3,357.7 143.6,358.1 142.8,358.5 142.1,358.9 141.4,359.3 140.7,359.7 139.9,360.1 139.2,360.5 138.5,360.9 137.7,361.3 137.0,361.7 136.3,362.1 135.6,362.5 134.8,362.9 134.1,363.3 133.4,363.7 132.7,364.1 131.9,364.5 131.2,364.9 130.5,365.3 129.8,365.7 129.0,366.1 128.3,366.6 127.6,367.0 126.9,367.4 126.1,367.8 125.4,368.2 124.7,368.6 124.0,369.0 123.2,369.5 122.5,369.9 121.8,370.3 121.1,370.7 120.4,371.1 119.6,371.6 118.9,372.0 118.2,372.4 117.5,372.8 116.7,373.3 116.0,373.7 115.3,374.1 114.6,374.6 113.9,375.0 113.1,375.4 112.4,375.9 111.7,376.3 111.0,376.7 110.3,377.2 109.6,377.6 108.8,378.0 108.1,378.5 107.4,378.9 106.7,379.4 106.0,379.8 105.2,380.3 104.5,380.7 103.8,381.2 103.1,381.6 102.4,382.1 101.7,382.5 100.9,383.0 100.2,383.5 99.5,383.9 98.8,384.4 98.1,384.8 97.4,385.3 96.7,385.8 95.9,386.2 95.2,386.7 94.5,387.2 93.8,387.6 93.1,388.1 92.4,388.6 91.7,389.1 91.0,389.5 90.2,390.0 89.5,390.5 88.8,391.0 88.1,391.5 87.4,391.9 86.7,392.4 86.0,392.9 85.3,393.4 84.5,393.9 83.8,394.4 83.1,394.9 82.4,395.4 81.7,395.9 81.0,396.4 80.3,396.9 79.6,397.4 78.9,397.9 78.2,398.4 77.4,398.9 76.7,399.4 76.0,399.9 75.3,400.3 74.6,400.8 73.9,401.2 73.1,401.5 72.4,401.8 71.7,402.1 70.9,402.3 70.2,402.5 69.4,402.6 68.6,402.6 67.8,402.6 67.1,402.4 66.3,402.2 65.7,402.0 65.1,401.6 64.6,401.2" fill="none" stroke="#0000ff" stroke-width="1.4" stroke-linejoin="round" />
<polyline points="66.9,408.5 66.6,408.1 66.3,407.7 66.1,407.2 66.0,406.6 65.9,405.9 65.8,405.1 65.8,404.3 65.8,403.5 65.9,402.6 66.0,401.6 66.1,400.6 66.3,399.6 66.4,398.6 66.7,397.6 66.9,396.5 67.2,395.5 67.5,394.5 67.8,393.5 68.1,392.5 68.4,391.6 68.8,390.7 69.1,389.8 69.5,388.9 69.9,388.1 70.3,387.4 70.7,386.6 71.1,385.9 71.6,385.1 72.0,384.4 72.5,383.8 72.9,383.1 73.4,382.4 73.9,381.8 74.3,381.1 74.8,380.5 75.3,379.9 75.8,379.2 76.3,378.6 76.8,378.0 77.3,377.3 77.8,376.7 78.3,376.0 78.8,375.4 79.3,374.8 79.9,374.1 80.4,373.5 80.9,372.8 81.4,372.2 82.0,371.6 82.5,370.9 83.1,370.3 83.6,369.7 84.2,369.0 84.7,368.4 85.3,367.8 85.8,367.1 86.4,366.5 87.0,365.9 87.5,365.2 88.1,364.6 88.7,364.0 89.3,363.3 89.8,362.7 90.4,362.1 91.0,361.5 91.6,360.9 92.2,360.2 92.8,359.6 93.4,359.0 94.0,358.4 94.6,357.8 95.2,357.2 95.8,356.6 96.4,356.0 97.0,355.4 97.6,354.8 98.2,354.2 98.9,353.6 99.5,353.0 100.1,352.4 100.7,351.8 101.3,351.3 102.0,350.7 102.6,350.1 103.2,349.5 103.9,349.0 104.5,348.4 105.2,347.8 105.8,347.3 106.4,346.7 107.1,346.2 107.7,345.6 108.4,345.1 109.0,344.5 109.7,344.0 110.3,343.5 111.0,342.9 111.6,342.4 112.3,341.9 113.0,341.4 113.6,340.8 114.3,340.3 115.0,339.8 115.6,339.3 116.3,338.8 117.0,338.3 117.7,337.8 118.3,337.3 119.0,336.8 119.7,336.3 120.4,335.8 121.1,335.3 121.7,334.8 122.4,334.3 123.1,333.8 123.8,333.4 124.5,332.9 125.2,332.4 125.9,332.0 126.6,331.5 127.3,331.0 128.0,330.6 128.7,330.1 129.4,329.7 130.1,329.2 130.8,328.8 131.5,328.3 132.2,327.9 133.0,327.4 133.7,327.0 134.4,326.5 135.1,326.1 135.8,325.7 136.6,325.3 137.3,324.8 138.0,324.4 138.7,324.0 139.5,323.6 140.2,323.2 140.9,322.7 141.7,322.3 142.4,321.9 143.1,321.5 143.9,321.1 144.6,320.7 145.3,320.3 146.1,319.9 146.8,319.5 147.6,319.1 148.3,318.8 149.1,318.4 149.8,318.0 150.6,317.6 151.3,317.2 152.1,316.9 152.8,316.5 153.6,316.1 154.4,315.8 155.1,315.4 155.9,315.0 156.7,314.7 157.4,314.3 158.2,314.0 159.0,313.6 159.7,313.3 160.5,312.9 161.3,312.6 162.0,312.2 162.8,311.9 163.6,311.5 164.4,311.2 165.2,310.9 165.9,310.5 166.7,310.2 167.5,309.9 168.3,309.6 169.1,309.2 169.9,308.9 170.7,308.6 171.4,308.3 172.2,308.0 173.0,307.7 173.8,307.4 174.6,307.1 175.4,306.7 176.2,306.4 177.0,306.1 177.8,305.8 178.6,305.6 179.4,305.3 180.2,305.0 181.0,304.7 181.8,304.4 182.6,304.1 183.5,303.8 184.3,303.5 185.1,303.3 185.9,303.0 186.7,302.7 187.5,302.4 188.3,302.2 189.2,301.9 190.0,301.6 190.8,301.4 191.6,301.1 192.4,300.8 193.3,300.6 194.1,300.3 194.9,300.1 195.7,299.8 196.6,299.6 197.4,299.3 198.2,299.1 199.1,298.8 199.9,298.6 200.7,298.3 201.6,298.1 202.4,297.9 203.2,297.6 204.1,297.4 204.9,297.2 205.7,296.9 206.6,296.7 207.4,296.5 208.3,296.3 209.1,296.0 209.9,295.8 210.8,295.6 211.6,295.4 212.5,295.2 213.3,295.0 214.2,294.7 215.0,294.5 215.8,294.3 216.7,294.1 217.5,293.9 218.4,293.7 219.2,293.5 220.0,293.3 220.9,293.1 221.7,292.9 222.5,292.7 223.4,292.6 224.2,292.4 225.0,292.2 225.9,292.0 226.7,291.8 227.5,291.6 228.4,291.5 229.2,291.3 230.0,291.1 230.8,290.9 231.6,290.8 232.5,290.6 233.3,290.4 234.1,290.3 234.9,290.1 235.7,290.0 236.5,289.8 237.3,289.7 238.1,289.5 238.9,289.4 239.7,289.2 240.5,289.1 241.3,288.9 242.1,288.8 242.9,288.6 243.7,288.5 244.5,288.4 245.3,288.2 246.0,288.1 246.8,288.0 247.6,287.9 248.4,287.7 249.1,287.6 249.9,287.5 250.6,287.4 251.4,287.3 252.1,287.1 252.9,287.0 253.6,286.9 254.4,286.8 255.1,286.7 255.9,286.6 256.6,286.5 257.3,286.4 258.1,286.3 258.8,286.2 259.6,286.1 260.3,286.0 261.0,285.9 261.8,285.8 262.5,285.8 263.3,285.7 264.0,285.6 264.8,285.5 265.5,285.4 266.3,285.3 267.0,285.3 267.8,285.2 268.6,285.1 269.3,285.0 270.1,285.0 270.9,284.9 271.7,284.8 272.5,284.8 273.3,284.7 274.1,284.6 274.9,284.6 275.7,284.5 276.5,284.4 277.4,284.4 278.2,284.3 279.0,284.2 279.9,284.2 280.8,284.1 281.6,284.0 282.5,284.0 283.4,283.9 284.3,283.9 285.2,283.8 286.2,283.8 287.1,283.7 288.1,283.6 289.0,283.6 290.0,283.5 291.0,283.5 292.0,283.4 293.0,283.4 294.0,283.3 295.0,283.3 296.1,283.2 297.1,283.1 298.2,283.1 299.3,283.0 300.4,283.0 301.6,282.9 302.7,282.9 303.8,282.8 305.0,282.8 306.1,282.8 307.2,282.7 308.3,282.7 309.4,282.7 310.5,282.7 311.5,282.8 312.6,282.8 313.6,282.9 314.5,282.9 315.4,283.1 316.3,283.2 317.1,283.3 317.9,283.5 318.6,283.7 319.3,284.0 319.8,284.2 320.3,284.5 320.7,284.8 320.9,285.2 320.9,285.5 320.8,285.9 320.5,286.3 320.0,286.7 319.4,287.2 318.7,287.6 317.9,287.9 317.1,288.3 316.3,288.7 315.4,289.0 314.6,289.2 313.8,289.5 312.9,289.7 312.1,289.9 311.2,290.1 310.4,290.3 309.5,290.4 308.6,290.6 307.8,290.7 306.9,290.8 306.1,290.9 305.2,291.0 304.3,291.1 303.5,291.1 302.6,291.2 301.7,291.3 300.9,291.4 300.0,291.5 299.2,291.5 298.3,291.6 297.4,291.7 296.6,291.8 295.7,291.9 294.9,292.0 294.0,292.1 293.2,292.3 292.3,292.4 291.5,292.5 290.6,292.6 289.8,292.8 288.9,292.9 288.1,293.0 287.2,293.2 286.4,293.3 285.5,293.5 284.7,293.6 283.9,293.8 283.0,294.0 282.2,294.1 281.3,294.3 280.5,294.5 279.7,294.6 278.8,294.8 278.0,295.0 277.2,295.2 276.3,295.4 275.5,295.6 274.7,295.8 273.9,296.0 273.0,296.2 272.2,296.4 271.4,296.6 270.5,296.8 269.7,297.1 268.9,297.3 268.1,297.5 267.3,297.7 266.4,298.0 265.6,298.2 264.8,298.5 264.0,298.7 263.2,299.0 262.4,299.2 261.5,299.5 260.7,299.7 259.9,300.0 259.1,300.2 258.3,300.5 257.5,300.8 256.7,301.0 255.9,301.3 255.1,301.6 254.3,301.9 253.5,302.1 252.7,302.4 251.9,302.7 251.1,303.0 250.3,303.3 249.5,303.6 248.7,303.9 247.9,304.2 247.1,304.5 246.3,304.8 245.5,305.1 244.7,305.4 243.9,305.8 243.1,306.1 242.3,306.4 241.5,306.7 240.7,307.0 240.0,307.4 239.2,307.7 238.4,308.0 237.6,308.4 236.8,308.7 236.0,309.0 235.3,309.4 234.5,309.7 233.7,310.1 232.9,310.4 232.1,310.8 231.4,311.1 230.6,311.5 229.8,311.8 229.0,312.2 228.3,312.5 227.5,312.9 226.7,313.2 225.9,313.6 225.2,314.0 224.4,314.3 223.6,314.7 222.9,315.1 222.1,315.5 221.3,315.8 220.6,316.2 219.8,316.6 219.0,317.0 218.3,317.4 217.5,317.7 216.7,318.1 216.0,318.5 215.2,318.9 214.5,319.3 213.7,319.7 212.9,320.1 212.2,320.5 211.4,320.9 210.7,321.2 209.9,321.6 209.2,322.0 208.4,322.4 207.7,322.8 206.9,323.2 206.1,323.6 205.4,324.1 204.7,324.5 203.9,324.9 203.2,325.3 202.4,325.7 201.7,326.1 200.9,326.5 200.2,326.9 199.4,327.3 198.7,327.7 197.9,328.2 197.2,328.6 196.5,329.0 195.7,329.4 195.0,329.8 194.2,330.2 193.5,330.6 192.8,331.1 192.0,331.5 191.3,331.9 190.5,332.3 189.8,332.8 189.1,333.2 188.3,333.6 187.6,334.0 186.9,334.4 186.1,334.9 185.4,335.3 184.7,335.7 184.0,336.1 183.2,336.6 182.5,337.0 181.8,337.4 181.0,337.8 180.3,338.3 179.6,338.7 178.9,339.1 178.1,339.5 177.4,340.0 176.7,340.4 176.0,340.8 175.3,341.2 174.5,341.7 173.8,342.1 173.1,342.5 172.4,342.9 171.7,343.4 170.9,343.8 170.2,344.2 169.5,344.6 168.8,345.1 168.1,345.5 167.4,345.9 166.6,346.3 165.9,346.8 165.2,347.2 164.5,347.6 163.8,348.0 163.1,348.5 162.4,348.9 161.7,349.3 160.9,349.7 160.2,350.1 159.5,350.6 158.8,351.0 158.1,351.4 157.4,351.8 156.7,352.2 156.0,352.6 155.3,353.1 154.6,353.5 153.9,353.9 153.2,354.3 152.5,354.7 151.8,355.1 151.1,355.5 150.4,355.9 149.7,356.4 149.0,356.8 148.3,357.2 147.6,357.6 146.9,358.0 146.1,358.4 145.4,358.8 144.7,359.2 144.0,359.7 143.3,360.1 142.6,360.5 141.9,360.9 141.2,361.3 140.5,361.7 139.8,362.1 139.1,362.5 138.4,363.0 137.7,363.4 137.0,363.8 136.3,364.2 135.6,364.6 134.9,365.0 134.2,365.5 133.5,365.9 132.8,366.3 132.1,366.7 131.4,367.1 130.7,367.6 130.0,368.0 129.3,368.4 128.6,368.8 127.9,369.3 127.2,369.7 126.5,370.1 125.8,370.5 125.1,371.0 124.4,371.4 123.7,371.8 123.0,372.3 122.3,372.7 121.6,373.1 120.9,373.6 120.2,374.0 119.5,374.5 118.7,374.9 118.0,375.3 117.3,375.8 116.6,376.2 115.9,376.7 115.2,377.1 114.5,377.6 113.8,378.0 113.0,378.5 112.3,379.0 111.6,379.4 110.9,379.9 110.2,380.3 109.5,380.8 108.7,381.3 108.0,381.8 107.3,382.2 106.6,382.7 105.9,383.2 105.1,383.7 104.4,384.1 103.7,384.6 103.0,385.1 102.2,385.6 101.5,386.1 100.8,386.6 100.0,387.1 99.3,387.6 98.6,388.1 97.8,388.6 97.1,389.1 96.4,389.6 95.6,390.1 94.9,390.6 94.1,391.1 93.4,391.7 92.7,392.2 91.9,392.7 91.2,393.2 90.4,393.8 89.7,394.3 88.9,394.8 88.2,395.4 87.4,395.9 86.7,396.5 85.9,397.0 85.1,397.6 84.4,398.1 83.6,398.7 82.9,399.3 82.1,399.8 81.3,400.4 80.6,401.0 79.8,401.6 79.0,402.1 78.3,402.7 77.5,403.3 76.7,403.9 75.9,404.5 75.2,405.1 74.4,405.6 73.7,406.2 72.9,406.7 72.2,407.1 71.5,407.6 70.9,407.9 70.2,408.3 69.6,408.5 69.1,408.7 68.5,408.8 68.1,408.9 67.6,408.8 67.2,408.7 66.9,408.5" fill="none" stroke="#008000" stroke-width="1.4" stroke-linejoin="round" />
<polyline points="66.5,411.5 66.1,411.0 65.7,410.5 65.5,409.8 65.3,409.1 65.2,408.3 65.1,407.4 65.1,406.5 65.2,405.6 65.2,404.6 65.4,403.6 65.5,402.7 65.7,401.7 65.9,400.7 66.2,399.8 66.4,398.8 66.7,397.9 67.0,397.0 67.3,396.1 67.7,395.2 68.0,394.3 68.4,393.5 68.8,392.6 69.2,391.8 69.6,391.0 70.0,390.2 70.4,389.4 70.9,388.7 71.3,387.9 71.8,387.2 72.3,386.5 72.8,385.8 73.3,385.1 73.8,384.4 74.3,383.8 74.8,383.1 75.3,382.4 75.8,381.8 76.3,381.1 76.8,380.5 77.4,379.8 77.9,379.1 78.4,378.5 79.0,377.8 79.5,377.2 80.0,376.5 80.6,375.9 81.1,375.2 81.6,374.6 82.2,373.9 82.7,373.3 83.2,372.6 83.8,372.0 84.3,371.3 84.9,370.7 85.4,370.0 86.0,369.4 86.5,368.7 87.1,368.1 87.6,367.5 88.2,366.8 88.8,366.2 89.3,365.5 89.9,364.9 90.4,364.3 91.0,363.6 91.6,363.0 92.1,362.3 92.7,361.7 93.3,361.1 93.9,360.5 94.4,359.8 95.0,359.2 95.6,358.6 96.2,357.9 96.8,357.3 97.4,356.7 97.9,356.1 98.5,355.5 99.1,354.8 99.7,354.2 100.3,353.6 100.9,353.0 101.5,352.4 102.1,351.8 102.7,351.2 103.3,350.6 104.0,350.0 104.6,349.4 105.2,348.8 105.8,348.2 106.4,347.6 107.0,347.0 107.7,346.4 108.3,345.8 108.9,345.3 109.6,344.7 110.2,344.1 110.8,343.5 111.5,342.9 112.1,342.4 112.7,341.8 113.4,341.2 114.0,340.7 114.7,340.1 115.3,339.6 116.0,339.0 116.7,338.5 117.3,337.9 118.0,337.4 118.7,336.8 119.3,336.3 120.0,335.8 120.7,335.2 121.3,334.7 122.0,334.2 122.7,333.7 123.4,333.1 124.1,332.6 124.8,332.1 125.5,331.6 126.2,331.1 126.9,330.6 127.6,330.1 128.3,329.6 129.0,329.1 129.7,328.6 130.4,328.1 131.1,327.6 131.8,327.1 132.5,326.7 133.2,326.2 134.0,325.7 134.7,325.2 135.4,324.8 136.1,324.3 136.9,323.8 137.6,323.4 138.3,322.9 139.1,322.5 139.8,322.0 140.5,321.6 141.3,321.1 142.0,320.7 142.8,320.2 143.5,319.8 144.3,319.4 145.0,318.9 145.8,318.5 146.5,318.1 147.3,317.7 148.0,317.3 148.8,316.8 149.6,316.4 150.3,316.0 151.1,315.6 151.9,315.2 152.6,314.8 153.4,314.4 154.2,314.0 155.0,313.6 155.7,313.2 156.5,312.8 157.3,312.4 158.1,312.1 158.8,311.7 159.6,311.3 160.4,310.9 161.2,310.6 162.0,310.2 162.8,309.8 163.6,309.5 164.3,309.1 165.1,308.7 165.9,308.4 166.7,308.0 167.5,307.7 168.3,307.3 169.1,307.0 169.9,306.6 170.7,306.3 171.5,306.0 172.3,305.6 173.1,305.3 173.9,305.0 174.7,304.6 175.5,304.3 176.3,304.0 177.1,303.7 177.9,303.3 178.7,303.0 179.6,302.7 180.4,302.4 181.2,302.1 182.0,301.8 182.8,301.5 183.6,301.2 184.4,300.9 185.2,300.6 186.1,300.3 186.9,300.0 187.7,299.7 188.5,299.4 189.3,299.2 190.1,298.9 191.0,298.6 191.8,298.3 192.6,298.1 193.4,297.8 194.2,297.5 195.1,297.2 195.9,297.0 196.7,296.7 197.5,296.5 198.3,296.2 199.2,296.0 200.0,295.7 200.8,295.4 201.6,295.2 202.5,295.0 203.3,294.7 204.1,294.5 204.9,294.2 205.7,294.0 206.6,293.8 207.4,293.5 208.2,293.3 209.0,293.1 209.9,292.8 210.7,292.6 211.5,292.4 212.3,292.2 213.2,292.0 214.0,291.8 214.8,291.5 215.6,291.3 216.4,291.1 217.3,290.9 218.1,290.7 218.9,290.5 219.7,290.3 220.5,290.1 221.4,289.9 222.2,289.7 223.0,289.5 223.8,289.4 224.6,289.2 225.5,289.0 226.3,288.8 227.1,288.6 227.9,288.4 228.7,288.3 229.5,288.1 230.3,287.9 231.2,287.8 232.0,287.6 232.8,287.4 233.6,287.3 234.4,287.1 235.2,286.9 236.0,286.8 236.8,286.6 237.6,286.5 238.4,286.3 239.2,286.2 240.1,286.0 240.9,285.9 241.7,285.7 242.5,285.6 243.3,285.4 244.1,285.3 244.9,285.2 245.7,285.0 246.4,284.9 247.2,284.8 248.0,284.6 248.8,284.5 249.6,284.4 250.4,284.3 251.2,284.1 252.0,284.0 252.8,283.9 253.6,283.8 254.3,283.7 255.1,283.6 255.9,283.4 256.7,283.3 257.5,283.2 258.3,283.1 259.1,283.0 259.9,282.9 260.7,282.8 261.4,282.7 262.2,282.6 263.0,282.5 263.8,282.4 264.6,282.3 265.4,282.3 266.2,282.2 267.0,282.1 267.9,282.0 268.7,281.9 269.5,281.8 270.3,281.8 271.1,281.7 272.0,281.6 272.8,281.5 273.6,281.5 274.5,281.4 275.3,281.3 276.2,281.3 277.0,281.2 277.9,281.1 278.7,281.1 279.6,281.0 280.5,280.9 281.4,280.9 282.3,280.8 283.2,280.8 284.1,280.7 285.0,280.7 285.9,280.6 286.8,280.6 287.7,280.6 288.7,280.5 289.6,280.5 290.6,280.4 291.5,280.4 292.5,280.4 293.5,280.3 294.4,280.3 295.4,280.3 296.4,280.2 297.4,280.2 298.5,280.2 299.5,280.2 300.5,280.2 301.6,280.1 302.6,280.1 303.7,280.1 304.8,280.1 305.9,280.1 307.0,280.1 308.1,280.1 309.2,280.0 310.3,280.0 311.5,280.0 312.6,280.0 313.8,280.0 314.9,280.1 316.0,280.1 317.1,280.1 318.1,280.2 319.0,280.3 319.8,280.4 320.4,280.6 320.9,280.8 321.2,281.1 321.4,281.4 321.4,281.8 321.3,282.2 321.0,282.6 320.7,283.0 320.2,283.5 319.7,283.9 319.1,284.4 318.4,284.8 317.7,285.2 317.0,285.6 316.3,285.9 315.5,286.3 314.7,286.5 313.9,286.8 313.1,287.0 312.3,287.3 311.4,287.5 310.6,287.6 309.7,287.8 308.8,287.9 307.9,288.1 307.0,288.2 306.1,288.3 305.2,288.4 304.3,288.5 303.4,288.6 302.5,288.7 301.6,288.8 300.7,288.9 299.8,289.0 298.9,289.1 298.0,289.2 297.1,289.3 296.2,289.4 295.3,289.5 294.4,289.7 293.5,289.8 292.6,289.9 291.7,290.1 290.8,290.2 289.9,290.3 289.1,290.5 288.2,290.6 287.3,290.8 286.4,291.0 285.5,291.1 284.7,291.3 283.8,291.5 282.9,291.6 282.1,291.8 281.2,292.0 280.3,292.2 279.5,292.4 278.6,292.5 277.7,292.7 276.9,292.9 276.0,293.1 275.2,293.3 274.3,293.5 273.4,293.8 272.6,294.0 271.7,294.2 270.9,294.4 270.0,294.6 269.2,294.9 268.4,295.1 267.5,295.3 266.7,295.6 265.8,295.8 265.0,296.1 264.2,296.3 263.3,296.5 262.5,296.8 261.7,297.1 260.8,297.3 260.0,297.6 259.2,297.8 258.4,298.1 257.5,298.4 256.7,298.7 255.9,298.9 255.1,299.2 254.3,299.5 253.4,299.8 252.6,300.1 251.8,300.4 251.0,300.7 250.2,300.9 249.4,301.2 248.6,301.6 247.8,301.9 247.0,302.2 246.2,302.5 245.4,302.8 244.6,303.1 243.8,303.4 243.0,303.7 242.2,304.1 241.4,304.4 240.6,304.7 239.8,305.0 239.0,305.4 238.2,305.7 237.4,306.0 236.6,306.4 235.8,306.7 235.0,307.1 234.3,307.4 233.5,307.8 232.7,308.1 231.9,308.5 231.1,308.8 230.4,309.2 229.6,309.5 228.8,309.9 228.0,310.3 227.2,310.6 226.5,311.0 225.7,311.4 224.9,311.7 224.2,312.1 223.4,312.5 222.6,312.9 221.9,313.2 221.1,313.6 220.3,314.0 219.6,314.4 218.8,314.8 218.0,315.2 217.3,315.5 216.5,315.9 215.8,316.3 215.0,316.7 214.3,317.1 213.5,317.5 212.7,317.9 212.0,318.3 211.2,318.7 210.5,319.1 209.7,319.5 209.0,319.9 208.2,320.3 207.5,320.8 206.7,321.2 206.0,321.6 205.2,322.0 204.5,322.4 203.8,322.8 203.0,323.2 202.3,323.7 201.5,324.1 200.8,324.5 200.1,324.9 199.3,325.4 198.6,325.8 197.8,326.2 197.1,326.6 196.4,327.1 195.6,327.5 194.9,327.9 194.2,328.4 193.4,328.8 192.7,329.2 192.0,329.7 191.2,330.1 190.5,330.5 189.8,331.0 189.0,331.4 188.3,331.8 187.6,332.3 186.9,332.7 186.1,333.2 185.4,333.6 184.7,334.1 184.0,334.5 183.2,334.9 182.5,335.4 181.8,335.8 181.1,336.3 180.3,336.7 179.6,337.2 178.9,337.6 178.2,338.1 177.5,338.5 176.7,339.0 176.0,339.4 175.3,339.9 174.6,340.3 173.9,340.8 173.1,341.2 172.4,341.7 171.7,342.1 171.0,342.6 170.3,343.0 169.6,343.5 168.8,343.9 168.1,344.4 167.4,344.8 166.7,345.3 166.0,345.7 165.3,346.2 164.6,346.7 163.9,347.1 163.1,347.6 162.4,348.0 161.7,348.5 161.0,348.9 160.3,349.4 159.6,349.8 158.9,350.3 158.2,350.7 157.5,351.2 156.7,351.6 156.0,352.1 155.3,352.5 154.6,353.0 153.9,353.5 153.2,353.9 152.5,354.4 151.8,354.8 151.1,355.3 150.4,355.7 149.7,356.2 149.0,356.6 148.2,357.1 147.5,357.5 146.8,358.0 146.1,358.4 145.4,358.9 144.7,359.4 144.0,359.8 143.3,360.3 142.6,360.7 141.9,361.2 141.2,361.6 140.5,362.1 139.8,362.5 139.1,363.0 138.4,363.5 137.7,363.9 137.0,364.4 136.2,364.8 135.5,365.3 134.8,365.8 134.1,366.2 133.4,366.7 132.7,367.2 132.0,367.6 131.3,368.1 130.6,368.6 129.9,369.0 129.2,369.5 128.5,370.0 127.8,370.4 127.1,370.9 126.4,371.4 125.7,371.9 125.0,372.3 124.3,372.8 123.6,373.3 122.8,373.8 122.1,374.2 121.4,374.7 120.7,375.2 120.0,375.7 119.3,376.2 118.6,376.6 117.9,377.1 117.2,377.6 116.5,378.1 115.8,378.6 115.1,379.1 114.4,379.6 113.7,380.1 113.0,380.6 112.3,381.1 111.5,381.6 110.8,382.1 110.1,382.6 109.4,383.1 108.7,383.6 108.0,384.1 107.3,384.6 106.6,385.1 105.9,385.6 105.2,386.1 104.5,386.6 103.8,387.1 103.0,387.7 102.3,388.2 101.6,388.7 100.9,389.2 100.2,389.7 99.5,390.3 98.8,390.8 98.1,391.3 97.4,391.9 96.7,392.4 95.9,392.9 95.2,393.5 94.5,394.0 93.8,394.5 93.1,395.1 92.4,395.6 91.7,396.2 90.9,396.7 90.2,397.3 89.5,397.8 88.8,398.4 88.1,399.0 87.4,399.5 86.7,400.1 85.9,400.6 85.2,401.2 84.5,401.8 83.8,402.4 83.1,402.9 82.3,403.5 81.6,404.1 80.9,404.7 80.2,405.3 79.5,405.8 78.7,406.4 78.0,407.0 77.3,407.6 76.6,408.2 75.9,408.8 75.1,409.3 74.4,409.8 73.7,410.3 73.0,410.8 72.3,411.2 71.6,411.5 70.9,411.8 70.3,412.0 69.6,412.2 68.9,412.2 68.3,412.2 67.6,412.1 67.1,411.8 66.5,411.5" fill="none" stroke="#ff0000" stroke-width="1.4" stroke-linejoin="round" />
<polyline points="66.6,412.0 66.2,411.6 65.9,411.0 65.6,410.4 65.5,409.7 65.4,408.9 65.3,408.1 65.4,407.2 65.4,406.2 65.5,405.3 65.7,404.3 65.9,403.3 66.1,402.3 66.3,401.3 66.5,400.3 66.8,399.4 67.0,398.4 67.3,397.5 67.6,396.6 67.9,395.7 68.2,394.8 68.6,393.9 69.0,393.0 69.3,392.2 69.7,391.4 70.1,390.6 70.5,389.8 71.0,389.0 71.4,388.2 71.8,387.5 72.3,386.8 72.8,386.0 73.2,385.3 73.7,384.6 74.2,383.9 74.7,383.2 75.2,382.6 75.7,381.9 76.2,381.2 76.7,380.5 77.2,379.9 77.8,379.2 78.3,378.5 78.8,377.8 79.3,377.2 79.8,376.5 80.3,375.8 80.9,375.2 81.4,374.5 81.9,373.8 82.5,373.2 83.0,372.5 83.5,371.8 84.1,371.2 84.6,370.5 85.1,369.8 85.7,369.2 86.2,368.5 86.8,367.9 87.3,367.2 87.8,366.5 88.4,365.9 88.9,365.2 89.5,364.6 90.1,363.9 90.6,363.3 91.2,362.6 91.7,362.0 92.3,361.3 92.9,360.7 93.4,360.0 94.0,359.4 94.6,358.8 95.1,358.1 95.7,357.5 96.3,356.8 96.9,356.2 97.5,355.6 98.1,355.0 98.6,354.3 99.2,353.7 99.8,353.1 100.4,352.5 101.0,351.8 101.6,351.2 102.2,350.6 102.8,350.0 103.4,349.4 104.0,348.8 104.6,348.2 105.3,347.6 105.9,347.0 106.5,346.4 107.1,345.8 107.7,345.2 108.4,344.6 109.0,344.0 109.6,343.4 110.3,342.8 110.9,342.2 111.5,341.6 112.2,341.1 112.8,340.5 113.5,339.9 114.1,339.4 114.8,338.8 115.4,338.2 116.1,337.7 116.7,337.1 117.4,336.6 118.1,336.0 118.7,335.5 119.4,334.9 120.1,334.4 120.8,333.9 121.4,333.3 122.1,332.8 122.8,332.3 123.5,331.7 124.2,331.2 124.9,330.7 125.6,330.2 126.3,329.7 127.0,329.2 127.7,328.7 128.4,328.2 129.1,327.7 129.8,327.2 130.5,326.7 131.3,326.2 132.0,325.7 132.7,325.2 133.4,324.8 134.1,324.3 134.9,323.8 135.6,323.3 136.3,322.9 137.1,322.4 137.8,321.9 138.6,321.5 139.3,321.0 140.0,320.6 140.8,320.1 141.5,319.7 142.3,319.2 143.0,318.8 143.8,318.4 144.5,317.9 145.3,317.5 146.1,317.1 146.8,316.6 147.6,316.2 148.4,315.8 149.1,315.4 149.9,315.0 150.7,314.5 151.4,314.1 152.2,313.7 153.0,313.3 153.8,312.9 154.5,312.5 155.3,312.1 156.1,311.7 156.9,311.4 157.7,311.0 158.5,310.6 159.2,310.2 160.0,309.8 160.8,309.4 161.6,309.1 162.4,308.7 163.2,308.3 164.0,308.0 164.8,307.6 165.6,307.2 166.4,306.9 167.2,306.5 168.0,306.2 168.8,305.8 169.6,305.5 170.4,305.1 171.2,304.8 172.0,304.5 172.8,304.1 173.7,303.8 174.5,303.5 175.3,303.1 176.1,302.8 176.9,302.5 177.7,302.2 178.5,301.8 179.3,301.5 180.2,301.2 181.0,300.9 181.8,300.6 182.6,300.3 183.4,300.0 184.3,299.7 185.1,299.4 185.9,299.1 186.7,298.8 187.5,298.5 188.4,298.2 189.2,297.9 190.0,297.6 190.8,297.3 191.7,297.0 192.5,296.8 193.3,296.5 194.1,296.2 195.0,295.9 195.8,295.7 196.6,295.4 197.4,295.1 198.3,294.9 199.1,294.6 199.9,294.4 200.8,294.1 201.6,293.8 202.4,293.6 203.2,293.3 204.1,293.1 204.9,292.8 205.7,292.6 206.5,292.4 207.4,292.1 208.2,291.9 209.0,291.6 209.8,291.4 210.7,291.2 211.5,291.0 212.3,290.7 213.2,290.5 214.0,290.3 214.8,290.1 215.6,289.8 216.5,289.6 217.3,289.4 218.1,289.2 218.9,289.0 219.7,288.8 220.6,288.6 221.4,288.4 222.2,288.2 223.0,287.9 223.8,287.7 224.7,287.6 225.5,287.4 226.3,287.2 227.1,287.0 227.9,286.8 228.7,286.6 229.6,286.4 230.4,286.2 231.2,286.0 232.0,285.9 232.8,285.7 233.6,285.5 234.4,285.3 235.2,285.1 236.0,285.0 236.8,284.8 237.6,284.6 238.5,284.5 239.3,284.3 240.1,284.1 240.9,284.0 241.7,283.8 242.4,283.7 243.2,283.5 244.0,283.3 244.8,283.2 245.6,283.0 246.4,282.9 247.2,282.7 248.0,282.6 248.8,282.4 249.6,282.3 250.3,282.1 251.1,282.0 251.9,281.9 252.7,281.7 253.5,281.6 254.2,281.5 255.0,281.3 255.8,281.2 256.6,281.1 257.4,280.9 258.1,280.8 258.9,280.7 259.7,280.6 260.5,280.4 261.3,280.3 262.1,280.2 262.9,280.1 263.7,280.0 264.4,279.9 265.2,279.8 266.0,279.7 266.8,279.6 267.7,279.5 268.5,279.4 269.3,279.3 270.1,279.2 270.9,279.1 271.7,279.0 272.6,278.9 273.4,278.8 274.2,278.8 275.1,278.7 275.9,278.6 276.8,278.5 277.7,278.5 278.5,278.4 279.4,278.3 280.3,278.3 281.2,278.2 282.1,278.2 283.0,278.1 283.9,278.1 284.8,278.0 285.7,278.0 286.7,278.0 287.6,277.9 288.5,277.9 289.5,277.9 290.5,277.8 291.4,277.8 292.4,277.8 293.4,277.8 294.4,277.8 295.4,277.8 296.5,277.8 297.5,277.8 298.5,277.8 299.6,277.8 300.7,277.8 301.7,277.8 302.8,277.8 303.9,277.8 305.0,277.8 306.2,277.9 307.3,277.9 308.5,277.9 309.6,278.0 310.8,278.0 312.0,278.1 313.2,278.1 314.4,278.2 315.6,278.3 316.7,278.3 317.8,278.4 318.8,278.6 319.7,278.7 320.5,278.9 321.1,279.1 321.6,279.4 321.9,279.6 322.1,280.0 322.1,280.3 322.0,280.7 321.7,281.1 321.4,281.5 321.0,281.9 320.4,282.3 319.9,282.7 319.2,283.1 318.5,283.4 317.8,283.8 317.0,284.1 316.2,284.4 315.4,284.7 314.6,285.0 313.8,285.2 313.0,285.4 312.1,285.6 311.3,285.8 310.4,285.9 309.5,286.1 308.6,286.2 307.7,286.3 306.8,286.4 305.9,286.5 305.0,286.6 304.1,286.7 303.2,286.8 302.3,286.9 301.4,287.0 300.5,287.1 299.6,287.2 298.7,287.3 297.7,287.4 296.8,287.5 295.9,287.7 295.0,287.8 294.1,287.9 293.2,288.0 292.3,288.2 291.5,288.3 290.6,288.4 289.7,288.6 288.8,288.7 287.9,288.9 287.0,289.0 286.1,289.2 285.2,289.3 284.4,289.5 283.5,289.7 282.6,289.8 281.7,290.0 280.9,290.2 280.0,290.4 279.1,290.5 278.3,290.7 277.4,290.9 276.5,291.1 275.7,291.3 274.8,291.5 273.9,291.7 273.1,291.9 272.2,292.1 271.4,292.4 270.5,292.6 269.7,292.8 268.8,293.0 268.0,293.3 267.1,293.5 266.3,293.7 265.4,294.0 264.6,294.2 263.7,294.4 262.9,294.7 262.0,294.9 261.2,295.2 260.4,295.4 259.5,295.7 258.7,296.0 257.9,296.2 257.0,296.5 256.2,296.8 255.4,297.0 254.6,297.3 253.7,297.6 252.9,297.9 252.1,298.2 251.3,298.5 250.4,298.7 249.6,299.0 248.8,299.3 248.0,299.6 247.2,299.9 246.4,300.2 245.6,300.5 244.7,300.9 243.9,301.2 243.1,301.5 242.3,301.8 241.5,302.1 240.7,302.4 239.9,302.8 239.1,303.1 238.3,303.4 237.5,303.8 236.7,304.1 235.9,304.4 235.1,304.8 234.3,305.1 233.6,305.5 232.8,305.8 232.0,306.1 231.2,306.5 230.4,306.9 229.6,307.2 228.8,307.6 228.0,307.9 227.3,308.3 226.5,308.7 225.7,309.0 224.9,309.4 224.1,309.8 223.4,310.1 222.6,310.5 221.8,310.9 221.1,311.3 220.3,311.6 219.5,312.0 218.7,312.4 218.0,312.8 217.2,313.2 216.4,313.6 215.7,314.0 214.9,314.4 214.1,314.8 213.4,315.2 212.6,315.6 211.9,316.0 211.1,316.4 210.4,316.8 209.6,317.2 208.8,317.6 208.1,318.0 207.3,318.4 206.6,318.8 205.8,319.3 205.1,319.7 204.3,320.1 203.6,320.5 202.8,320.9 202.1,321.4 201.3,321.8 200.6,322.2 199.9,322.6 199.1,323.1 198.4,323.5 197.6,323.9 196.9,324.4 196.2,324.8 195.4,325.2 194.7,325.7 193.9,326.1 193.2,326.6 192.5,327.0 191.7,327.4 191.0,327.9 190.3,328.3 189.5,328.8 188.8,329.2 188.1,329.7 187.4,330.1 186.6,330.6 185.9,331.0 185.2,331.5 184.5,331.9 183.7,332.4 183.0,332.8 182.3,333.3 181.6,333.8 180.8,334.2 180.1,334.7 179.4,335.1 178.7,335.6 178.0,336.1 177.2,336.5 176.5,337.0 175.8,337.5 175.1,337.9 174.4,338.4 173.7,338.9 173.0,339.3 172.2,339.8 171.5,340.3 170.8,340.7 170.1,341.2 169.4,341.7 168.7,342.2 168.0,342.6 167.3,343.1 166.6,343.6 165.9,344.1 165.2,344.5 164.5,345.0 163.8,345.5 163.0,346.0 162.3,346.4 161.6,346.9 160.9,347.4 160.2,347.9 159.5,348.3 158.8,348.8 158.1,349.3 157.4,349.8 156.7,350.3 156.0,350.7 155.3,351.2 154.6,351.7 154.0,352.2 153.3,352.7 152.6,353.2 151.9,353.6 151.2,354.1 150.5,354.6 149.8,355.1 149.1,355.6 148.4,356.1 147.7,356.5 147.0,357.0 146.3,357.5 145.6,358.0 144.9,358.5 144.2,359.0 143.5,359.5 142.8,360.0 142.2,360.4 141.5,360.9 140.8,361.4 140.1,361.9 139.4,362.4 138.7,362.9 138.0,363.4 137.3,363.9 136.6,364.4 135.9,364.9 135.2,365.4 134.5,365.9 133.9,366.4 133.2,366.8 132.5,367.3 131.8,367.8 131.1,368.3 130.4,368.8 129.7,369.3 129.0,369.8 128.3,370.3 127.6,370.8 126.9,371.3 126.2,371.8 125.5,372.4 124.9,372.9 124.2,373.4 123.5,373.9 122.8,374.4 122.1,374.9 121.4,375.4 120.7,375.9 120.0,376.4 119.3,376.9 118.6,377.4 117.9,377.9 117.2,378.5 116.5,379.0 115.8,379.5 115.1,380.0 114.4,380.5 113.7,381.0 113.0,381.5 112.3,382.1 111.6,382.6 110.9,383.1 110.2,383.6 109.5,384.1 108.8,384.7 108.1,385.2 107.4,385.7 106.7,386.2 106.0,386.8 105.2,387.3 104.5,387.8 103.8,388.4 103.1,388.9 102.4,389.4 101.7,389.9 101.0,390.5 100.3,391.0 99.6,391.6 98.8,392.1 98.1,392.6 97.4,393.2 96.7,393.7 96.0,394.2 95.2,394.8 94.5,395.3 93.8,395.9 93.1,396.4 92.3,397.0 91.6,397.5 90.9,398.0 90.2,398.6 89.4,399.1 88.7,399.7 88.0,400.2 87.2,400.8 86.5,401.4 85.8,401.9 85.0,402.5 84.3,403.0 83.6,403.6 82.8,404.1 82.1,404.7 81.3,405.3 80.6,405.8 79.8,406.4 79.1,407.0 78.3,407.5 77.6,408.1 76.8,408.7 76.1,409.2 75.3,409.7 74.6,410.2 73.9,410.7 73.1,411.1 72.4,411.5 71.7,411.9 71.0,412.2 70.3,412.4 69.6,412.5 69.0,412.6 68.3,412.6 67.7,412.5 67.1,412.3 66.6,412.0" fill="none" stroke="#00bfbf" stroke-width="1.4" stroke-linejoin="round" />
<polyline points="66.8,416.4 66.4,416.0 66.1,415.5 65.8,414.9 65.6,414.2 65.5,413.4 65.5,412.6 65.5,411.7 65.5,410.8 65.6,409.8 65.7,408.8 65.8,407.8 66.0,406.8 66.1,405.8 66.3,404.8 66.5,403.8 66.7,402.8 66.9,401.9 67.2,400.9 67.4,400.0 67.7,399.0 68.0,398.1 68.2,397.2 68.5,396.3 68.9,395.4 69.2,394.6 69.5,393.7 69.9,392.9 70.3,392.0 70.6,391.2 71.0,390.4 71.4,389.6 71.8,388.9 72.3,388.1 72.7,387.4 73.1,386.6 73.6,385.9 74.0,385.1 74.5,384.4 74.9,383.7 75.4,383.0 75.9,382.3 76.4,381.6 76.9,380.9 77.3,380.2 77.8,379.5 78.3,378.8 78.8,378.1 79.3,377.4 79.8,376.7 80.3,376.0 80.8,375.3 81.3,374.6 81.8,373.9 82.3,373.2 82.9,372.5 83.4,371.9 83.9,371.2 84.4,370.5 84.9,369.8 85.5,369.1 86.0,368.4 86.5,367.8 87.1,367.1 87.6,366.4 88.2,365.7 88.7,365.1 89.3,364.4 89.8,363.7 90.4,363.1 90.9,362.4 91.5,361.7 92.0,361.1 92.6,360.4 93.2,359.7 93.7,359.1 94.3,358.4 94.9,357.8 95.4,357.1 96.0,356.5 96.6,355.8 97.2,355.2 97.8,354.6 98.4,353.9 99.0,353.3 99.6,352.6 100.2,352.0 100.8,351.4 101.4,350.8 102.0,350.1 102.6,349.5 103.2,348.9 103.8,348.3 104.4,347.6 105.1,347.0 105.7,346.4 106.3,345.8 106.9,345.2 107.6,344.6 108.2,344.0 108.8,343.4 109.5,342.8 110.1,342.2 110.8,341.6 111.4,341.0 112.1,340.5 112.7,339.9 113.4,339.3 114.0,338.7 114.7,338.1 115.4,337.6 116.0,337.0 116.7,336.4 117.4,335.9 118.0,335.3 118.7,334.8 119.4,334.2 120.1,333.7 120.8,333.1 121.5,332.6 122.2,332.1 122.9,331.5 123.6,331.0 124.3,330.5 125.0,329.9 125.7,329.4 126.4,328.9 127.1,328.4 127.8,327.9 128.5,327.4 129.2,326.9 130.0,326.4 130.7,325.9 131.4,325.4 132.1,324.9 132.9,324.4 133.6,323.9 134.3,323.4 135.1,322.9 135.8,322.4 136.5,322.0 137.3,321.5 138.0,321.0 138.8,320.6 139.5,320.1 140.3,319.6 141.0,319.2 141.8,318.7 142.6,318.3 143.3,317.8 144.1,317.4 144.8,316.9 145.6,316.5 146.4,316.1 147.1,315.6 147.9,315.2 148.7,314.8 149.5,314.3 150.2,313.9 151.0,313.5 151.8,313.1 152.6,312.7 153.4,312.3 154.2,311.9 154.9,311.4 155.7,311.0 156.5,310.6 157.3,310.2 158.1,309.9 158.9,309.5 159.7,309.1 160.5,308.7 161.3,308.3 162.1,307.9 162.9,307.5 163.7,307.2 164.5,306.8 165.3,306.4 166.1,306.1 166.9,305.7 167.7,305.3 168.5,305.0 169.3,304.6 170.2,304.3 171.0,303.9 171.8,303.6 172.6,303.2 173.4,302.9 174.2,302.5 175.0,302.2 175.9,301.9 176.7,301.5 177.5,301.2 178.3,300.9 179.1,300.5 180.0,300.2 180.8,299.9 181.6,299.6 182.4,299.3 183.3,299.0 184.1,298.6 184.9,298.3 185.7,298.0 186.6,297.7 187.4,297.4 188.2,297.1 189.1,296.8 189.9,296.5 190.7,296.3 191.6,296.0 192.4,295.7 193.2,295.4 194.1,295.1 194.9,294.8 195.7,294.6 196.5,294.3 197.4,294.0 198.2,293.7 199.0,293.5 199.9,293.2 200.7,292.9 201.5,292.7 202.4,292.4 203.2,292.2 204.0,291.9 204.9,291.7 205.7,291.4 206.6,291.2 207.4,290.9 208.2,290.7 209.1,290.4 209.9,290.2 210.7,290.0 211.6,289.7 212.4,289.5 213.2,289.3 214.0,289.0 214.9,288.8 215.7,288.6 216.5,288.4 217.4,288.2 218.2,287.9 219.0,287.7 219.9,287.5 220.7,287.3 221.5,287.1 222.3,286.9 223.2,286.7 224.0,286.5 224.8,286.3 225.7,286.1 226.5,285.9 227.3,285.7 228.1,285.5 228.9,285.3 229.8,285.1 230.6,284.9 231.4,284.7 232.2,284.6 233.0,284.4 233.9,284.2 234.7,284.0 235.5,283.9 236.3,283.7 237.1,283.5 237.9,283.3 238.7,283.2 239.6,283.0 240.4,282.8 241.2,282.7 242.0,282.5 242.8,282.4 243.6,282.2 244.4,282.1 245.2,281.9 246.0,281.8 246.8,281.6 247.6,281.5 248.4,281.3 249.2,281.2 250.0,281.0 250.8,280.9 251.6,280.7 252.4,280.6 253.1,280.5 253.9,280.3 254.7,280.2 255.5,280.1 256.3,280.0 257.1,279.8 257.9,279.7 258.7,279.6 259.5,279.5 260.3,279.3 261.1,279.2 261.9,279.1 262.7,279.0 263.5,278.9 264.3,278.8 265.1,278.7 265.9,278.6 266.7,278.5 267.5,278.4 268.3,278.3 269.2,278.2 270.0,278.1 270.8,278.0 271.7,278.0 272.5,277.9 273.4,277.8 274.2,277.7 275.1,277.6 275.9,277.6 276.8,277.5 277.7,277.4 278.6,277.4 279.5,277.3 280.3,277.3 281.3,277.2 282.2,277.2 283.1,277.1 284.0,277.1 284.9,277.0 285.9,277.0 286.8,276.9 287.8,276.9 288.7,276.9 289.7,276.9 290.7,276.8 291.7,276.8 292.7,276.8 293.7,276.8 294.7,276.8 295.7,276.8 296.8,276.8 297.8,276.8 298.9,276.8 300.0,276.8 301.1,276.8 302.1,276.8 303.3,276.8 304.4,276.8 305.5,276.9 306.7,276.9 307.8,276.9 309.0,276.9 310.2,277.0 311.4,277.0 312.6,277.1 313.8,277.1 315.0,277.2 316.2,277.3 317.3,277.3 318.3,277.5 319.3,277.6 320.2,277.7 320.9,277.9 321.5,278.1 321.9,278.4 322.1,278.7 322.2,279.0 322.1,279.4 321.9,279.7 321.6,280.1 321.2,280.5 320.7,280.9 320.2,281.3 319.5,281.7 318.8,282.1 318.1,282.4 317.4,282.8 316.6,283.1 315.8,283.4 315.0,283.7 314.1,283.9 313.3,284.2 312.5,284.4 311.6,284.6 310.7,284.8 309.9,285.0 309.0,285.2 308.1,285.3 307.2,285.5 306.3,285.6 305.4,285.8 304.5,285.9 303.6,286.0 302.7,286.2 301.8,286.3 300.9,286.5 300.0,286.6 299.1,286.7 298.1,286.9 297.2,287.0 296.3,287.2 295.4,287.3 294.5,287.5 293.6,287.7 292.8,287.8 291.9,288.0 291.0,288.2 290.1,288.3 289.2,288.5 288.3,288.7 287.4,288.9 286.5,289.1 285.6,289.3 284.8,289.5 283.9,289.7 283.0,289.9 282.1,290.1 281.2,290.3 280.4,290.5 279.5,290.7 278.6,290.9 277.8,291.1 276.9,291.4 276.0,291.6 275.2,291.8 274.3,292.0 273.4,292.3 272.6,292.5 271.7,292.7 270.8,293.0 270.0,293.2 269.1,293.5 268.3,293.7 267.4,294.0 266.6,294.2 265.7,294.5 264.9,294.8 264.0,295.0 263.2,295.3 262.3,295.6 261.5,295.8 260.6,296.1 259.8,296.4 259.0,296.7 258.1,297.0 257.3,297.2 256.4,297.5 255.6,297.8 254.8,298.1 253.9,298.4 253.1,298.7 252.3,299.0 251.5,299.3 250.6,299.6 249.8,299.9 249.0,300.3 248.2,300.6 247.3,300.9 246.5,301.2 245.7,301.5 244.9,301.8 244.1,302.2 243.2,302.5 242.4,302.8 241.6,303.2 240.8,303.5 240.0,303.8 239.2,304.2 238.4,304.5 237.6,304.9 236.8,305.2 236.0,305.6 235.2,305.9 234.3,306.3 233.5,306.6 232.7,307.0 231.9,307.3 231.2,307.7 230.4,308.1 229.6,308.4 228.8,308.8 228.0,309.2 227.2,309.5 226.4,309.9 225.6,310.3 224.8,310.7 224.0,311.1 223.2,311.4 222.5,311.8 221.7,312.2 220.9,312.6 220.1,313.0 219.3,313.4 218.6,313.8 217.8,314.2 217.0,314.6 216.2,315.0 215.5,315.4 214.7,315.8 213.9,316.2 213.1,316.6 212.4,317.0 211.6,317.4 210.8,317.8 210.1,318.2 209.3,318.6 208.5,319.1 207.8,319.5 207.0,319.9 206.3,320.3 205.5,320.7 204.7,321.2 204.0,321.6 203.2,322.0 202.5,322.4 201.7,322.9 201.0,323.3 200.2,323.7 199.5,324.2 198.7,324.6 198.0,325.1 197.2,325.5 196.5,325.9 195.7,326.4 195.0,326.8 194.2,327.3 193.5,327.7 192.7,328.2 192.0,328.6 191.3,329.1 190.5,329.5 189.8,330.0 189.0,330.4 188.3,330.9 187.6,331.3 186.8,331.8 186.1,332.3 185.4,332.7 184.6,333.2 183.9,333.6 183.2,334.1 182.4,334.6 181.7,335.0 181.0,335.5 180.3,336.0 179.5,336.5 178.8,336.9 178.1,337.4 177.4,337.9 176.7,338.3 175.9,338.8 175.2,339.3 174.5,339.8 173.8,340.2 173.1,340.7 172.3,341.2 171.6,341.7 170.9,342.2 170.2,342.7 169.5,343.1 168.8,343.6 168.1,344.1 167.4,344.6 166.7,345.1 165.9,345.6 165.2,346.0 164.5,346.5 163.8,347.0 163.1,347.5 162.4,348.0 161.7,348.5 161.0,349.0 160.3,349.5 159.6,350.0 158.9,350.5 158.2,351.0 157.5,351.5 156.8,352.0 156.1,352.5 155.4,352.9 154.7,353.4 154.0,353.9 153.3,354.4 152.6,354.9 152.0,355.4 151.3,355.9 150.6,356.4 149.9,356.9 149.2,357.5 148.5,358.0 147.8,358.5 147.1,359.0 146.4,359.5 145.7,360.0 145.1,360.5 144.4,361.0 143.7,361.5 143.0,362.0 142.3,362.5 141.6,363.0 140.9,363.5 140.2,364.0 139.6,364.6 138.9,365.1 138.2,365.6 137.5,366.1 136.8,366.6 136.1,367.1 135.4,367.6 134.8,368.2 134.1,368.7 133.4,369.2 132.7,369.7 132.0,370.2 131.3,370.8 130.6,371.3 129.9,371.8 129.3,372.3 128.6,372.9 127.9,373.4 127.2,373.9 126.5,374.4 125.8,375.0 125.1,375.5 124.4,376.0 123.8,376.5 123.1,377.1 122.4,377.6 121.7,378.1 121.0,378.7 120.3,379.2 119.6,379.7 118.9,380.3 118.2,380.8 117.5,381.3 116.8,381.9 116.1,382.4 115.4,383.0 114.7,383.5 114.0,384.0 113.3,384.6 112.6,385.1 111.9,385.7 111.2,386.2 110.5,386.7 109.8,387.3 109.1,387.8 108.4,388.4 107.7,388.9 107.0,389.5 106.3,390.0 105.6,390.6 104.9,391.1 104.2,391.7 103.5,392.2 102.8,392.8 102.0,393.3 101.3,393.9 100.6,394.4 99.9,395.0 99.2,395.6 98.5,396.1 97.7,396.7 97.0,397.2 96.3,397.8 95.6,398.4 94.8,398.9 94.1,399.5 93.4,400.1 92.7,400.6 91.9,401.2 91.2,401.8 90.5,402.3 89.7,402.9 89.0,403.5 88.2,404.0 87.5,404.6 86.8,405.2 86.0,405.7 85.3,406.3 84.5,406.9 83.8,407.5 83.0,408.0 82.3,408.6 81.5,409.2 80.8,409.8 80.0,410.4 79.2,410.9 78.5,411.5 77.7,412.1 77.0,412.7 76.2,413.2 75.4,413.8 74.7,414.3 74.0,414.8 73.2,415.2 72.5,415.6 71.8,416.0 71.1,416.3 70.4,416.5 69.7,416.7 69.1,416.8 68.5,416.8 67.9,416.8 67.3,416.6 66.8,416.4" fill="none" stroke="#bf00bf" stroke-width="1.4" stroke-linejoin="round" />
<polyline points="65.9,414.8 65.5,414.4 65.2,413.8 65.0,413.2 64.9,412.5 64.8,411.8 64.8,410.9 64.8,410.0 64.9,409.1 65.1,408.2 65.3,407.2 65.5,406.2 65.7,405.2 65.9,404.2 66.1,403.2 66.4,402.3 66.6,401.3 66.9,400.3 67.2,399.4 67.5,398.5 67.8,397.5 68.1,396.6 68.5,395.7 68.8,394.8 69.2,394.0 69.5,393.1 69.9,392.3 70.3,391.5 70.7,390.7 71.1,389.9 71.5,389.1 72.0,388.4 72.4,387.6 72.9,386.9 73.3,386.2 73.8,385.5 74.3,384.8 74.8,384.1 75.3,383.5 75.8,382.8 76.3,382.1 76.8,381.5 77.3,380.8 77.8,380.2 78.3,379.5 78.8,378.8 79.3,378.2 79.9,377.5 80.4,376.9 80.9,376.2 81.5,375.6 82.0,374.9 82.5,374.3 83.1,373.6 83.6,373.0 84.2,372.3 84.7,371.7 85.3,371.1 85.8,370.4 86.4,369.8 87.0,369.1 87.5,368.5 88.1,367.9 88.7,367.2 89.3,366.6 89.8,366.0 90.4,365.3 91.0,364.7 91.6,364.1 92.2,363.5 92.8,362.8 93.4,362.2 94.0,361.6 94.6,361.0 95.2,360.4 95.8,359.8 96.4,359.1 97.0,358.5 97.6,357.9 98.2,357.3 98.9,356.7 99.5,356.1 100.1,355.5 100.7,354.9 101.4,354.3 102.0,353.7 102.6,353.1 103.3,352.5 103.9,351.9 104.6,351.4 105.2,350.8 105.8,350.2 106.5,349.6 107.1,349.0 107.8,348.4 108.5,347.9 109.1,347.3 109.8,346.7 110.4,346.2 111.1,345.6 111.8,345.0 112.5,344.5 113.1,343.9 113.8,343.4 114.5,342.8 115.2,342.3 115.8,341.7 116.5,341.2 117.2,340.6 117.9,340.1 118.6,339.5 119.3,339.0 120.0,338.5 120.7,338.0 121.4,337.4 122.1,336.9 122.8,336.4 123.5,335.9 124.2,335.3 124.9,334.8 125.6,334.3 126.3,333.8 127.0,333.3 127.8,332.8 128.5,332.3 129.2,331.8 129.9,331.3 130.6,330.8 131.4,330.3 132.1,329.8 132.8,329.4 133.5,328.9 134.3,328.4 135.0,327.9 135.7,327.4 136.5,327.0 137.2,326.5 138.0,326.0 138.7,325.6 139.5,325.1 140.2,324.6 140.9,324.2 141.7,323.7 142.4,323.3 143.2,322.8 144.0,322.4 144.7,321.9 145.5,321.5 146.2,321.1 147.0,320.6 147.7,320.2 148.5,319.8 149.3,319.3 150.0,318.9 150.8,318.5 151.6,318.0 152.3,317.6 153.1,317.2 153.9,316.8 154.6,316.4 155.4,316.0 156.2,315.6 157.0,315.2 157.7,314.8 158.5,314.4 159.3,314.0 160.1,313.6 160.9,313.2 161.7,312.8 162.4,312.4 163.2,312.0 164.0,311.6 164.8,311.2 165.6,310.9 166.4,310.5 167.2,310.1 168.0,309.7 168.8,309.4 169.5,309.0 170.3,308.6 171.1,308.3 171.9,307.9 172.7,307.6 173.5,307.2 174.3,306.8 175.1,306.5 175.9,306.1 176.7,305.8 177.5,305.5 178.3,305.1 179.1,304.8 179.9,304.4 180.8,304.1 181.6,303.8 182.4,303.4 183.2,303.1 184.0,302.8 184.8,302.5 185.6,302.1 186.4,301.8 187.2,301.5 188.0,301.2 188.8,300.9 189.7,300.6 190.5,300.3 191.3,299.9 192.1,299.6 192.9,299.3 193.7,299.0 194.5,298.7 195.4,298.4 196.2,298.2 197.0,297.9 197.8,297.6 198.6,297.3 199.4,297.0 200.3,296.7 201.1,296.4 201.9,296.2 202.7,295.9 203.5,295.6 204.4,295.3 205.2,295.1 206.0,294.8 206.8,294.5 207.6,294.3 208.5,294.0 209.3,293.8 210.1,293.5 210.9,293.2 211.7,293.0 212.6,292.7 213.4,292.5 214.2,292.2 215.0,292.0 215.8,291.8 216.7,291.5 217.5,291.3 218.3,291.0 219.1,290.8 219.9,290.6 220.8,290.3 221.6,290.1 222.4,289.9 223.2,289.7 224.0,289.4 224.9,289.2 225.7,289.0 226.5,288.8 227.3,288.6 228.1,288.4 229.0,288.2 229.8,287.9 230.6,287.7 231.4,287.5 232.2,287.3 233.0,287.1 233.9,286.9 234.7,286.7 235.5,286.5 236.3,286.3 237.1,286.2 237.9,286.0 238.8,285.8 239.6,285.6 240.4,285.4 241.2,285.2 242.0,285.0 242.8,284.9 243.6,284.7 244.4,284.5 245.3,284.3 246.1,284.2 246.9,284.0 247.7,283.8 248.5,283.7 249.3,283.5 250.1,283.4 250.9,283.2 251.7,283.0 252.5,282.9 253.3,282.7 254.1,282.6 254.9,282.4 255.7,282.3 256.5,282.1 257.3,282.0 258.2,281.9 259.0,281.7 259.8,281.6 260.6,281.4 261.4,281.3 262.2,281.2 263.0,281.1 263.8,280.9 264.7,280.8 265.5,280.7 266.3,280.6 267.1,280.5 267.9,280.3 268.8,280.2 269.6,280.1 270.4,280.0 271.3,279.9 272.1,279.8 273.0,279.7 273.8,279.6 274.7,279.5 275.5,279.4 276.4,279.4 277.3,279.3 278.1,279.2 279.0,279.1 279.9,279.0 280.8,279.0 281.6,278.9 282.5,278.8 283.4,278.8 284.3,278.7 285.2,278.7 286.2,278.6 287.1,278.6 288.0,278.5 288.9,278.5 289.9,278.4 290.8,278.4 291.8,278.4 292.7,278.3 293.7,278.3 294.6,278.3 295.6,278.3 296.6,278.2 297.6,278.2 298.6,278.2 299.6,278.2 300.6,278.2 301.6,278.2 302.7,278.2 303.7,278.2 304.7,278.2 305.8,278.2 306.9,278.3 307.9,278.3 309.0,278.3 310.1,278.3 311.2,278.4 312.3,278.4 313.4,278.5 314.5,278.5 315.6,278.6 316.6,278.7 317.6,278.8 318.6,278.9 319.4,279.1 320.2,279.3 320.9,279.6 321.5,279.9 322.0,280.2 322.4,280.6 322.6,281.0 322.7,281.5 322.6,282.0 322.4,282.5 322.1,283.0 321.6,283.6 321.1,284.1 320.5,284.6 319.8,285.2 319.1,285.7 318.4,286.2 317.6,286.6 316.9,287.0 316.1,287.4 315.3,287.8 314.5,288.1 313.7,288.4 312.9,288.7 312.0,289.0 311.2,289.3 310.4,289.5 309.5,289.8 308.7,290.0 307.8,290.2 306.9,290.4 306.0,290.6 305.2,290.7 304.3,290.9 303.4,291.1 302.5,291.2 301.6,291.4 300.7,291.6 299.9,291.7 299.0,291.9 298.1,292.1 297.2,292.3 296.3,292.4 295.4,292.6 294.6,292.8 293.7,293.0 292.8,293.2 291.9,293.4 291.1,293.6 290.2,293.7 289.3,293.9 288.4,294.1 287.6,294.3 286.7,294.5 285.8,294.7 285.0,295.0 284.1,295.2 283.2,295.4 282.4,295.6 281.5,295.8 280.7,296.0 279.8,296.3 278.9,296.5 278.1,296.7 277.2,296.9 276.4,297.2 275.5,297.4 274.7,297.6 273.8,297.9 273.0,298.1 272.1,298.3 271.3,298.6 270.4,298.8 269.6,299.1 268.7,299.3 267.9,299.6 267.0,299.8 266.2,300.1 265.3,300.4 264.5,300.6 263.7,300.9 262.8,301.1 262.0,301.4 261.1,301.7 260.3,301.9 259.5,302.2 258.6,302.5 257.8,302.8 257.0,303.1 256.1,303.3 255.3,303.6 254.5,303.9 253.7,304.2 252.8,304.5 252.0,304.8 251.2,305.1 250.4,305.4 249.5,305.7 248.7,306.0 247.9,306.3 247.1,306.6 246.3,306.9 245.4,307.2 244.6,307.5 243.8,307.8 243.0,308.1 242.2,308.4 241.4,308.7 240.6,309.0 239.7,309.4 238.9,309.7 238.1,310.0 237.3,310.3 236.5,310.7 235.7,311.0 234.9,311.3 234.1,311.7 233.3,312.0 232.5,312.3 231.7,312.7 230.9,313.0 230.1,313.3 229.3,313.7 228.5,314.0 227.7,314.4 226.9,314.7 226.1,315.1 225.3,315.4 224.5,315.8 223.7,316.1 222.9,316.5 222.2,316.8 221.4,317.2 220.6,317.6 219.8,317.9 219.0,318.3 218.2,318.7 217.4,319.0 216.7,319.4 215.9,319.8 215.1,320.1 214.3,320.5 213.5,320.9 212.8,321.3 212.0,321.6 211.2,322.0 210.4,322.4 209.7,322.8 208.9,323.2 208.1,323.6 207.3,323.9 206.6,324.3 205.8,324.7 205.0,325.1 204.3,325.5 203.5,325.9 202.7,326.3 202.0,326.7 201.2,327.1 200.4,327.5 199.7,327.9 198.9,328.3 198.2,328.7 197.4,329.1 196.6,329.5 195.9,329.9 195.1,330.3 194.4,330.7 193.6,331.2 192.9,331.6 192.1,332.0 191.4,332.4 190.6,332.8 189.9,333.2 189.1,333.7 188.4,334.1 187.6,334.5 186.9,334.9 186.1,335.4 185.4,335.8 184.6,336.2 183.9,336.6 183.1,337.1 182.4,337.5 181.7,337.9 180.9,338.4 180.2,338.8 179.4,339.2 178.7,339.7 178.0,340.1 177.2,340.6 176.5,341.0 175.8,341.4 175.0,341.9 174.3,342.3 173.6,342.8 172.8,343.2 172.1,343.7 171.4,344.1 170.7,344.6 169.9,345.0 169.2,345.5 168.5,345.9 167.8,346.4 167.0,346.8 166.3,347.3 165.6,347.7 164.9,348.2 164.1,348.6 163.4,349.1 162.7,349.6 162.0,350.0 161.3,350.5 160.6,350.9 159.8,351.4 159.1,351.9 158.4,352.3 157.7,352.8 157.0,353.3 156.3,353.7 155.6,354.2 154.9,354.7 154.2,355.2 153.4,355.6 152.7,356.1 152.0,356.6 151.3,357.0 150.6,357.5 149.9,358.0 149.2,358.5 148.5,359.0 147.8,359.4 147.1,359.9 146.4,360.4 145.7,360.9 145.0,361.4 144.3,361.8 143.6,362.3 142.9,362.8 142.2,363.3 141.5,363.8 140.8,364.3 140.1,364.8 139.4,365.2 138.7,365.7 138.0,366.2 137.3,366.7 136.6,367.2 135.9,367.7 135.2,368.2 134.5,368.7 133.8,369.2 133.1,369.7 132.4,370.2 131.7,370.7 131.0,371.2 130.3,371.7 129.6,372.2 128.9,372.7 128.2,373.2 127.5,373.7 126.8,374.2 126.1,374.7 125.4,375.2 124.7,375.7 124.0,376.2 123.3,376.8 122.6,377.3 121.9,377.8 121.2,378.3 120.5,378.8 119.8,379.3 119.1,379.8 118.4,380.3 117.7,380.9 117.0,381.4 116.3,381.9 115.6,382.4 114.9,382.9 114.2,383.5 113.5,384.0 112.8,384.5 112.1,385.0 111.4,385.5 110.7,386.1 110.0,386.6 109.3,387.1 108.5,387.7 107.8,388.2 107.1,388.7 106.4,389.2 105.7,389.8 105.0,390.3 104.3,390.8 103.6,391.4 102.8,391.9 102.1,392.4 101.4,393.0 100.7,393.5 100.0,394.0 99.3,394.6 98.5,395.1 97.8,395.7 97.1,396.2 96.4,396.7 95.6,397.3 94.9,397.8 94.2,398.4 93.5,398.9 92.7,399.5 92.0,400.0 91.3,400.6 90.5,401.1 89.8,401.7 89.1,402.2 88.3,402.8 87.6,403.3 86.9,403.9 86.1,404.4 85.4,405.0 84.6,405.5 83.9,406.1 83.1,406.6 82.4,407.2 81.6,407.8 80.9,408.3 80.1,408.9 79.4,409.4 78.6,410.0 77.9,410.6 77.1,411.1 76.4,411.7 75.6,412.2 74.9,412.7 74.1,413.2 73.4,413.6 72.6,414.0 71.9,414.4 71.2,414.7 70.4,415.0 69.7,415.2 69.0,415.3 68.3,415.4 67.7,415.4 67.0,415.3 66.4,415.1 65.9,414.8" fill="none" stroke="#bfbf00" stroke-width="1.4" stroke-linejoin="round" />
<polyline points="66.8,408.4 66.4,408.1 66.1,407.6 65.9,407.1 65.7,406.5 65.6,405.8 65.5,405.1 65.5,404.3 65.6,403.4 65.6,402.6 65.8,401.7 65.9,400.7 66.1,399.7 66.3,398.8 66.6,397.8 66.9,396.8 67.2,395.8 67.5,394.8 67.9,393.8 68.3,392.8 68.6,391.9 69.0,391.0 69.4,390.1 69.9,389.3 70.3,388.5 70.7,387.7 71.1,386.9 71.6,386.2 72.1,385.4 72.5,384.7 73.0,384.0 73.5,383.3 73.9,382.6 74.4,381.9 74.9,381.3 75.4,380.6 75.9,379.9 76.4,379.3 76.9,378.6 77.4,377.9 77.9,377.3 78.4,376.6 78.9,375.9 79.4,375.3 79.9,374.6 80.4,374.0 80.9,373.3 81.5,372.6 82.0,372.0 82.5,371.3 83.0,370.7 83.6,370.0 84.1,369.4 84.6,368.7 85.2,368.1 85.7,367.4 86.2,366.8 86.8,366.1 87.3,365.5 87.9,364.8 88.4,364.2 89.0,363.6 89.5,362.9 90.1,362.3 90.6,361.7 91.2,361.0 91.8,360.4 92.3,359.8 92.9,359.1 93.5,358.5 94.1,357.9 94.7,357.3 95.2,356.7 95.8,356.1 96.4,355.5 97.0,354.9 97.6,354.3 98.2,353.7 98.8,353.1 99.4,352.5 100.0,351.9 100.6,351.3 101.3,350.7 101.9,350.2 102.5,349.6 103.1,349.0 103.8,348.5 104.4,347.9 105.0,347.3 105.7,346.8 106.3,346.2 106.9,345.7 107.6,345.1 108.2,344.6 108.9,344.0 109.6,343.5 110.2,343.0 110.9,342.5 111.5,341.9 112.2,341.4 112.9,340.9 113.6,340.4 114.2,339.9 114.9,339.3 115.6,338.8 116.3,338.3 117.0,337.8 117.6,337.3 118.3,336.8 119.0,336.4 119.7,335.9 120.4,335.4 121.1,334.9 121.8,334.4 122.5,333.9 123.2,333.5 124.0,333.0 124.7,332.5 125.4,332.1 126.1,331.6 126.8,331.2 127.5,330.7 128.3,330.2 129.0,329.8 129.7,329.4 130.4,328.9 131.2,328.5 131.9,328.0 132.6,327.6 133.4,327.2 134.1,326.7 134.9,326.3 135.6,325.9 136.4,325.5 137.1,325.0 137.9,324.6 138.6,324.2 139.4,323.8 140.1,323.4 140.9,323.0 141.6,322.6 142.4,322.2 143.1,321.8 143.9,321.4 144.7,321.0 145.4,320.6 146.2,320.3 147.0,319.9 147.7,319.5 148.5,319.1 149.3,318.7 150.1,318.4 150.8,318.0 151.6,317.6 152.4,317.3 153.2,316.9 153.9,316.5 154.7,316.2 155.5,315.8 156.3,315.5 157.1,315.1 157.9,314.8 158.6,314.4 159.4,314.1 160.2,313.7 161.0,313.4 161.8,313.1 162.6,312.7 163.4,312.4 164.2,312.1 165.0,311.8 165.8,311.4 166.6,311.1 167.4,310.8 168.2,310.5 168.9,310.2 169.7,309.8 170.5,309.5 171.3,309.2 172.1,308.9 172.9,308.6 173.7,308.3 174.5,308.0 175.3,307.7 176.1,307.4 176.9,307.1 177.8,306.8 178.6,306.5 179.4,306.3 180.2,306.0 181.0,305.7 181.8,305.4 182.6,305.1 183.4,304.8 184.2,304.6 185.0,304.3 185.8,304.0 186.6,303.8 187.4,303.5 188.2,303.2 189.0,303.0 189.8,302.7 190.6,302.4 191.4,302.2 192.2,301.9 193.0,301.7 193.8,301.4 194.6,301.2 195.4,300.9 196.2,300.7 197.0,300.4 197.8,300.2 198.7,299.9 199.5,299.7 200.3,299.5 201.1,299.2 201.9,299.0 202.7,298.7 203.5,298.5 204.3,298.3 205.1,298.1 205.9,297.8 206.6,297.6 207.4,297.4 208.2,297.2 209.0,296.9 209.8,296.7 210.6,296.5 211.4,296.3 212.2,296.1 213.0,295.9 213.8,295.6 214.6,295.4 215.4,295.2 216.2,295.0 217.0,294.8 217.8,294.6 218.6,294.4 219.4,294.2 220.2,294.0 221.0,293.8 221.8,293.6 222.6,293.4 223.4,293.3 224.2,293.1 225.0,292.9 225.8,292.7 226.6,292.5 227.4,292.3 228.2,292.2 229.0,292.0 229.8,291.8 230.6,291.6 231.4,291.5 232.2,291.3 233.0,291.1 233.8,290.9 234.6,290.8 235.4,290.6 236.3,290.5 237.1,290.3 237.9,290.1 238.7,290.0 239.5,289.8 240.3,289.7 241.1,289.5 241.9,289.4 242.8,289.2 243.6,289.1 244.4,288.9 245.2,288.8 246.0,288.6 246.8,288.5 247.7,288.4 248.5,288.2 249.3,288.1 250.1,288.0 251.0,287.8 251.8,287.7 252.6,287.6 253.5,287.5 254.3,287.3 255.1,287.2 256.0,287.1 256.8,287.0 257.6,286.9 258.5,286.7 259.3,286.6 260.1,286.5 261.0,286.4 261.8,286.3 262.7,286.2 263.5,286.1 264.4,286.0 265.2,285.9 266.1,285.8 266.9,285.7 267.8,285.6 268.7,285.5 269.5,285.4 270.4,285.3 271.3,285.2 272.1,285.1 273.0,285.1 273.9,285.0 274.7,284.9 275.6,284.8 276.5,284.7 277.4,284.7 278.2,284.6 279.1,284.5 280.0,284.4 280.9,284.4 281.8,284.3 282.7,284.2 283.6,284.2 284.5,284.1 285.4,284.1 286.3,284.0 287.2,283.9 288.1,283.9 289.0,283.8 289.9,283.8 290.8,283.7 291.7,283.7 292.7,283.6 293.6,283.6 294.5,283.6 295.4,283.5 296.4,283.5 297.3,283.4 298.2,283.4 299.2,283.4 300.1,283.4 301.1,283.3 302.0,283.3 303.0,283.3 303.9,283.3 304.9,283.2 305.8,283.2 306.8,283.2 307.8,283.3 308.7,283.3 309.7,283.3 310.7,283.4 311.6,283.5 312.6,283.5 313.6,283.6 314.5,283.8 315.5,283.9 316.4,284.1 317.3,284.2 318.1,284.4 318.9,284.6 319.6,284.8 320.2,285.0 320.8,285.3 321.3,285.5 321.6,285.8 321.9,286.0 322.0,286.3 322.1,286.6 322.0,286.9 321.7,287.2 321.4,287.5 321.0,287.8 320.4,288.1 319.8,288.5 319.1,288.8 318.4,289.1 317.6,289.4 316.7,289.7 315.8,290.1 314.9,290.4 313.9,290.7 313.0,291.0 312.0,291.3 311.0,291.6 310.0,291.8 309.1,292.1 308.1,292.4 307.2,292.6 306.2,292.9 305.3,293.1 304.3,293.4 303.4,293.6 302.4,293.8 301.5,294.0 300.6,294.2 299.6,294.4 298.7,294.6 297.8,294.8 296.9,295.0 296.0,295.2 295.0,295.4 294.1,295.6 293.2,295.7 292.3,295.9 291.4,296.1 290.5,296.2 289.7,296.4 288.8,296.6 287.9,296.7 287.0,296.8 286.1,297.0 285.3,297.1 284.4,297.3 283.5,297.4 282.6,297.6 281.8,297.7 280.9,297.8 280.1,298.0 279.2,298.1 278.4,298.2 277.5,298.3 276.7,298.5 275.8,298.6 275.0,298.7 274.1,298.9 273.3,299.0 272.5,299.1 271.7,299.3 270.8,299.4 270.0,299.5 269.2,299.7 268.4,299.8 267.5,299.9 266.7,300.1 265.9,300.2 265.1,300.4 264.3,300.5 263.5,300.7 262.7,300.8 261.9,301.0 261.1,301.2 260.3,301.3 259.5,301.5 258.7,301.7 257.9,301.8 257.1,302.0 256.3,302.2 255.5,302.4 254.8,302.6 254.0,302.8 253.2,303.0 252.4,303.2 251.6,303.4 250.9,303.7 250.1,303.9 249.3,304.1 248.5,304.4 247.8,304.6 247.0,304.9 246.2,305.2 245.5,305.4 244.7,305.7 244.0,306.0 243.2,306.3 242.4,306.6 241.7,306.9 240.9,307.2 240.2,307.5 239.4,307.8 238.7,308.1 237.9,308.4 237.1,308.8 236.4,309.1 235.6,309.5 234.9,309.8 234.2,310.2 233.4,310.5 232.7,310.9 231.9,311.2 231.2,311.6 230.4,312.0 229.7,312.3 228.9,312.7 228.2,313.1 227.5,313.5 226.7,313.9 226.0,314.3 225.2,314.7 224.5,315.1 223.8,315.5 223.0,315.9 222.3,316.3 221.5,316.7 220.8,317.1 220.1,317.5 219.3,317.9 218.6,318.3 217.8,318.8 217.1,319.2 216.4,319.6 215.6,320.0 214.9,320.4 214.1,320.9 213.4,321.3 212.7,321.7 211.9,322.2 211.2,322.6 210.5,323.0 209.7,323.5 209.0,323.9 208.2,324.3 207.5,324.8 206.7,325.2 206.0,325.6 205.3,326.1 204.5,326.5 203.8,326.9 203.0,327.4 202.3,327.8 201.5,328.2 200.8,328.7 200.0,329.1 199.3,329.5 198.5,329.9 197.8,330.4 197.0,330.8 196.3,331.2 195.5,331.6 194.8,332.1 194.0,332.5 193.3,332.9 192.5,333.3 191.7,333.8 191.0,334.2 190.2,334.6 189.5,335.0 188.7,335.4 188.0,335.9 187.2,336.3 186.4,336.7 185.7,337.1 184.9,337.5 184.2,338.0 183.4,338.4 182.6,338.8 181.9,339.2 181.1,339.6 180.4,340.1 179.6,340.5 178.8,340.9 178.1,341.3 177.3,341.7 176.6,342.1 175.8,342.5 175.0,343.0 174.3,343.4 173.5,343.8 172.8,344.2 172.0,344.6 171.3,345.0 170.5,345.5 169.7,345.9 169.0,346.3 168.2,346.7 167.5,347.1 166.7,347.5 166.0,348.0 165.2,348.4 164.5,348.8 163.7,349.2 162.9,349.6 162.2,350.1 161.4,350.5 160.7,350.9 159.9,351.3 159.2,351.7 158.5,352.2 157.7,352.6 157.0,353.0 156.2,353.4 155.5,353.8 154.7,354.3 154.0,354.7 153.2,355.1 152.5,355.5 151.8,356.0 151.0,356.4 150.3,356.8 149.6,357.3 148.8,357.7 148.1,358.1 147.4,358.5 146.6,359.0 145.9,359.4 145.2,359.8 144.5,360.3 143.7,360.7 143.0,361.2 142.3,361.6 141.6,362.0 140.9,362.5 140.1,362.9 139.4,363.4 138.7,363.8 138.0,364.2 137.3,364.7 136.6,365.1 135.9,365.6 135.2,366.0 134.5,366.5 133.8,366.9 133.1,367.4 132.4,367.8 131.7,368.3 131.0,368.7 130.3,369.2 129.6,369.7 129.0,370.1 128.3,370.6 127.6,371.1 126.9,371.5 126.2,372.0 125.6,372.5 124.9,372.9 124.2,373.4 123.6,373.9 122.9,374.3 122.2,374.8 121.6,375.3 120.9,375.8 120.3,376.3 119.6,376.7 119.0,377.2 118.3,377.7 117.7,378.2 117.0,378.7 116.4,379.2 115.8,379.7 115.1,380.2 114.5,380.7 113.8,381.2 113.2,381.7 112.6,382.2 111.9,382.7 111.3,383.2 110.7,383.7 110.0,384.2 109.4,384.7 108.7,385.2 108.1,385.7 107.4,386.2 106.8,386.7 106.1,387.2 105.5,387.7 104.8,388.2 104.2,388.7 103.5,389.2 102.9,389.7 102.2,390.2 101.5,390.7 100.8,391.2 100.2,391.7 99.5,392.2 98.8,392.7 98.1,393.2 97.4,393.7 96.7,394.2 96.0,394.7 95.3,395.2 94.6,395.7 93.8,396.2 93.1,396.7 92.4,397.2 91.6,397.7 90.9,398.2 90.1,398.7 89.4,399.2 88.6,399.7 87.8,400.2 87.0,400.6 86.2,401.1 85.4,401.6 84.6,402.1 83.8,402.6 83.0,403.0 82.1,403.5 81.3,404.0 80.4,404.5 79.5,404.9 78.7,405.4 77.8,405.9 76.9,406.3 76.0,406.7 75.1,407.2 74.3,407.5 73.4,407.9 72.6,408.2 71.8,408.5 71.0,408.7 70.3,408.9 69.6,409.0 68.9,409.0 68.3,409.0 67.7,408.9 67.2,408.7 66.8,408.4" fill="none" stroke="#404040" stroke-width="1.4" stroke-linejoin="round" />
<polyline points="178.6,606.8 178.6,606.8 178.5,606.9 178.5,606.9 178.4,606.8 178.4,606.8 178.3,606.8 178.3,606.8 178.3,606.7 178.3,606.7 178.3,606.6 178.2,606.5 178.2,606.4 178.2,606.3 178.2,606.2 178.2,606.1 178.3,605.9 178.3,605.8 178.3,605.7 178.3,605.6 178.3,605.4 178.4,605.3 178.4,605.1 178.4,605.0 178.5,604.8 178.5,604.7 178.5,604.5 178.6,604.2 178.6,604.0 178.7,603.8 178.7,603.6 178.8,603.4 178.8,603.3 178.9,603.2 179.0,603.2 179.0,603.1 179.1,603.1 179.2,603.0 179.2,602.9 179.3,602.7 179.4,602.5 179.4,602.4 179.5,602.1 179.6,601.9 179.7,601.8 179.7,601.6 179.8,601.4 179.9,601.2 180.0,601.0 180.0,600.7 180.1,600.5 180.2,600.3 180.3,600.0 180.4,599.9 180.4,599.7 180.5,599.6 180.6,599.5 180.7,599.4 180.7,599.4 180.8,599.3 180.9,599.2 181.0,599.0 181.0,598.8 181.1,598.6 181.2,598.4 181.2,598.2 181.3,598.1 181.4,597.9 181.4,597.7 181.5,597.6 181.6,597.4 181.6,597.2 181.7,597.0 181.7,596.8 181.8,596.6 181.8,596.4 181.9,596.3 181.9,596.1 182.0,596.0 182.0,595.9 182.1,595.9 182.1,595.8 182.2,595.8 182.2,595.8 182.3,595.7 182.3,595.7 182.3,595.6 182.4,595.5 182.4,595.4 182.5,595.3 182.5,595.2 182.5,595.1 182.6,594.9 182.6,594.8 182.6,594.7 182.7,594.5 182.7,594.4 182.8,594.3 182.8,594.2 182.8,594.1 182.9,594.0 182.9,593.8 182.9,593.7 183.0,593.6 183.0,593.4 183.1,593.3 183.1,593.1 183.1,593.0 183.2,592.8 183.2,592.7 183.3,592.5 183.3,592.4 183.3,592.3 183.4,592.2 183.4,592.2 183.5,592.1 183.5,592.1 183.6,592.1 183.6,592.1 183.7,592.0 183.7,592.0 183.8,592.0 183.8,591.9 183.9,591.8 184.0,591.8 184.0,591.6 184.1,591.5 184.1,591.4 184.2,591.2 184.3,591.1 184.3,590.9 184.4,590.8 184.5,590.7 184.5,590.6 184.6,590.4 184.7,590.3 184.7,590.2 184.8,590.0 184.9,589.8 184.9,589.7 185.0,589.5 185.1,589.3 185.2,589.1 185.2,589.0 185.3,588.8 185.4,588.8 185.5,588.7 185.5,588.7 185.6,588.6 185.7,588.6 185.8,588.6 185.8,588.5 185.9,588.4 186.0,588.3 186.1,588.2 186.2,588.0 186.2,587.9 186.3,587.8 186.4,587.6 186.5,587.5 186.6,587.4 186.7,587.3 186.7,587.1 186.8,587.0 186.9,586.9 187.0,586.8 187.1,586.6 187.2,586.5 187.2,586.3 187.3,586.2 187.4,586.0 187.5,585.9 187.6,585.8 187.7,585.7 187.8,585.6 187.8,585.5 187.9,585.4 188.0,585.4 188.1,585.3 188.2,585.3 188.3,585.2 188.4,585.1 188.4,585.0 188.5,584.9 188.6,584.7 188.7,584.6 188.8,584.5 188.9,584.3 189.0,584.2 189.0,584.1 189.1,583.9 189.2,583.8 189.3,583.7 189.4,583.5 189.5,583.4 189.6,583.2 189.6,583.1 189.7,582.9 189.8,582.7 189.9,582.6 190.0,582.5 190.0,582.4 190.1,582.3 190.2,582.3 190.3,582.2 190.4,582.2 190.5,582.2 190.5,582.1 190.6,582.0 190.7,582.0 190.8,581.9 190.8,581.8 190.9,581.7 191.0,581.6 191.1,581.5 191.1,581.4 191.2,581.2 191.3,581.1 191.4,581.0 191.5,580.9 191.5,580.8 191.6,580.7 191.7,580.6 191.8,580.5 191.8,580.4 191.9,580.2 192.0,580.1 192.1,580.0 192.1,579.9 192.2,579.7 192.3,579.6 192.4,579.5 192.4,579.4 192.5,579.3 192.6,579.2 192.7,579.2 192.7,579.1 192.8,579.1 192.9,579.0 193.0,579.0 193.0,578.9 193.1,578.9 193.2,578.8 193.3,578.7 193.3,578.7 193.4,578.6 193.5,578.5 193.6,578.3 193.6,578.2 193.7,578.1 193.8,578.0 193.9,577.9 194.0,577.8 194.0,577.7 194.1,577.6 194.2,577.5 194.3,577.4 194.4,577.3 194.4,577.1 194.5,577.0 194.6,576.9 194.7,576.7 194.8,576.6 194.9,576.5 194.9,576.4 195.0,576.3 195.1,576.2 195.2,576.1 195.3,576.1 195.4,576.0 195.5,576.0 195.6,575.9 195.6,575.9 195.7,575.8 195.8,575.8 195.9,575.7 196.0,575.6 196.1,575.5 196.2,575.3 196.3,575.2 196.4,575.1 196.5,574.9 196.6,574.8 196.7,574.7 196.8,574.6 196.9,574.4 197.0,574.3 197.1,574.2 197.2,574.0 197.3,573.8 197.4,573.7 197.5,573.5 197.6,573.4 197.7,573.2 197.9,573.2 198.0,573.1 198.1,573.1 198.2,573.0 198.3,573.0 198.4,572.9 198.6,572.8 198.7,572.7 198.8,572.6 198.9,572.4 199.0,572.3 199.2,572.1 199.3,572.0 199.4,571.9 199.5,571.7 199.6,571.6 199.8,571.4 199.9,571.3 200.0,571.1 200.1,570.9 200.3,570.8 200.4,570.6 200.5,570.5 200.6,570.4 200.7,570.3 200.9,570.3 201.0,570.2 201.1,570.2 201.2,570.2 201.3,570.2 201.4,570.1 201.6,570.1 201.7,570.0 201.8,569.8 201.9,569.7 202.0,569.6 202.1,569.5 202.2,569.4 202.3,569.3 202.4,569.3 202.5,569.2 202.6,569.1 202.7,569.1 202.7,569.0 202.8,568.9 202.9,568.9 203.0,568.8 203.1,568.7 203.1,568.7 203.2,568.6 203.3,568.6 203.3,568.6 203.4,568.6 203.4,568.5 203.5,568.5 203.5,568.5 203.6,568.5 203.6,568.6 203.6,568.6 203.7,568.6 203.7,568.7 203.7,568.7 203.7,568.8 203.8,568.9 203.8,569.0 203.8,569.1 203.8,569.2 203.8,569.4 203.8,569.6 203.8,569.7 203.8,569.9 203.8,570.1 203.8,570.2 203.7,570.4 203.7,570.5 203.7,570.7 203.7,570.8 203.7,570.9 203.6,571.0 203.6,571.1 203.6,571.2 203.5,571.4 203.5,571.5 203.5,571.6 203.4,571.8 203.4,571.9 203.3,572.0 203.3,572.1 203.2,572.2 203.2,572.3 203.1,572.4 203.1,572.6 203.0,572.7 203.0,572.9 202.9,573.2 202.9,573.4 202.8,573.7 202.7,573.9 202.7,574.2 202.6,574.4 202.6,574.5 202.5,574.7 202.4,574.8 202.4,575.0 202.3,575.1 202.2,575.2 202.2,575.4 202.1,575.5 202.0,575.7 202.0,575.8 201.9,575.9 201.8,576.0 201.8,576.1 201.7,576.2 201.6,576.3 201.6,576.5 201.5,576.6 201.5,576.8 201.4,577.0 201.3,577.2 201.3,577.4 201.2,577.6 201.1,577.8 201.1,577.9 201.0,578.1 201.0,578.2 200.9,578.3 200.8,578.4 200.8,578.5 200.7,578.6 200.6,578.7 200.6,578.8 200.5,578.9 200.5,579.0 200.4,579.1 200.3,579.2 200.3,579.2 200.2,579.3 200.2,579.4 200.1,579.5 200.1,579.5 200.0,579.6 199.9,579.6 199.9,579.7 199.8,579.8 199.8,579.9 199.7,579.9 199.6,580.1 199.6,580.2 199.5,580.3 199.5,580.5 199.4,580.6 199.3,580.8 199.3,580.9 199.2,581.1 199.1,581.2 199.1,581.4 199.0,581.5 199.0,581.6 198.9,581.7 198.8,581.8 198.8,581.9 198.7,582.0 198.6,582.0 198.6,582.1 198.5,582.2 198.4,582.3 198.4,582.4 198.3,582.5 198.3,582.6 198.2,582.7 198.1,582.8 198.1,582.9 198.0,582.9 197.9,583.0 197.9,583.1 197.8,583.1 197.7,583.2 197.7,583.3 197.6,583.4 197.5,583.6 197.4,583.7 197.4,583.9 197.3,584.1 197.2,584.3 197.2,584.5 197.1,584.7 197.0,584.8 197.0,585.0 196.9,585.1 196.8,585.2 196.8,585.3 196.7,585.4 196.6,585.5 196.5,585.6 196.5,585.7 196.4,585.8 196.3,585.9 196.3,586.0 196.2,586.1 196.1,586.2 196.0,586.2 196.0,586.3 195.9,586.4 195.8,586.4 195.8,586.5 195.7,586.5 195.6,586.6 195.5,586.8 195.5,586.9 195.4,587.1 195.3,587.3 195.3,587.5 195.2,587.7 195.1,587.9 195.0,588.0 195.0,588.2 194.9,588.3 194.8,588.5 194.7,588.6 194.7,588.7 194.6,588.8 194.5,588.9 194.4,589.0 194.4,589.1 194.3,589.2 194.2,589.3 194.2,589.4 194.1,589.5 194.0,589.6 193.9,589.7 193.9,589.8 193.8,589.8 193.7,589.9 193.6,590.0 193.6,590.1 193.5,590.2 193.4,590.3 193.3,590.4 193.3,590.6 193.2,590.7 193.1,590.9 193.0,591.1 193.0,591.2 192.9,591.4 192.8,591.6 192.7,591.7 192.7,591.8 192.6,591.9 192.5,592.0 192.5,592.1 192.4,592.2 192.3,592.3 192.2,592.3 192.2,592.4 192.1,592.5 192.0,592.6 191.9,592.7 191.9,592.8 191.8,592.9 191.7,593.0 191.6,593.0 191.6,593.1 191.5,593.2 191.4,593.2 191.3,593.3 191.3,593.4 191.2,593.5 191.1,593.6 191.0,593.7 191.0,593.8 190.9,594.0 190.8,594.1 190.7,594.3 190.7,594.5 190.6,594.6 190.5,594.7 190.4,594.8 190.3,594.9 190.3,595.0 190.2,595.1 190.1,595.2 190.0,595.3 190.0,595.4 189.9,595.5 189.8,595.6 189.7,595.7 189.7,595.7 189.6,595.8 189.5,595.9 189.4,596.0 189.3,596.1 189.3,596.2 189.2,596.3 189.1,596.3 189.0,596.4 188.9,596.5 188.9,596.6 188.8,596.6 188.7,596.7 188.6,596.9 188.5,597.0 188.5,597.1 188.4,597.2 188.3,597.4 188.2,597.5 188.1,597.6 188.1,597.7 188.0,597.8 187.9,597.9 187.8,598.0 187.7,598.1 187.6,598.2 187.6,598.3 187.5,598.4 187.4,598.5 187.3,598.6 187.2,598.7 187.1,598.9 187.0,599.0 187.0,599.1 186.9,599.2 186.8,599.3 186.7,599.4 186.6,599.5 186.5,599.6 186.4,599.7 186.3,599.8 186.3,599.9 186.2,600.0 186.1,600.1 186.0,600.2 185.9,600.3 185.8,600.5 185.7,600.6 185.6,600.8 185.5,601.0 185.4,601.1 185.4,601.2 185.3,601.4 185.2,601.5 185.1,601.5 185.0,601.6 184.9,601.7 184.8,601.8 184.7,601.9 184.6,602.0 184.5,602.1 184.4,602.2 184.3,602.3 184.2,602.4 184.1,602.5 184.0,602.5 183.9,602.6 183.8,602.7 183.7,602.8 183.6,602.9 183.5,603.0 183.4,603.2 183.3,603.4 183.2,603.6 183.1,603.8 183.0,604.0 182.9,604.2 182.8,604.3 182.7,604.4 182.6,604.5 182.5,604.6 182.4,604.7 182.3,604.7 182.2,604.8 182.1,604.9 182.0,605.0 181.9,605.1 181.8,605.2 181.7,605.2 181.5,605.3 181.4,605.3 181.3,605.4 181.2,605.4 181.1,605.5 181.0,605.5 180.9,605.6 180.8,605.6 180.7,605.7 180.6,605.9 180.4,606.0 180.3,606.2 180.2,606.3 180.1,606.4 180.0,606.5 179.9,606.6 179.8,606.6 179.7,606.7 179.6,606.7 179.5,606.8 179.4,606.8 179.3,606.8 179.2,606.8 179.1,606.8 179.0,606.9 178.9,606.9 178.8,606.9 178.8,606.8 178.7,606.8 178.6,606.8" fill="none" stroke="#0000ff" stroke-width="1.5" stroke-linejoin="round" />
<polyline points="154.2,625.6 154.1,625.6 154.0,625.5 153.9,625.4 153.8,625.1 153.7,624.8 153.7,624.4 153.6,624.1 153.6,623.8 153.6,623.3 153.6,622.8 153.6,622.3 153.6,622.0 153.7,621.8 153.7,621.7 153.8,621.5 153.8,621.1 153.9,620.8 153.9,620.4 154.0,620.0 154.0,619.6 154.1,619.2 154.2,618.8 154.3,618.4 154.4,618.1 154.5,618.0 154.6,617.8 154.7,617.6 154.8,617.3 154.9,617.0 155.0,616.6 155.1,616.3 155.2,615.9 155.3,615.6 155.4,615.1 155.6,614.7 155.7,614.4 155.8,614.3 156.0,614.2 156.1,614.1 156.2,613.9 156.4,613.6 156.5,613.2 156.6,612.8 156.8,612.5 156.9,612.2 157.0,611.7 157.2,611.3 157.3,610.9 157.5,610.7 157.6,610.6 157.8,610.5 157.9,610.4 158.1,610.2 158.2,609.8 158.3,609.5 158.5,609.2 158.6,608.8 158.8,608.5 158.9,608.1 159.1,607.6 159.2,607.3 159.4,607.1 159.6,607.0 159.7,606.9 159.9,606.7 160.0,606.4 160.2,606.1 160.3,605.8 160.5,605.5 160.7,605.2 160.8,604.9 161.0,604.6 161.1,604.2 161.3,604.0 161.5,603.8 161.6,603.6 161.8,603.5 162.0,603.3 162.1,603.0 162.3,602.6 162.5,602.3 162.6,602.0 162.8,601.7 163.0,601.4 163.1,601.0 163.3,600.6 163.5,600.4 163.6,600.3 163.8,600.2 164.0,600.0 164.2,599.8 164.3,599.5 164.5,599.2 164.7,598.9 164.9,598.6 165.1,598.3 165.2,598.0 165.4,597.6 165.6,597.3 165.8,597.1 166.0,597.0 166.1,596.9 166.3,596.7 166.5,596.4 166.7,596.2 166.9,595.9 167.1,595.6 167.2,595.3 167.4,595.0 167.6,594.7 167.8,594.3 168.0,594.1 168.2,593.9 168.4,593.8 168.6,593.7 168.8,593.5 169.0,593.2 169.2,593.0 169.4,592.7 169.5,592.4 169.7,592.1 169.9,591.8 170.1,591.5 170.3,591.1 170.5,590.9 170.7,590.7 170.9,590.6 171.1,590.5 171.3,590.4 171.5,590.1 171.7,589.8 171.9,589.6 172.1,589.3 172.4,589.0 172.6,588.7 172.8,588.4 173.0,588.1 173.2,587.9 173.4,587.7 173.6,587.6 173.8,587.6 174.0,587.4 174.2,587.2 174.4,586.9 174.6,586.6 174.9,586.3 175.1,586.1 175.3,585.7 175.5,585.4 175.7,585.0 175.9,584.8 176.1,584.7 176.4,584.7 176.6,584.6 176.8,584.5 177.0,584.2 177.2,583.9 177.5,583.7 177.7,583.4 177.9,583.2 178.1,582.9 178.3,582.5 178.6,582.2 178.8,582.0 179.0,581.9 179.2,581.9 179.5,581.8 179.7,581.6 179.9,581.4 180.1,581.1 180.4,580.8 180.6,580.6 180.8,580.3 181.1,580.0 181.3,579.7 181.5,579.5 181.8,579.3 182.0,579.2 182.2,579.1 182.5,579.0 182.7,578.8 182.9,578.6 183.2,578.3 183.4,578.1 183.6,577.9 183.9,577.6 184.1,577.3 184.3,577.0 184.6,576.7 184.8,576.6 185.1,576.5 185.3,576.5 185.5,576.3 185.8,576.1 186.0,575.9 186.3,575.6 186.5,575.4 186.8,575.2 187.0,574.9 187.2,574.6 187.5,574.3 187.7,574.1 188.0,574.0 188.2,573.9 188.5,573.9 188.7,573.8 189.0,573.5 189.2,573.3 189.5,573.0 189.7,572.8 190.0,572.5 190.2,572.2 190.5,571.8 190.7,571.6 191.0,571.4 191.2,571.4 191.5,571.4 191.7,571.3 192.0,571.1 192.2,570.8 192.5,570.6 192.7,570.4 193.0,570.1 193.3,569.9 193.5,569.6 193.8,569.3 194.0,569.1 194.3,569.0 194.5,569.0 194.8,568.9 195.0,568.7 195.3,568.5 195.6,568.3 195.8,568.0 196.1,567.8 196.3,567.6 196.6,567.3 196.8,567.0 197.1,566.7 197.3,566.6 197.6,566.6 197.8,566.5 198.1,566.3 198.4,566.1 198.6,565.9 198.9,565.7 199.1,565.5 199.4,565.3 199.6,565.1 199.9,564.8 200.1,564.6 200.4,564.4 200.6,564.2 200.9,564.2 201.1,564.0 201.4,563.8 201.6,563.6 201.8,563.4 202.1,563.2 202.3,563.0 202.6,562.8 202.8,562.6 203.1,562.5 203.3,562.3 203.5,562.1 203.8,561.9 204.0,561.7 204.3,561.7 204.5,561.6 204.7,561.4 205.0,561.2 205.2,560.9 205.4,560.7 205.6,560.5 205.9,560.3 206.1,560.0 206.3,559.7 206.6,559.5 206.8,559.3 207.0,559.3 207.2,559.3 207.4,559.2 207.7,559.1 207.9,558.9 208.1,558.7 208.3,558.4 208.5,558.2 208.8,558.0 209.0,557.8 209.2,557.5 209.4,557.2 209.6,557.0 209.9,556.9 210.1,556.8 210.3,556.8 210.6,556.7 210.8,556.6 211.0,556.4 211.3,556.2 211.5,556.0 211.8,555.8 212.0,555.6 212.3,555.4 212.5,555.1 212.8,554.9 213.1,554.7 213.4,554.6 213.6,554.6 213.9,554.6 214.2,554.5 214.5,554.3 214.8,554.0 215.1,553.8 215.4,553.6 215.8,553.3 216.1,552.9 216.4,552.6 216.8,552.5 217.1,552.7 217.5,552.6 217.9,552.4 218.3,552.2 218.6,552.0 219.0,551.9 219.4,551.6 219.8,551.4 220.2,551.2 220.6,551.1 221.0,551.1 221.4,551.1 221.8,550.9 222.2,550.7 222.6,550.5 223.0,550.3 223.4,550.1 223.8,549.9 224.2,549.8 224.6,549.9 224.9,549.9 225.3,549.9 225.6,549.8 226.0,549.7 226.3,549.6 226.6,549.6 226.9,549.5 227.2,549.4 227.4,549.3 227.7,549.3 227.9,549.3 228.1,549.3 228.3,549.5 228.5,549.6 228.6,549.8 228.8,550.0 228.9,550.1 229.0,550.3 229.0,550.4 229.0,550.6 229.0,550.7 229.0,550.9 229.0,551.0 228.9,551.2 228.8,551.4 228.7,551.6 228.6,551.8 228.5,551.9 228.4,552.1 228.2,552.3 228.1,552.7 227.9,553.1 227.7,553.6 227.6,554.0 227.4,554.2 227.2,554.4 227.0,554.6 226.8,554.9 226.6,555.1 226.4,555.2 226.2,555.3 226.0,555.5 225.8,555.9 225.6,556.4 225.4,556.8 225.2,557.2 225.0,557.4 224.7,557.6 224.5,557.9 224.3,558.1 224.1,558.3 223.9,558.5 223.6,558.7 223.4,558.9 223.2,559.3 223.0,559.7 222.8,560.1 222.5,560.4 222.3,560.6 222.1,560.8 221.9,561.0 221.7,561.3 221.5,561.4 221.2,561.6 221.0,561.8 220.8,562.0 220.6,562.4 220.4,562.8 220.2,563.1 220.0,563.4 219.8,563.6 219.5,563.8 219.3,564.0 219.1,564.3 218.9,564.5 218.7,564.7 218.5,564.8 218.3,565.1 218.1,565.4 217.9,565.7 217.7,566.0 217.5,566.2 217.3,566.5 217.0,566.7 216.8,566.9 216.6,567.1 216.4,567.4 216.2,567.6 216.0,567.8 215.8,568.0 215.6,568.2 215.4,568.5 215.2,568.8 215.0,569.1 214.8,569.4 214.6,569.6 214.4,569.8 214.2,570.0 214.0,570.2 213.8,570.4 213.6,570.5 213.4,570.7 213.2,570.8 213.0,571.1 212.8,571.4 212.6,571.7 212.3,572.0 212.1,572.3 211.9,572.5 211.7,572.7 211.5,572.9 211.3,573.1 211.1,573.3 210.9,573.4 210.7,573.6 210.5,573.7 210.3,573.9 210.1,574.2 209.9,574.5 209.7,574.9 209.5,575.2 209.3,575.5 209.1,575.6 208.9,575.8 208.7,576.0 208.4,576.1 208.2,576.3 208.0,576.4 207.8,576.5 207.6,576.6 207.4,576.9 207.2,577.3 207.0,577.7 206.8,578.1 206.6,578.3 206.3,578.5 206.1,578.6 205.9,578.8 205.7,579.0 205.5,579.2 205.3,579.3 205.1,579.3 204.8,579.5 204.6,579.8 204.4,580.2 204.2,580.5 204.0,580.8 203.8,581.1 203.5,581.3 203.3,581.4 203.1,581.6 202.9,581.8 202.7,582.0 202.4,582.2 202.2,582.3 202.0,582.5 201.8,582.8 201.5,583.1 201.3,583.4 201.1,583.7 200.9,584.0 200.6,584.1 200.4,584.3 200.2,584.5 200.0,584.7 199.7,584.9 199.5,585.0 199.3,585.2 199.1,585.4 198.8,585.7 198.6,586.1 198.4,586.3 198.1,586.6 197.9,586.8 197.7,587.0 197.4,587.2 197.2,587.4 197.0,587.6 196.7,587.8 196.5,587.9 196.3,588.1 196.1,588.4 195.8,588.7 195.6,589.0 195.4,589.2 195.1,589.5 194.9,589.7 194.7,589.9 194.4,590.1 194.2,590.3 193.9,590.5 193.7,590.6 193.5,590.8 193.2,591.1 193.0,591.3 192.8,591.6 192.5,591.9 192.3,592.1 192.1,592.3 191.8,592.5 191.6,592.7 191.4,593.0 191.1,593.2 190.9,593.3 190.6,593.5 190.4,593.7 190.2,594.0 189.9,594.3 189.7,594.7 189.5,595.0 189.2,595.2 189.0,595.3 188.7,595.5 188.5,595.7 188.3,595.8 188.0,595.9 187.8,595.9 187.6,596.1 187.3,596.3 187.1,596.8 186.8,597.1 186.6,597.4 186.4,597.7 186.1,597.8 185.9,598.0 185.7,598.2 185.4,598.4 185.2,598.6 184.9,598.7 184.7,598.9 184.5,599.1 184.2,599.3 184.0,599.7 183.8,600.0 183.5,600.2 183.3,600.4 183.0,600.6 182.8,600.8 182.6,601.0 182.3,601.1 182.1,601.3 181.9,601.4 181.6,601.6 181.4,601.8 181.2,602.1 180.9,602.4 180.7,602.7 180.4,602.9 180.2,603.1 180.0,603.2 179.7,603.4 179.5,603.6 179.3,603.8 179.0,604.0 178.8,604.1 178.6,604.3 178.3,604.5 178.1,604.8 177.9,605.1 177.6,605.4 177.4,605.6 177.2,605.8 177.0,605.9 176.7,606.1 176.5,606.3 176.3,606.4 176.0,606.5 175.8,606.6 175.6,606.7 175.3,606.9 175.1,607.2 174.9,607.6 174.7,607.8 174.4,608.0 174.2,608.2 174.0,608.4 173.8,608.5 173.5,608.7 173.3,608.9 173.1,609.1 172.9,609.2 172.6,609.4 172.4,609.5 172.2,609.7 172.0,610.0 171.7,610.2 171.5,610.5 171.3,610.7 171.1,610.9 170.8,611.0 170.6,611.2 170.4,611.3 170.2,611.5 169.9,611.6 169.7,611.7 169.5,611.9 169.3,612.1 169.1,612.3 168.8,612.6 168.6,612.9 168.4,613.2 168.2,613.4 167.9,613.5 167.7,613.7 167.5,613.9 167.2,614.1 167.0,614.3 166.8,614.4 166.6,614.6 166.3,614.8 166.1,615.1 165.9,615.4 165.6,615.7 165.4,616.0 165.2,616.2 164.9,616.4 164.7,616.6 164.5,616.8 164.2,617.0 164.0,617.2 163.7,617.3 163.5,617.5 163.3,617.9 163.0,618.4 162.8,618.7 162.5,619.0 162.3,619.2 162.0,619.5 161.8,619.8 161.5,620.0 161.3,620.2 161.0,620.4 160.8,620.7 160.5,621.2 160.2,621.5 160.0,621.9 159.7,622.1 159.5,622.4 159.2,622.6 159.0,622.9 158.7,623.1 158.5,623.3 158.2,623.5 158.0,623.8 157.7,624.1 157.5,624.5 157.3,624.7 157.0,624.9 156.8,625.0 156.5,625.2 156.3,625.3 156.1,625.4 155.9,625.5 155.6,625.5 155.4,625.5 155.2,625.5 155.0,625.5 154.8,625.5 154.6,625.5 154.4,625.5 154.2,625.5" fill="none" stroke="#008000" stroke-width="1.5" stroke-linejoin="round" />
<polyline points="129.0,640.4 128.8,640.4 128.6,640.3 128.4,639.9 128.3,639.5 128.3,639.0 128.2,638.4 128.2,637.7 128.2,637.0 128.2,636.7 128.3,636.5 128.4,635.9 128.5,635.3 128.6,634.6 128.7,633.9 128.8,633.2 128.9,632.9 129.1,632.6 129.2,632.1 129.4,631.5 129.5,630.9 129.7,630.2 129.9,629.5 130.0,629.1 130.2,628.9 130.4,628.7 130.5,628.1 130.7,627.5 130.9,627.0 131.1,626.3 131.3,625.6 131.5,625.3 131.7,625.2 131.9,625.0 132.1,624.5 132.3,623.9 132.5,623.5 132.7,622.9 132.9,622.2 133.1,621.8 133.4,621.7 133.6,621.4 133.8,621.0 134.0,620.5 134.3,620.1 134.5,619.6 134.7,619.1 134.9,618.6 135.2,618.3 135.4,618.1 135.7,617.8 135.9,617.3 136.1,616.8 136.4,616.4 136.6,615.8 136.9,615.2 137.1,614.9 137.4,614.7 137.6,614.4 137.9,614.0 138.1,613.6 138.4,613.1 138.6,612.7 138.9,612.1 139.1,611.7 139.4,611.4 139.7,611.2 139.9,610.8 140.2,610.4 140.5,609.9 140.7,609.5 141.0,609.0 141.3,608.5 141.5,608.1 141.8,608.0 142.1,607.7 142.4,607.3 142.6,606.8 142.9,606.4 143.2,605.9 143.5,605.3 143.8,604.9 144.1,604.8 144.3,604.5 144.6,604.1 144.9,603.7 145.2,603.3 145.5,602.8 145.8,602.3 146.1,601.8 146.4,601.6 146.7,601.5 147.0,601.2 147.3,600.7 147.6,600.2 147.9,599.8 148.2,599.2 148.5,598.7 148.8,598.5 149.1,598.4 149.4,598.1 149.7,597.7 150.0,597.2 150.4,596.8 150.7,596.3 151.0,595.8 151.3,595.5 151.6,595.3 151.9,595.1 152.3,594.7 152.6,594.3 152.9,593.9 153.2,593.4 153.5,592.9 153.9,592.5 154.2,592.4 154.5,592.2 154.8,591.8 155.2,591.4 155.5,591.0 155.8,590.5 156.2,590.0 156.5,589.6 156.8,589.5 157.2,589.3 157.5,589.0 157.8,588.6 158.2,588.2 158.5,587.7 158.9,587.2 159.2,586.8 159.5,586.6 159.9,586.5 160.2,586.3 160.6,585.8 160.9,585.4 161.3,585.0 161.6,584.4 162.0,584.0 162.3,583.8 162.7,583.7 163.0,583.4 163.4,583.0 163.7,582.7 164.1,582.3 164.4,581.8 164.8,581.4 165.2,581.1 165.5,581.0 165.9,580.8 166.2,580.4 166.6,580.0 167.0,579.6 167.3,579.2 167.7,578.7 168.1,578.4 168.4,578.3 168.8,578.1 169.2,577.8 169.5,577.4 169.9,577.1 170.3,576.7 170.6,576.3 171.0,575.9 171.4,575.7 171.7,575.4 172.1,575.1 172.5,574.8 172.9,574.5 173.2,574.2 173.6,573.9 174.0,573.5 174.4,573.2 174.8,573.1 175.1,572.8 175.5,572.5 175.9,572.1 176.3,571.7 176.7,571.3 177.0,570.8 177.4,570.7 177.8,570.6 178.2,570.4 178.6,570.1 179.0,569.7 179.4,569.4 179.7,568.9 180.1,568.5 180.5,568.2 180.9,568.2 181.3,568.0 181.7,567.7 182.1,567.3 182.5,567.0 182.9,566.7 183.3,566.3 183.7,566.0 184.1,565.9 184.5,565.9 184.8,565.6 185.2,565.2 185.6,564.8 186.0,564.4 186.4,563.9 186.8,563.5 187.2,563.5 187.6,563.4 188.0,563.2 188.4,562.9 188.8,562.6 189.2,562.3 189.6,561.9 190.0,561.6 190.4,561.4 190.9,561.3 191.3,561.1 191.7,560.8 192.1,560.5 192.5,560.2 192.9,559.8 193.3,559.4 193.7,559.2 194.1,559.2 194.5,559.0 194.9,558.7 195.3,558.4 195.7,558.1 196.2,557.8 196.6,557.4 197.0,557.2 197.4,557.1 197.8,557.1 198.2,556.9 198.6,556.5 199.0,556.2 199.4,555.8 199.9,555.4 200.3,555.1 200.7,555.0 201.1,555.1 201.5,554.9 201.9,554.6 202.3,554.3 202.8,554.0 203.2,553.6 203.6,553.2 204.0,553.0 204.4,553.1 204.8,553.0 205.3,552.7 205.7,552.4 206.1,552.2 206.5,551.9 206.9,551.5 207.4,551.3 207.8,551.2 208.2,551.2 208.6,551.0 209.0,550.7 209.5,550.5 209.9,550.2 210.3,549.8 210.7,549.5 211.1,549.4 211.6,549.4 212.0,549.2 212.4,549.0 212.8,548.7 213.3,548.5 213.7,548.2 214.1,547.9 214.6,547.7 215.0,547.7 215.4,547.5 215.8,547.3 216.3,547.1 216.7,546.9 217.1,546.7 217.6,546.4 218.0,546.2 218.4,546.1 218.9,546.0 219.3,545.9 219.7,545.6 220.2,545.4 220.6,545.2 221.1,544.9 221.5,544.6 221.9,544.4 222.4,544.4 222.8,544.4 223.3,544.2 223.7,543.9 224.2,543.7 224.6,543.4 225.1,543.1 225.5,542.9 226.0,542.9 226.4,543.0 226.9,542.8 227.3,542.5 227.8,542.3 228.2,542.0 228.7,541.7 229.2,541.4 229.6,541.4 230.1,541.5 230.5,541.5 231.0,541.2 231.5,541.0 231.9,540.7 232.4,540.3 232.9,540.1 233.4,540.1 233.8,540.1 234.3,540.0 234.8,539.8 235.3,539.6 235.7,539.4 236.2,539.1 236.7,538.9 237.2,538.8 237.7,538.9 238.2,538.8 238.6,538.5 239.1,538.3 239.6,538.1 240.1,537.8 240.6,537.6 241.1,537.7 241.6,537.6 242.1,537.5 242.6,537.3 243.1,537.1 243.6,536.9 244.1,536.6 244.6,536.5 245.1,536.5 245.7,536.4 246.2,536.3 246.7,536.1 247.2,535.9 247.7,535.7 248.2,535.5 248.8,535.5 249.3,535.5 249.8,535.4 250.3,535.3 250.8,535.2 251.3,535.2 251.8,535.1 252.2,535.1 252.7,535.3 253.2,535.6 253.6,535.8 254.0,535.9 254.3,536.0 254.6,536.2 254.8,536.4 255.0,536.5 255.1,536.7 255.1,536.9 255.0,537.4 254.9,538.0 254.8,538.5 254.5,538.9 254.3,539.3 254.0,539.6 253.6,540.0 253.3,540.3 252.9,540.7 252.5,541.2 252.1,541.7 251.6,542.1 251.2,542.4 250.7,542.6 250.3,542.8 249.8,543.1 249.4,543.6 248.9,544.0 248.4,544.3 248.0,544.6 247.5,544.9 247.1,545.1 246.6,545.3 246.2,545.7 245.7,546.2 245.3,546.5 244.9,546.7 244.5,547.0 244.1,547.2 243.7,547.3 243.3,547.6 242.9,548.1 242.6,548.5 242.2,548.8 241.8,549.1 241.4,549.4 241.1,549.6 240.7,549.9 240.4,550.1 240.0,550.5 239.6,550.9 239.3,551.3 238.9,551.5 238.5,551.7 238.1,552.0 237.7,552.2 237.4,552.3 237.0,552.6 236.6,553.0 236.2,553.4 235.8,553.7 235.4,553.9 235.0,554.1 234.7,554.4 234.3,554.5 233.9,554.7 233.5,555.0 233.1,555.4 232.7,555.8 232.3,556.0 231.9,556.2 231.5,556.4 231.1,556.6 230.7,556.7 230.3,556.9 229.8,557.3 229.4,557.7 229.0,558.0 228.6,558.2 228.2,558.4 227.8,558.6 227.4,558.7 227.0,558.9 226.6,559.2 226.2,559.6 225.8,559.9 225.4,560.1 225.0,560.3 224.5,560.5 224.1,560.7 223.7,560.9 223.3,561.1 222.9,561.5 222.5,561.9 222.1,562.1 221.7,562.3 221.3,562.5 220.9,562.7 220.5,562.8 220.1,563.0 219.7,563.4 219.3,563.8 218.9,564.2 218.5,564.4 218.1,564.6 217.7,564.8 217.3,565.0 216.9,565.1 216.5,565.4 216.2,565.8 215.8,566.3 215.4,566.6 215.0,566.8 214.6,567.0 214.2,567.2 213.8,567.3 213.5,567.5 213.1,568.0 212.7,568.5 212.3,568.8 211.9,569.0 211.6,569.3 211.2,569.5 210.8,569.7 210.4,569.8 210.1,570.1 209.7,570.7 209.3,571.1 208.9,571.3 208.6,571.6 208.2,571.8 207.8,572.1 207.4,572.3 207.1,572.5 206.7,572.9 206.3,573.4 206.0,573.7 205.6,574.0 205.2,574.3 204.9,574.5 204.5,574.7 204.1,574.9 203.8,575.3 203.4,575.8 203.1,576.2 202.7,576.4 202.3,576.7 202.0,577.0 201.6,577.2 201.2,577.4 200.9,577.7 200.5,578.2 200.2,578.6 199.8,579.0 199.4,579.2 199.1,579.5 198.7,579.8 198.4,580.0 198.0,580.2 197.6,580.6 197.3,581.1 196.9,581.5 196.6,581.8 196.2,582.0 195.8,582.3 195.5,582.6 195.1,582.8 194.8,583.1 194.4,583.6 194.0,584.0 193.7,584.3 193.3,584.6 193.0,584.9 192.6,585.2 192.3,585.4 191.9,585.7 191.5,586.1 191.2,586.6 190.8,587.0 190.5,587.2 190.1,587.5 189.7,587.7 189.4,587.9 189.0,588.2 188.7,588.6 188.3,589.1 187.9,589.5 187.6,589.8 187.2,590.0 186.8,590.3 186.5,590.5 186.1,590.8 185.8,591.2 185.4,591.6 185.0,592.0 184.7,592.3 184.3,592.6 183.9,592.9 183.6,593.2 183.2,593.4 182.8,593.8 182.5,594.2 182.1,594.7 181.8,595.0 181.4,595.2 181.0,595.5 180.7,595.7 180.3,595.9 179.9,596.2 179.6,596.7 179.2,597.1 178.8,597.5 178.5,597.8 178.1,598.0 177.7,598.3 177.4,598.5 177.0,598.8 176.6,599.2 176.3,599.7 175.9,600.1 175.5,600.4 175.2,600.6 174.8,600.9 174.4,601.1 174.1,601.3 173.7,601.7 173.4,602.3 173.0,602.7 172.6,603.0 172.3,603.2 171.9,603.5 171.5,603.7 171.2,603.8 170.8,604.2 170.4,604.8 170.1,605.3 169.7,605.6 169.3,605.8 169.0,606.1 168.6,606.3 168.2,606.5 167.9,606.8 167.5,607.3 167.1,607.9 166.8,608.2 166.4,608.4 166.0,608.7 165.7,608.9 165.3,609.0 165.0,609.3 164.6,609.9 164.2,610.3 163.9,610.7 163.5,611.0 163.1,611.3 162.8,611.6 162.4,611.8 162.1,612.1 161.7,612.5 161.3,613.0 161.0,613.4 160.6,613.6 160.2,613.9 159.9,614.2 159.5,614.4 159.2,614.6 158.8,615.0 158.4,615.5 158.1,615.9 157.7,616.2 157.4,616.5 157.0,616.8 156.6,617.1 156.3,617.3 155.9,617.6 155.6,618.1 155.2,618.6 154.9,618.9 154.5,619.2 154.1,619.5 153.8,619.7 153.4,620.0 153.1,620.3 152.7,620.7 152.4,621.2 152.0,621.6 151.7,621.8 151.3,622.1 150.9,622.4 150.6,622.6 150.2,622.9 149.9,623.4 149.5,623.9 149.2,624.2 148.8,624.5 148.5,624.8 148.1,625.1 147.8,625.3 147.4,625.6 147.1,626.0 146.7,626.5 146.4,627.0 146.0,627.2 145.7,627.5 145.3,627.8 145.0,628.0 144.6,628.2 144.3,628.6 143.9,629.1 143.6,629.6 143.2,629.9 142.9,630.2 142.5,630.5 142.2,630.8 141.8,631.0 141.4,631.3 141.1,631.8 140.7,632.3 140.4,632.6 140.0,632.9 139.6,633.1 139.2,633.4 138.9,633.5 138.5,633.8 138.1,634.3 137.7,634.9 137.4,635.2 137.0,635.4 136.6,635.7 136.2,635.9 135.8,636.1 135.4,636.3 135.0,636.8 134.6,637.3 134.2,637.6 133.8,637.8 133.4,638.1 132.9,638.4 132.5,638.6 132.1,638.9 131.7,639.3 131.2,639.8 130.8,640.0 130.4,640.2 130.0,640.3 129.6,640.3 129.3,640.2 129.0,640.1" fill="none" stroke="#ff0000" stroke-width="1.5" stroke-linejoin="round" />
<polyline points="104.5,653.4 104.2,653.4 103.9,653.0 103.6,652.5 103.4,651.9 103.3,651.2 103.1,650.3 103.1,649.9 103.0,649.5 103.0,648.7 103.0,647.8 103.1,646.9 103.1,646.1 103.2,645.7 103.3,645.0 103.4,644.1 103.5,643.3 103.7,642.4 103.8,642.0 104.0,641.6 104.2,640.8 104.4,640.1 104.6,639.1 104.8,638.3 105.1,638.1 105.3,637.8 105.6,637.0 105.8,636.4 106.1,635.5 106.4,634.7 106.7,634.5 107.0,634.1 107.3,633.5 107.6,632.9 107.9,632.2 108.2,631.6 108.5,631.1 108.9,630.8 109.2,630.2 109.5,629.6 109.8,628.9 110.2,628.1 110.5,627.6 110.8,627.4 111.2,626.9 111.5,626.2 111.8,625.6 112.2,624.9 112.5,624.4 112.9,624.1 113.2,623.6 113.5,623.0 113.9,622.4 114.2,621.7 114.6,621.1 114.9,620.7 115.3,620.4 115.7,619.8 116.0,619.2 116.4,618.5 116.7,617.8 117.1,617.5 117.5,617.2 117.8,616.6 118.2,616.0 118.6,615.3 119.0,614.6 119.3,614.2 119.7,614.0 120.1,613.5 120.5,612.8 120.8,612.2 121.2,611.4 121.6,611.0 122.0,610.8 122.4,610.3 122.8,609.7 123.2,609.1 123.6,608.3 124.0,607.8 124.4,607.6 124.8,607.2 125.2,606.6 125.6,606.0 126.0,605.3 126.4,604.8 126.8,604.5 127.2,604.1 127.6,603.5 128.0,603.0 128.4,602.3 128.8,601.7 129.2,601.5 129.7,601.1 130.1,600.5 130.5,600.0 130.9,599.3 131.3,598.7 131.8,598.4 132.2,598.2 132.6,597.6 133.0,597.0 133.5,596.3 133.9,595.6 134.3,595.4 134.8,595.1 135.2,594.6 135.7,594.1 136.1,593.5 136.5,592.8 137.0,592.5 137.4,592.3 137.9,591.7 138.3,591.2 138.8,590.6 139.2,589.9 139.7,589.6 140.1,589.3 140.6,588.8 141.0,588.3 141.5,587.8 141.9,587.2 142.4,586.8 142.9,586.4 143.3,586.0 143.8,585.5 144.3,585.0 144.7,584.5 145.2,584.1 145.7,583.8 146.1,583.4 146.6,582.8 147.1,582.3 147.6,581.6 148.0,581.2 148.5,581.1 149.0,580.7 149.5,580.1 150.0,579.6 150.4,579.0 150.9,578.5 151.4,578.3 151.9,578.0 152.4,577.5 152.9,577.0 153.4,576.4 153.9,575.9 154.3,575.7 154.8,575.6 155.3,575.0 155.8,574.5 156.3,573.8 156.8,573.2 157.3,573.1 157.8,572.8 158.3,572.3 158.8,571.9 159.4,571.4 159.9,570.9 160.4,570.6 160.9,570.4 161.4,569.9 161.9,569.4 162.4,568.9 162.9,568.4 163.4,568.1 164.0,567.9 164.5,567.5 165.0,567.0 165.5,566.5 166.0,566.0 166.6,565.7 167.1,565.6 167.6,565.2 168.1,564.7 168.7,564.2 169.2,563.5 169.7,563.3 170.2,563.3 170.8,562.9 171.3,562.4 171.8,561.9 172.4,561.3 172.9,561.0 173.4,561.0 174.0,560.6 174.5,560.2 175.1,559.7 175.6,559.2 176.1,558.8 176.7,558.7 177.2,558.5 177.8,558.0 178.3,557.6 178.9,557.1 179.4,556.6 180.0,556.6 180.5,556.3 181.1,555.9 181.6,555.5 182.2,555.1 182.7,554.6 183.3,554.5 183.8,554.2 184.4,553.8 184.9,553.5 185.5,553.1 186.1,552.7 186.6,552.4 187.2,552.3 187.7,551.9 188.3,551.5 188.9,551.1 189.4,550.6 190.0,550.4 190.6,550.4 191.1,550.0 191.7,549.6 192.3,549.2 192.8,548.7 193.4,548.5 194.0,548.5 194.6,548.2 195.1,547.8 195.7,547.4 196.3,546.8 196.9,546.6 197.4,546.6 198.0,546.4 198.6,546.0 199.2,545.6 199.8,545.1 200.3,544.7 200.9,544.8 201.5,544.6 202.1,544.2 202.7,543.9 203.3,543.5 203.8,543.1 204.4,543.0 205.0,542.9 205.6,542.6 206.2,542.2 206.8,541.8 207.4,541.4 208.0,541.4 208.6,541.2 209.1,540.9 209.7,540.6 210.3,540.3 210.9,539.9 211.5,539.7 212.1,539.6 212.7,539.3 213.3,539.0 213.9,538.7 214.5,538.4 215.1,538.2 215.7,538.0 216.3,537.8 216.9,537.5 217.5,537.2 218.1,536.9 218.7,536.7 219.3,536.7 219.9,536.5 220.5,536.1 221.1,535.8 221.7,535.2 222.4,535.0 223.0,535.1 223.6,535.0 224.2,534.6 224.8,534.4 225.4,534.0 226.0,533.7 226.6,533.7 227.2,533.6 227.8,533.3 228.5,533.0 229.1,532.7 229.7,532.4 230.3,532.4 230.9,532.2 231.5,531.9 232.1,531.7 232.8,531.4 233.4,531.1 234.0,531.0 234.6,531.1 235.2,530.8 235.9,530.5 236.5,530.1 237.1,529.7 237.7,529.7 238.3,529.7 239.0,529.4 239.6,529.2 240.2,529.0 240.8,528.7 241.4,528.6 242.1,528.5 242.7,528.3 243.3,528.1 243.9,527.8 244.6,527.4 245.2,527.3 245.8,527.4 246.4,527.2 247.1,526.9 247.7,526.7 248.3,526.4 248.9,526.2 249.6,526.3 250.2,526.2 250.8,525.9 251.4,525.6 252.1,525.3 252.7,525.1 253.3,525.2 253.9,525.1 254.6,524.9 255.2,524.6 255.8,524.4 256.4,524.1 257.1,524.2 257.7,524.1 258.3,523.9 258.9,523.7 259.5,523.5 260.2,523.2 260.8,523.2 261.4,523.2 262.0,523.0 262.6,522.8 263.2,522.6 263.9,522.3 264.5,522.2 265.1,522.4 265.8,522.3 266.5,522.1 267.1,521.9 267.8,521.6 268.5,521.7 269.3,521.9 270.0,521.8 270.8,521.8 271.6,521.6 272.4,521.6 273.2,522.0 274.0,522.0 274.8,522.0 275.6,521.9 276.3,522.0 277.0,522.4 277.6,522.7 278.2,522.8 278.8,523.0 279.2,523.1 279.6,523.3 279.9,523.7 280.1,524.1 280.2,524.6 280.1,525.0 280.0,525.4 279.8,525.8 279.5,526.2 279.1,526.5 278.7,526.8 278.2,527.5 277.7,528.1 277.1,528.4 276.5,528.8 275.8,529.1 275.2,529.5 274.5,530.1 273.8,530.4 273.1,530.8 272.3,530.9 271.6,531.3 270.9,531.9 270.2,532.2 269.6,532.5 268.9,532.7 268.3,532.9 267.7,533.4 267.1,533.7 266.5,534.0 265.9,534.3 265.3,534.5 264.8,534.7 264.2,535.1 263.7,535.6 263.1,535.8 262.6,536.0 262.0,536.2 261.5,536.3 260.9,536.6 260.4,537.1 259.8,537.5 259.3,537.7 258.7,537.9 258.1,538.0 257.6,538.3 257.0,538.7 256.4,539.1 255.9,539.3 255.3,539.6 254.7,539.8 254.1,540.0 253.5,540.4 253.0,540.9 252.4,541.1 251.8,541.3 251.2,541.5 250.6,541.5 250.0,542.0 249.4,542.5 248.8,542.8 248.2,543.0 247.6,543.2 247.1,543.4 246.5,543.7 245.9,544.3 245.3,544.5 244.7,544.8 244.1,545.0 243.5,545.1 242.9,545.5 242.3,546.1 241.7,546.4 241.1,546.6 240.6,546.8 240.0,546.8 239.4,547.2 238.8,547.9 238.2,548.2 237.6,548.4 237.1,548.6 236.5,548.8 235.9,549.1 235.3,549.8 234.8,550.1 234.2,550.3 233.6,550.6 233.0,550.6 232.5,551.0 231.9,551.6 231.3,552.0 230.8,552.2 230.2,552.5 229.6,552.8 229.1,553.1 228.5,553.6 228.0,554.1 227.4,554.3 226.8,554.6 226.3,554.7 225.7,555.0 225.2,555.6 224.6,556.1 224.1,556.4 223.5,556.7 223.0,556.9 222.4,557.2 221.9,557.7 221.3,558.2 220.8,558.5 220.3,558.8 219.7,559.1 219.2,559.3 218.6,559.8 218.1,560.3 217.5,560.6 217.0,561.0 216.5,561.2 215.9,561.5 215.4,561.9 214.9,562.5 214.3,562.9 213.8,563.2 213.3,563.5 212.7,563.7 212.2,564.1 211.7,564.7 211.2,565.1 210.6,565.4 210.1,565.7 209.6,565.9 209.0,566.3 208.5,566.9 208.0,567.4 207.5,567.7 207.0,568.0 206.4,568.3 205.9,568.7 205.4,569.2 204.9,569.8 204.4,570.1 203.8,570.4 203.3,570.6 202.8,570.8 202.3,571.5 201.8,572.1 201.3,572.4 200.7,572.8 200.2,573.0 199.7,573.2 199.2,573.8 198.7,574.4 198.2,574.7 197.7,575.1 197.2,575.5 196.6,575.8 196.1,576.2 195.6,576.9 195.1,577.3 194.6,577.6 194.1,577.9 193.6,578.0 193.1,578.4 192.6,579.3 192.1,579.8 191.6,580.0 191.1,580.3 190.6,580.4 190.1,580.8 189.6,581.6 189.1,582.2 188.6,582.5 188.1,582.8 187.5,583.0 187.0,583.3 186.5,584.0 186.0,584.6 185.5,584.9 185.0,585.3 184.5,585.5 184.0,585.8 183.5,586.4 183.0,587.0 182.5,587.4 182.0,587.7 181.5,588.1 181.0,588.4 180.5,588.9 180.0,589.6 179.5,589.9 179.0,590.3 178.5,590.6 178.0,590.7 177.5,591.3 177.0,592.0 176.5,592.4 176.0,592.7 175.5,593.1 175.1,593.4 174.6,593.8 174.1,594.5 173.6,595.0 173.1,595.3 172.6,595.6 172.1,595.8 171.6,596.2 171.1,597.0 170.6,597.5 170.1,597.8 169.6,598.1 169.1,598.4 168.6,598.7 168.1,599.4 167.6,600.0 167.1,600.3 166.6,600.7 166.1,600.9 165.6,601.2 165.1,601.9 164.6,602.5 164.1,602.9 163.6,603.2 163.1,603.5 162.6,603.8 162.1,604.4 161.6,605.1 161.1,605.4 160.6,605.8 160.1,606.0 159.6,606.3 159.1,606.9 158.6,607.5 158.1,607.9 157.6,608.3 157.1,608.6 156.6,608.9 156.1,609.4 155.7,610.2 155.2,610.6 154.7,610.9 154.2,611.2 153.7,611.3 153.2,611.8 152.7,612.6 152.2,613.1 151.7,613.4 151.2,613.7 150.7,614.0 150.2,614.4 149.7,615.1 149.2,615.6 148.7,616.0 148.2,616.3 147.8,616.6 147.3,616.9 146.8,617.7 146.3,618.3 145.8,618.6 145.3,618.9 144.8,619.1 144.3,619.4 143.8,620.2 143.3,620.7 142.9,621.1 142.4,621.5 141.9,621.8 141.4,622.2 140.9,622.7 140.4,623.3 139.9,623.6 139.4,624.0 139.0,624.4 138.5,624.8 138.0,625.3 137.5,626.0 137.0,626.3 136.5,626.7 136.0,627.0 135.6,627.2 135.1,627.7 134.6,628.4 134.1,628.9 133.6,629.2 133.1,629.6 132.7,630.0 132.2,630.4 131.7,631.1 131.2,631.6 130.7,631.9 130.3,632.3 129.8,632.4 129.3,632.8 128.8,633.6 128.4,634.1 127.9,634.5 127.4,634.9 126.9,635.2 126.4,635.5 126.0,636.2 125.5,636.7 125.0,637.1 124.5,637.5 124.1,637.9 123.6,638.2 123.1,638.8 122.7,639.5 122.2,639.9 121.7,640.2 121.2,640.5 120.8,640.6 120.3,641.3 119.9,642.1 119.4,642.6 118.9,642.9 118.5,643.2 118.0,643.4 117.6,644.0 117.1,644.8 116.7,645.4 116.2,645.7 115.8,646.1 115.3,646.3 114.9,646.8 114.4,647.7 113.9,648.2 113.4,648.6 112.9,649.0 112.4,649.2 111.9,649.8 111.3,650.6 110.7,651.0 110.1,651.4 109.5,651.7 108.8,652.1 108.2,652.8 107.6,653.2 107.0,653.3 106.4,653.4 105.9,653.3 105.4,653.2 104.9,653.3 104.5,653.4" fill="none" stroke="#00bfbf" stroke-width="1.5" stroke-linejoin="round" />
<polyline points="65.8,672.6 65.3,672.4 64.9,671.6 64.5,670.7 64.2,669.5 64.0,669.1 63.8,668.2 63.8,667.2 63.8,666.0 63.8,665.2 63.9,664.5 64.0,663.4 64.1,662.2 64.3,661.3 64.5,660.8 64.6,659.7 64.9,658.4 65.1,657.4 65.3,657.1 65.5,656.0 65.8,655.0 66.1,653.7 66.4,653.3 66.7,652.4 67.0,651.5 67.3,650.5 67.6,649.7 67.9,649.1 68.3,648.1 68.6,647.0 69.0,646.1 69.4,645.7 69.8,644.8 70.1,643.8 70.5,642.8 70.9,642.3 71.3,641.5 71.8,640.6 72.2,639.6 72.6,638.9 73.0,638.3 73.4,637.4 73.9,636.4 74.3,635.5 74.8,635.1 75.2,634.2 75.6,633.3 76.1,632.3 76.6,631.8 77.0,631.2 77.5,630.2 77.9,629.1 78.4,628.4 78.9,628.0 79.3,627.1 79.8,626.2 80.3,625.2 80.8,624.8 81.3,624.0 81.7,623.1 82.2,622.1 82.7,621.6 83.2,621.0 83.7,620.1 84.2,619.2 84.7,618.3 85.2,618.0 85.7,617.1 86.3,616.2 86.8,615.3 87.3,614.9 87.8,614.2 88.3,613.3 88.9,612.2 89.4,611.7 89.9,611.2 90.5,610.4 91.0,609.5 91.6,608.6 92.1,608.2 92.7,607.5 93.2,606.6 93.8,605.7 94.3,605.2 94.9,604.6 95.4,603.8 96.0,602.9 96.6,602.2 97.2,601.6 97.7,600.9 98.3,600.2 98.9,599.4 99.5,598.9 100.0,598.2 100.6,597.4 101.2,596.4 101.8,595.9 102.4,595.5 103.0,594.7 103.6,593.8 104.2,593.0 104.8,592.6 105.4,591.9 106.0,591.2 106.7,590.3 107.3,589.9 107.9,589.4 108.5,588.5 109.1,587.5 109.8,587.0 110.4,586.6 111.0,585.8 111.6,585.1 112.3,584.4 112.9,584.0 113.6,583.3 114.2,582.5 114.9,581.7 115.5,581.3 116.2,580.7 116.8,580.0 117.5,579.2 118.1,578.6 118.8,578.3 119.4,577.5 120.1,576.7 120.8,575.8 121.4,575.7 122.1,575.1 122.8,574.3 123.5,573.4 124.1,573.0 124.8,572.6 125.5,571.9 126.2,571.1 126.9,570.4 127.6,570.2 128.3,569.5 128.9,568.8 129.6,568.0 130.3,567.7 131.0,567.1 131.7,566.5 132.4,565.7 133.2,565.2 133.9,564.8 134.6,564.1 135.3,563.5 136.0,562.9 136.7,562.5 137.4,561.9 138.2,561.3 138.9,560.5 139.6,560.2 140.3,559.7 141.1,559.1 141.8,558.3 142.5,557.8 143.3,557.6 144.0,556.9 144.7,556.2 145.5,555.5 146.2,555.4 147.0,554.8 147.7,554.2 148.5,553.3 149.2,553.1 150.0,552.7 150.7,552.1 151.5,551.4 152.2,550.9 153.0,550.6 153.8,550.0 154.5,549.4 155.3,548.8 156.1,548.5 156.8,548.0 157.6,547.5 158.4,546.8 159.1,546.5 159.9,546.1 160.7,545.5 161.5,545.0 162.2,544.4 163.0,544.1 163.8,543.6 164.6,543.1 165.4,542.5 166.2,542.3 167.0,541.9 167.8,541.3 168.5,540.5 169.3,540.2 170.1,540.0 170.9,539.5 171.7,538.9 172.5,538.4 173.3,538.2 174.1,537.7 175.0,537.2 175.8,536.6 176.6,536.4 177.4,536.0 178.2,535.5 179.0,534.9 179.8,534.6 180.6,534.4 181.5,533.9 182.3,533.3 183.1,532.7 183.9,532.6 184.7,532.2 185.6,531.7 186.4,531.2 187.2,530.9 188.0,530.7 188.9,530.2 189.7,529.6 190.5,529.3 191.4,529.1 192.2,528.7 193.0,528.2 193.9,527.7 194.7,527.6 195.5,527.2 196.4,526.8 197.2,526.1 198.1,526.0 198.9,525.8 199.7,525.3 200.6,524.8 201.4,524.4 202.3,524.3 203.1,523.9 204.0,523.5 204.8,523.0 205.7,522.9 206.5,522.6 207.4,522.2 208.2,521.6 209.1,521.5 210.0,521.4 210.8,520.9 211.7,520.4 212.5,520.0 213.4,520.1 214.3,519.7 215.1,519.3 216.0,518.7 216.8,518.7 217.7,518.5 218.6,518.1 219.4,517.6 220.3,517.4 221.2,517.3 222.0,516.9 222.9,516.5 223.8,516.1 224.6,516.1 225.5,515.8 226.4,515.5 227.3,515.0 228.1,514.9 229.0,514.8 229.9,514.4 230.8,514.0 231.6,513.7 232.5,513.7 233.4,513.4 234.3,513.0 235.1,512.6 236.0,512.6 236.9,512.4 237.8,512.1 238.7,511.7 239.5,511.6 240.4,511.4 241.3,511.2 242.2,510.9 243.1,510.6 243.9,510.6 244.8,510.3 245.7,510.0 246.6,509.5 247.5,509.6 248.4,509.5 249.3,509.2 250.1,508.8 251.0,508.6 251.9,508.6 252.8,508.3 253.7,508.1 254.6,507.8 255.5,507.9 256.4,507.7 257.2,507.4 258.1,506.9 259.0,507.0 259.9,506.9 260.8,506.7 261.7,506.4 262.6,506.2 263.5,506.3 264.4,506.0 265.2,505.8 266.1,505.4 267.0,505.5 267.9,505.5 268.8,505.2 269.7,504.8 270.6,504.7 271.5,504.9 272.4,504.6 273.3,504.4 274.1,504.0 275.0,504.3 275.9,504.2 276.8,503.9 277.7,503.5 278.6,503.5 279.5,503.6 280.4,503.5 281.3,503.3 282.2,503.1 283.1,503.3 284.0,503.2 284.9,503.0 285.8,502.7 286.8,502.8 287.7,502.9 288.6,502.8 289.5,502.6 290.4,502.6 291.4,502.8 292.3,502.7 293.2,502.6 294.2,502.5 295.1,502.7 296.0,502.7 297.0,502.7 297.9,502.5 298.9,502.8 299.9,502.9 300.8,502.9 301.8,502.8 302.8,503.1 303.7,503.3 304.7,503.3 305.7,503.2 306.7,503.6 307.7,503.8 308.7,503.9 309.7,503.9 310.7,504.3 311.7,504.6 312.8,504.7 313.8,504.6 314.8,505.3 315.7,505.6 316.6,505.8 317.3,505.8 317.9,506.2 318.3,506.8 318.5,507.2 318.5,507.6 318.2,508.0 317.7,508.4 316.9,508.8 316.1,509.3 315.1,509.9 314.0,510.1 312.9,510.1 311.8,511.0 310.7,511.1 309.7,511.1 308.8,511.3 307.8,512.0 306.9,512.1 306.0,512.2 305.1,512.2 304.2,512.8 303.4,513.0 302.5,513.1 301.6,513.1 300.7,513.5 299.8,513.8 299.0,514.0 298.1,514.1 297.2,514.3 296.3,514.8 295.5,515.0 294.6,515.1 293.7,515.0 292.9,515.5 292.0,515.9 291.1,516.0 290.3,516.1 289.4,516.3 288.5,516.9 287.6,517.0 286.8,517.1 285.9,517.1 285.0,517.7 284.2,518.0 283.3,518.2 282.4,518.2 281.5,518.5 280.7,519.1 279.8,519.2 278.9,519.3 278.0,519.4 277.2,520.1 276.3,520.3 275.4,520.5 274.5,520.5 273.7,521.1 272.8,521.5 271.9,521.7 271.0,521.7 270.2,522.0 269.3,522.7 268.4,522.8 267.5,523.0 266.7,523.2 265.8,523.9 264.9,524.2 264.1,524.3 263.2,524.2 262.3,524.9 261.4,525.4 260.6,525.6 259.7,525.7 258.8,526.1 258.0,526.7 257.1,526.9 256.3,527.1 255.4,527.3 254.5,528.1 253.7,528.4 252.8,528.6 252.0,528.5 251.1,529.3 250.2,529.7 249.4,530.0 248.5,530.2 247.7,530.6 246.8,531.1 246.0,531.5 245.2,531.8 244.3,532.1 243.5,532.7 242.6,533.1 241.8,533.3 241.0,533.4 240.1,534.1 239.3,534.6 238.5,534.9 237.7,535.2 236.8,535.6 236.0,536.4 235.2,536.6 234.4,536.9 233.6,537.0 232.7,537.9 231.9,538.3 231.1,538.6 230.3,538.9 229.5,539.4 228.7,540.0 227.9,540.4 227.1,540.7 226.3,541.1 225.5,541.9 224.7,542.3 223.9,542.5 223.1,542.6 222.4,543.6 221.6,544.1 220.8,544.5 220.0,544.6 219.2,545.2 218.4,546.1 217.7,546.4 216.9,546.6 216.1,546.9 215.3,547.9 214.6,548.3 213.8,548.7 213.0,548.9 212.3,549.6 211.5,550.2 210.7,550.6 210.0,551.0 209.2,551.5 208.5,552.4 207.7,552.7 207.0,553.1 206.2,553.2 205.4,554.2 204.7,554.8 203.9,555.2 203.2,555.5 202.5,556.1 201.7,556.9 201.0,557.3 200.2,557.7 199.5,558.0 198.7,558.9 198.0,559.4 197.3,559.9 196.5,560.1 195.8,560.8 195.0,561.6 194.3,562.0 193.6,562.4 192.8,562.9 192.1,563.8 191.4,564.2 190.7,564.7 189.9,564.9 189.2,565.8 188.5,566.5 187.7,566.9 187.0,567.2 186.3,567.8 185.6,568.7 184.9,569.1 184.1,569.6 183.4,569.9 182.7,570.8 182.0,571.4 181.3,571.9 180.5,572.3 179.8,573.0 179.1,573.7 178.4,574.2 177.7,574.6 177.0,575.1 176.3,576.1 175.5,576.5 174.8,576.9 174.1,577.2 173.4,578.2 172.7,578.8 172.0,579.3 171.3,579.7 170.6,580.3 169.9,581.1 169.1,581.6 168.4,582.1 167.7,582.5 167.0,583.4 166.3,584.0 165.6,584.5 164.9,584.9 164.2,585.6 163.5,586.5 162.8,586.9 162.1,587.1 161.4,587.8 160.7,588.8 160.0,589.2 159.3,589.7 158.6,590.0 157.9,591.0 157.2,591.6 156.4,592.1 155.7,592.4 155.0,593.2 154.3,594.0 153.6,594.5 152.9,594.9 152.2,595.5 151.5,596.4 150.8,596.9 150.1,597.4 149.4,597.7 148.7,598.6 148.0,599.3 147.3,599.8 146.6,600.2 145.9,600.9 145.2,601.7 144.5,602.2 143.8,602.6 143.1,603.1 142.4,604.0 141.7,604.6 141.0,605.1 140.3,605.5 139.6,606.4 138.9,607.0 138.2,607.5 137.5,607.8 136.8,608.6 136.1,609.5 135.4,609.9 134.7,610.4 134.0,610.8 133.3,611.8 132.6,612.3 131.9,612.9 131.2,613.2 130.5,614.1 129.8,614.8 129.1,615.3 128.4,615.7 127.7,616.4 127.1,617.2 126.4,617.7 125.7,618.2 125.0,618.7 124.3,619.5 123.6,620.1 122.9,620.7 122.3,621.2 121.6,621.9 120.9,622.7 120.2,623.2 119.5,623.6 118.8,624.2 118.2,625.1 117.5,625.6 116.8,626.1 116.1,626.5 115.5,627.5 114.8,628.1 114.1,628.6 113.5,629.0 112.8,629.7 112.1,630.7 111.5,631.1 110.8,631.5 110.1,631.9 109.5,633.1 108.8,633.6 108.1,634.1 107.5,634.4 106.8,635.3 106.2,636.1 105.5,636.6 104.9,637.1 104.2,637.7 103.6,638.6 102.9,639.2 102.3,639.7 101.6,640.0 101.0,640.9 100.3,641.6 99.7,642.2 99.1,642.7 98.4,643.3 97.8,644.2 97.1,644.7 96.5,645.3 95.9,645.7 95.2,646.6 94.6,647.3 94.0,647.8 93.3,648.3 92.7,648.9 92.0,650.0 91.4,650.5 90.8,650.9 90.1,651.3 89.5,652.3 88.8,653.0 88.2,653.6 87.5,654.0 86.9,654.8 86.2,655.6 85.6,656.2 84.9,656.7 84.2,657.3 83.6,658.2 82.9,658.8 82.2,659.4 81.5,659.9 80.9,660.8 80.2,661.5 79.5,662.1 78.8,662.6 78.1,663.5 77.3,664.3 76.6,664.8 75.9,665.1 75.2,666.2 74.4,666.9 73.7,667.5 73.0,668.1 72.2,669.0 71.4,669.7 70.7,670.3 69.9,670.8 69.2,671.6 68.4,672.2 67.7,672.5 67.0,672.6 66.4,672.5 65.8,672.5" fill="none" stroke="#bf00bf" stroke-width="1.5" stroke-linejoin="round" />
<rect x="271.70" y="117.30" width="66.00" height="72.10" fill="#fff" stroke="#808080" stroke-width="1"/>
<line x1="276.20" y1="124.00" x2="298.80" y2="124.00" stroke="#0000ff" stroke-width="1.4"/>
<text class="lg" transform="translate(300.80,127.30) scale(1,1.08)" text-anchor="start" >Off state</text>
<line x1="276.20" y1="135.50" x2="298.80" y2="135.50" stroke="#008000" stroke-width="1.4"/>
<text class="lg" transform="translate(300.80,138.80) scale(1,1.08)" text-anchor="start" >0.29 T</text>
<line x1="276.20" y1="147.10" x2="298.80" y2="147.10" stroke="#ff0000" stroke-width="1.4"/>
<text class="lg" transform="translate(300.80,150.40) scale(1,1.08)" text-anchor="start" >0.507 T</text>
<line x1="276.20" y1="158.90" x2="298.80" y2="158.90" stroke="#00bfbf" stroke-width="1.4"/>
<text class="lg" transform="translate(300.80,162.20) scale(1,1.08)" text-anchor="start" >0.720 T</text>
<line x1="276.20" y1="170.50" x2="298.80" y2="170.50" stroke="#bf00bf" stroke-width="1.4"/>
<text class="lg" transform="translate(300.80,173.80) scale(1,1.08)" text-anchor="start" >0.908 T</text>
<line x1="276.20" y1="182.10" x2="298.80" y2="182.10" stroke="#bfbf00" stroke-width="1.4"/>
<text class="lg" transform="translate(300.80,185.40) scale(1,1.08)" text-anchor="start" >1 T</text>
<rect x="286.00" y="355.40" width="53.00" height="80.60" fill="#fff" stroke="#808080" stroke-width="1"/>
<line x1="290.60" y1="362.60" x2="312.00" y2="362.60" stroke="#0000ff" stroke-width="1.4"/>
<text class="lg" transform="translate(314.60,365.90) scale(1,1.08)" text-anchor="start" >1 Hz</text>
<line x1="290.60" y1="373.60" x2="312.00" y2="373.60" stroke="#008000" stroke-width="1.4"/>
<text class="lg" transform="translate(314.60,376.90) scale(1,1.08)" text-anchor="start" >3 Hz</text>
<line x1="290.60" y1="384.80" x2="312.00" y2="384.80" stroke="#ff0000" stroke-width="1.4"/>
<text class="lg" transform="translate(314.60,388.10) scale(1,1.08)" text-anchor="start" >5 Hz</text>
<line x1="290.60" y1="396.00" x2="312.00" y2="396.00" stroke="#00bfbf" stroke-width="1.4"/>
<text class="lg" transform="translate(314.60,399.30) scale(1,1.08)" text-anchor="start" >7 Hz</text>
<line x1="290.60" y1="407.00" x2="312.00" y2="407.00" stroke="#bf00bf" stroke-width="1.4"/>
<text class="lg" transform="translate(314.60,410.30) scale(1,1.08)" text-anchor="start" >10 Hz</text>
<line x1="290.60" y1="418.20" x2="312.00" y2="418.20" stroke="#bfbf00" stroke-width="1.4"/>
<text class="lg" transform="translate(314.60,421.50) scale(1,1.08)" text-anchor="start" >13 Hz</text>
<line x1="290.60" y1="429.40" x2="312.00" y2="429.40" stroke="#404040" stroke-width="1.4"/>
<text class="lg" transform="translate(314.60,432.70) scale(1,1.08)" text-anchor="start" >16 Hz</text>
<rect x="287.40" y="614.00" width="49.00" height="61.00" fill="#fff" stroke="#808080" stroke-width="1"/>
<line x1="292.00" y1="621.00" x2="313.00" y2="621.00" stroke="#0000ff" stroke-width="1.4"/>
<text class="lg" transform="translate(316.00,624.30) scale(1,1.08)" text-anchor="start" >1%</text>
<line x1="292.00" y1="632.60" x2="313.00" y2="632.60" stroke="#008000" stroke-width="1.4"/>
<text class="lg" transform="translate(316.00,635.90) scale(1,1.08)" text-anchor="start" >3%</text>
<line x1="292.00" y1="644.40" x2="313.00" y2="644.40" stroke="#ff0000" stroke-width="1.4"/>
<text class="lg" transform="translate(316.00,647.70) scale(1,1.08)" text-anchor="start" >5%</text>
<line x1="292.00" y1="656.20" x2="313.00" y2="656.20" stroke="#00bfbf" stroke-width="1.4"/>
<text class="lg" transform="translate(316.00,659.50) scale(1,1.08)" text-anchor="start" >7%</text>
<line x1="292.00" y1="668.00" x2="313.00" y2="668.00" stroke="#bf00bf" stroke-width="1.4"/>
<text class="lg" transform="translate(316.00,671.30) scale(1,1.08)" text-anchor="start" >10%</text>
<text class="tk" transform="translate(41.20,210.70) scale(1,1.2)" text-anchor="middle" >-6</text>
<text class="tk" transform="translate(91.85,210.70) scale(1,1.2)" text-anchor="middle" >-4</text>
<text class="tk" transform="translate(142.50,210.70) scale(1,1.2)" text-anchor="middle" >-2</text>
<text class="tk" transform="translate(194.45,210.70) scale(1,1.2)" text-anchor="middle" >0</text>
<text class="tk" transform="translate(245.10,210.70) scale(1,1.2)" text-anchor="middle" >2</text>
<text class="tk" transform="translate(295.75,210.70) scale(1,1.2)" text-anchor="middle" >4</text>
<text class="tk" transform="translate(346.40,210.70) scale(1,1.2)" text-anchor="middle" >6</text>
<text class="tk" transform="translate(39.90,203.30) scale(1,1.2)" text-anchor="end" >-1</text>
<text class="tk" transform="translate(39.90,154.60) scale(1,1.2)" text-anchor="end" >-0.5</text>
<text class="tk" transform="translate(39.90,105.90) scale(1,1.2)" text-anchor="end" >0</text>
<text class="tk" transform="translate(39.90,57.20) scale(1,1.2)" text-anchor="end" >0.5</text>
<text class="tk" transform="translate(39.90,8.50) scale(1,1.2)" text-anchor="end" >1</text>
<text class="lb" transform="translate(194.45,221.90) scale(1,1.12)" text-anchor="middle" >Strain (%)</text>
<text class="lb" style="font-size:10.1px" transform="translate(15.80,103.30) rotate(-90) scale(1,1.12)" text-anchor="middle">Stress (N/mm<tspan dy="-4" font-size="7.5">2</tspan><tspan dy="4">)</tspan></text>
<text class="cap" x="192.90" y="239.50" text-anchor="middle">(a)</text>
<text class="tk" transform="translate(40.20,455.80) scale(1,1.2)" text-anchor="middle" >-6</text>
<text class="tk" transform="translate(91.07,455.80) scale(1,1.2)" text-anchor="middle" >-4</text>
<text class="tk" transform="translate(141.93,455.80) scale(1,1.2)" text-anchor="middle" >-2</text>
<text class="tk" transform="translate(194.10,455.80) scale(1,1.2)" text-anchor="middle" >0</text>
<text class="tk" transform="translate(244.97,455.80) scale(1,1.2)" text-anchor="middle" >2</text>
<text class="tk" transform="translate(295.83,455.80) scale(1,1.2)" text-anchor="middle" >4</text>
<text class="tk" transform="translate(346.70,455.80) scale(1,1.2)" text-anchor="middle" >6</text>
<text class="tk" transform="translate(38.90,448.40) scale(1,1.2)" text-anchor="end" >-1.5</text>
<text class="tk" transform="translate(38.90,415.78) scale(1,1.2)" text-anchor="end" >-1</text>
<text class="tk" transform="translate(38.90,383.17) scale(1,1.2)" text-anchor="end" >-0.5</text>
<text class="tk" transform="translate(38.90,350.55) scale(1,1.2)" text-anchor="end" >0</text>
<text class="tk" transform="translate(38.90,317.93) scale(1,1.2)" text-anchor="end" >0.5</text>
<text class="tk" transform="translate(38.90,285.32) scale(1,1.2)" text-anchor="end" >1</text>
<text class="tk" transform="translate(38.90,252.70) scale(1,1.2)" text-anchor="end" >1.5</text>
<text class="lb" transform="translate(194.10,467.00) scale(1,1.12)" text-anchor="middle" >Strain (%)</text>
<text class="lb" style="font-size:10.1px" transform="translate(15.60,347.95) rotate(-90) scale(1,1.12)" text-anchor="middle">Stress (N/mm<tspan dy="-4" font-size="7.5">2</tspan><tspan dy="4">)</tspan></text>
<text class="cap" x="189.30" y="481.10" text-anchor="middle">(b)</text>
<text class="tk" transform="translate(38.20,696.20) scale(1,1.2)" text-anchor="middle" >-6</text>
<text class="tk" transform="translate(88.83,696.20) scale(1,1.2)" text-anchor="middle" >-4</text>
<text class="tk" transform="translate(139.47,696.20) scale(1,1.2)" text-anchor="middle" >-2</text>
<text class="tk" transform="translate(191.40,696.20) scale(1,1.2)" text-anchor="middle" >0</text>
<text class="tk" transform="translate(242.03,696.20) scale(1,1.2)" text-anchor="middle" >2</text>
<text class="tk" transform="translate(292.67,696.20) scale(1,1.2)" text-anchor="middle" >4</text>
<text class="tk" transform="translate(343.30,696.20) scale(1,1.2)" text-anchor="middle" >6</text>
<text class="tk" transform="translate(36.90,688.80) scale(1,1.2)" text-anchor="end" >-1</text>
<text class="tk" transform="translate(36.90,640.23) scale(1,1.2)" text-anchor="end" >-0.5</text>
<text class="tk" transform="translate(36.90,591.65) scale(1,1.2)" text-anchor="end" >0</text>
<text class="tk" transform="translate(36.90,543.08) scale(1,1.2)" text-anchor="end" >0.5</text>
<text class="tk" transform="translate(36.90,494.50) scale(1,1.2)" text-anchor="end" >1</text>
<text class="lb" transform="translate(191.40,707.40) scale(1,1.12)" text-anchor="middle" >Strain (%)</text>
<text class="lb" style="font-size:10.1px" transform="translate(12.60,589.05) rotate(-90) scale(1,1.12)" text-anchor="middle">Stress (N/mm<tspan dy="-4" font-size="7.5">2</tspan><tspan dy="4">)</tspan></text>
<text class="cap" x="189.30" y="722.50" text-anchor="middle">(c)</text>
<line x1="114.00" y1="66.00" x2="166.85" y2="31.74" stroke="#000" stroke-width="1.6"/>
<polygon points="172.30,28.20 167.97,35.30 164.05,29.26" fill="#000"/>
<line x1="223.60" y1="85.60" x2="163.41" y2="125.70" stroke="#000" stroke-width="1.6"/>
<polygon points="158.00,129.30 162.25,122.15 166.24,128.14" fill="#000"/>
<text class="an" x="111.8" y="37.8">Loading</text>
<text class="an" x="189.3" y="119.4">Unloading</text>
<text class="an2" transform="translate(53.60,263.40) scale(1,1.1)" text-anchor="start" >0.29 T</text>
<text class="an2" transform="translate(52.10,505.30) scale(1,1.1)" text-anchor="start" >0.29 T</text>
</svg>
</body></html>
